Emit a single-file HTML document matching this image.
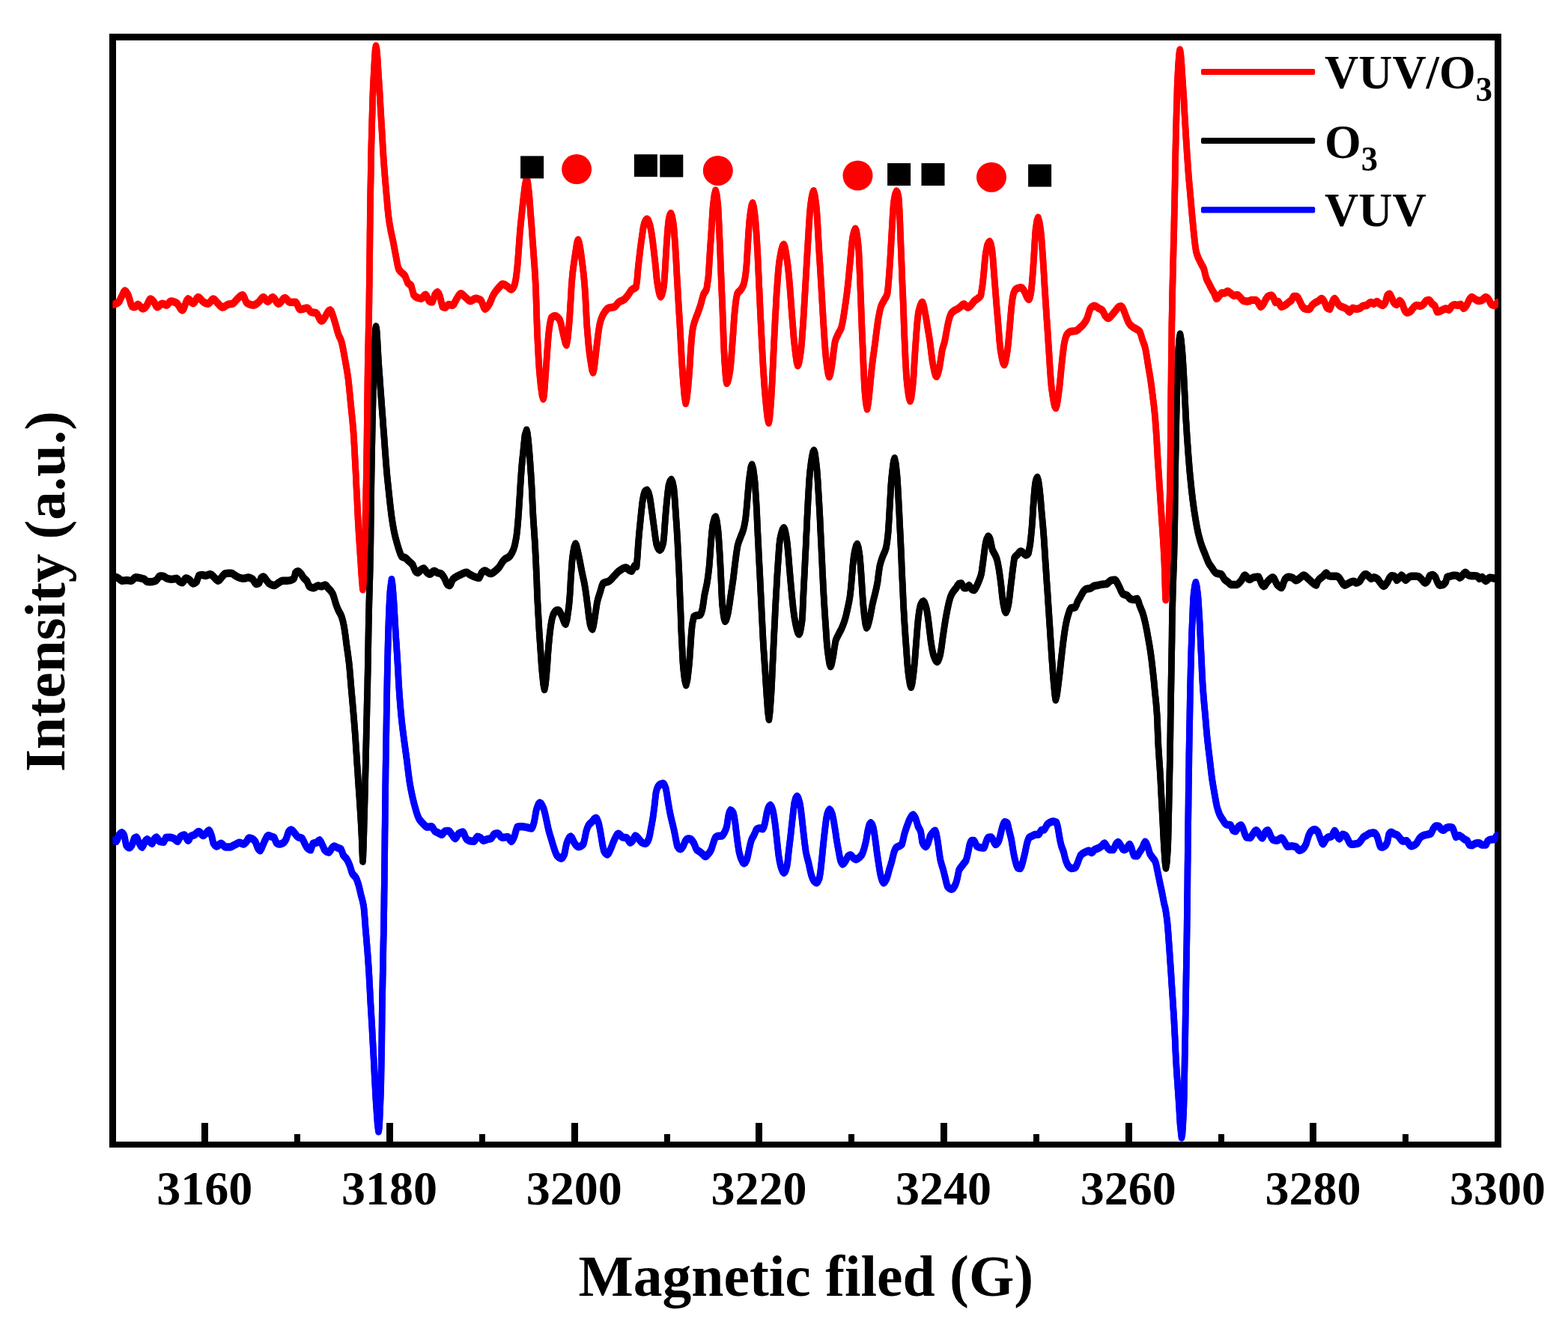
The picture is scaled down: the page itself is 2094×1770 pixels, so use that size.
<!DOCTYPE html>
<html><head><meta charset="utf-8"><title>EPR spectra</title>
<style>
html,body{margin:0;padding:0;background:#fff;}
body{width:2094px;height:1770px;overflow:hidden;}
svg{display:block;}
text{font-family:"Liberation Serif","Times New Roman",serif;font-weight:bold;fill:#000;}
.tk{font-size:64px;}
.ax{font-size:77.6px;}
.lg{font-size:64px;}
.sub{font-size:45.5px;}
</style></head><body>
<svg width="2094" height="1770" viewBox="0 0 2094 1770">
<rect x="0" y="0" width="2094" height="1770" fill="#ffffff"/>
<defs><clipPath id="plot"><rect x="150.5" y="49.5" width="1850.3" height="1479.5"/></clipPath></defs>
<g id="ticks" shape-rendering="crispEdges">
<rect x="269" y="1500" width="9" height="29" fill="#000"/>
<rect x="393" y="1515" width="8" height="14" fill="#000"/>
<rect x="516" y="1500" width="9" height="29" fill="#000"/>
<rect x="640" y="1515" width="8" height="14" fill="#000"/>
<rect x="763" y="1500" width="9" height="29" fill="#000"/>
<rect x="887" y="1515" width="8" height="14" fill="#000"/>
<rect x="1009" y="1500" width="9" height="29" fill="#000"/>
<rect x="1133" y="1515" width="8" height="14" fill="#000"/>
<rect x="1256" y="1500" width="9" height="29" fill="#000"/>
<rect x="1380" y="1515" width="8" height="14" fill="#000"/>
<rect x="1503" y="1500" width="9" height="29" fill="#000"/>
<rect x="1627" y="1515" width="8" height="14" fill="#000"/>
<rect x="1749" y="1500" width="9" height="29" fill="#000"/>
<rect x="1873" y="1515" width="8" height="14" fill="#000"/>
</g>
<g id="frame" fill="#000" shape-rendering="crispEdges">
<rect x="146" y="45" width="9" height="1488"/>
<rect x="1996" y="45" width="9" height="1488"/>
<rect x="146" y="45" width="1859" height="9"/>
<rect x="146" y="1525" width="1859" height="8"/>
</g>
<g id="curves" clip-path="url(#plot)">
<g fill="none" stroke="#0000ff" stroke-width="8.6" stroke-linejoin="round" stroke-linecap="butt">
<path transform="translate(0,-0.9)" d="M147.0,1121.9 L148.8,1121.9 L150.5,1121.9 L152.1,1122.4 L153.7,1123.3 L155.3,1123.8 L156.6,1121.9 L157.9,1118.1 L159.2,1115.2 L160.9,1113.2 L162.6,1112.3 L164.2,1113.4 L165.9,1116.1 L167.2,1122.4 L168.4,1128.6 L169.8,1130.6 L171.2,1131.9 L172.6,1132.4 L173.9,1131.8 L175.1,1130.4 L176.4,1128.6 L177.9,1124.0 L179.3,1120.0 L180.8,1119.0 L182.2,1118.6 L183.5,1120.3 L184.7,1123.7 L186.0,1126.7 L187.3,1128.8 L188.5,1130.7 L189.8,1131.5 L191.6,1128.7 L193.3,1124.7 L194.9,1122.5 L196.5,1121.3 L197.8,1122.0 L199.1,1123.4 L200.4,1124.7 L201.8,1126.0 L203.2,1126.7 L204.6,1124.2 L206.1,1120.9 L207.6,1119.3 L209.0,1118.6 L210.3,1119.9 L211.5,1122.3 L212.8,1123.8 L214.2,1124.2 L215.7,1124.5 L217.2,1124.6 L218.6,1124.7 L220.1,1121.9 L221.5,1119.0 L223.1,1118.8 L224.6,1118.6 L226.2,1118.6 L227.6,1118.7 L229.1,1119.0 L230.6,1119.5 L232.0,1120.0 L233.3,1120.9 L234.7,1122.1 L236.1,1123.3 L237.4,1123.8 L239.0,1121.2 L240.6,1118.0 L242.1,1117.0 L243.5,1116.2 L244.9,1115.7 L246.4,1115.5 L248.0,1117.4 L249.6,1120.9 L251.2,1122.8 L252.5,1121.5 L253.7,1118.9 L255.0,1117.1 L256.6,1116.3 L258.2,1115.8 L259.8,1115.2 L261.2,1114.1 L262.6,1112.7 L264.1,1111.4 L265.5,1110.9 L266.9,1111.7 L268.4,1113.5 L269.9,1115.3 L271.3,1116.1 L272.6,1115.6 L273.8,1114.4 L275.1,1113.2 L276.4,1111.7 L277.7,1110.1 L279.0,1109.4 L280.3,1110.6 L281.5,1113.5 L282.8,1117.1 L284.7,1125.7 L286.3,1128.2 L287.9,1129.9 L289.5,1130.5 L290.9,1129.9 L292.4,1128.6 L293.8,1127.3 L295.2,1126.7 L296.6,1127.4 L298.1,1129.1 L299.6,1130.8 L301.0,1131.5 L302.4,1131.5 L303.9,1131.5 L305.3,1131.5 L306.7,1131.5 L308.1,1131.3 L309.4,1130.8 L310.8,1130.0 L312.1,1129.3 L313.5,1128.6 L315.2,1127.7 L316.9,1126.8 L318.5,1126.0 L320.2,1125.7 L321.8,1126.2 L323.4,1127.1 L325.0,1127.6 L326.3,1127.1 L327.5,1126.0 L328.8,1124.7 L330.1,1122.8 L331.3,1120.5 L332.6,1119.4 L334.2,1119.6 L335.8,1120.2 L337.4,1120.9 L338.7,1121.7 L339.9,1123.0 L341.2,1124.7 L342.6,1128.5 L344.1,1132.4 L345.8,1135.0 L347.4,1136.2 L349.1,1133.7 L350.8,1129.5 L352.1,1126.6 L353.4,1123.5 L354.7,1120.9 L356.4,1117.8 L358.1,1116.1 L359.5,1116.4 L360.9,1116.9 L362.3,1117.5 L363.6,1117.9 L364.9,1118.3 L366.2,1119.0 L367.6,1122.3 L369.0,1125.7 L370.3,1126.7 L371.6,1127.4 L372.9,1127.6 L374.3,1127.5 L375.8,1127.1 L377.2,1126.4 L378.6,1125.7 L379.9,1124.5 L381.2,1122.5 L382.5,1120.0 L383.9,1115.4 L385.3,1111.3 L387.1,1109.3 L388.8,1108.5 L390.2,1109.2 L391.6,1110.7 L393.0,1112.3 L394.6,1114.3 L396.2,1116.5 L397.8,1118.0 L399.2,1118.6 L400.6,1118.9 L402.1,1119.3 L403.5,1120.0 L405.1,1122.9 L406.8,1126.7 L408.5,1129.9 L410.2,1132.4 L411.8,1133.8 L413.4,1134.9 L415.0,1135.3 L416.4,1131.2 L417.9,1126.7 L419.5,1126.3 L421.1,1126.0 L422.7,1125.7 L424.1,1124.6 L425.5,1123.2 L426.9,1122.4 L428.6,1124.7 L430.4,1128.6 L431.7,1131.4 L432.9,1134.3 L434.2,1136.2 L435.9,1137.4 L437.7,1138.2 L439.4,1138.5 L441.1,1136.4 L442.8,1133.4 L444.5,1131.5 L446.1,1130.5 L447.6,1130.9 L449.0,1131.6 L450.5,1132.4 L452.1,1132.9 L453.7,1133.4 L455.3,1134.3 L456.8,1137.8 L458.2,1142.0 L459.8,1144.1 L461.4,1145.7 L463.0,1147.7 L464.3,1149.9 L465.5,1152.5 L466.8,1155.4 L468.1,1159.3 L469.3,1163.6 L470.6,1166.9 L472.2,1169.0 L473.8,1170.6 L475.4,1172.7 L477.1,1176.7 L478.9,1182.2 L480.5,1188.6 L482.1,1195.7 L483.9,1202.2 L485.7,1210.6 L486.5,1218.7 L487.4,1230.0 L488.2,1241.2 L489.1,1251.2 L489.9,1261.1 L490.8,1271.8 L491.5,1281.2 L492.2,1291.3 L492.9,1302.4 L493.4,1312.2 L494.0,1322.8 L494.5,1333.1 L495.1,1343.5 L495.7,1353.5 L496.3,1363.7 L496.9,1373.7 L497.4,1383.9 L498.0,1394.3 L498.5,1404.4 L499.1,1414.6 L499.6,1424.9 L500.1,1435.3 L500.7,1445.7 L501.2,1455.5 L501.8,1466.6 L502.5,1477.0 L503.1,1486.1 L504.3,1502.6 L505.5,1511.4 L506.2,1507.5 L506.9,1497.2 L507.5,1482.6 L508.2,1465.7 L508.5,1457.3 L508.8,1446.7 L509.0,1434.1 L509.3,1419.9 L509.6,1404.5 L509.8,1393.9 L509.9,1381.2 L510.1,1367.6 L510.2,1354.6 L510.4,1343.3 L510.6,1329.4 L510.9,1317.1 L511.1,1305.6 L511.4,1294.2 L511.6,1282.0 L511.8,1270.4 L512.0,1258.8 L512.3,1246.9 L512.5,1234.3 L512.7,1220.8 L512.9,1209.8 L513.0,1198.1 L513.2,1185.8 L513.4,1172.9 L513.5,1159.5 L513.7,1145.5 L513.8,1134.9 L513.9,1123.3 L514.0,1111.2 L514.2,1099.3 L514.3,1087.8 L514.4,1077.5 L514.6,1064.4 L514.7,1052.1 L514.9,1040.3 L515.0,1028.9 L515.2,1018.0 L515.4,1007.4 L515.5,997.0 L515.7,986.8 L515.9,974.3 L516.1,961.9 L516.3,949.8 L516.5,938.0 L516.7,926.6 L516.9,915.8 L517.1,905.6 L517.3,896.1 L517.6,882.6 L517.9,869.7 L518.2,857.6 L518.5,846.5 L518.8,836.5 L519.1,828.0 L519.8,811.0 L520.5,797.0 L521.2,787.2 L523.0,774.1 L524.1,780.9 L525.2,794.0 L525.9,803.5 L526.6,815.1 L527.3,827.5 L528.0,839.4 L528.7,850.8 L529.5,861.9 L530.2,873.2 L530.9,884.7 L531.6,896.2 L532.2,908.3 L532.9,919.9 L533.6,930.1 L534.6,942.9 L535.6,954.1 L536.6,964.1 L538.3,978.5 L540.0,991.3 L541.7,1003.8 L543.4,1016.2 L545.1,1030.3 L546.8,1043.4 L548.5,1053.3 L550.2,1061.6 L551.7,1068.2 L553.2,1074.3 L554.7,1079.7 L556.2,1085.0 L557.8,1089.7 L559.3,1093.3 L560.7,1095.5 L562.1,1097.2 L563.5,1098.7 L564.9,1100.1 L566.3,1101.6 L567.8,1103.1 L569.2,1104.2 L570.6,1104.7 L572.0,1104.6 L573.5,1104.5 L574.9,1104.3 L576.3,1104.2 L577.8,1105.5 L579.3,1108.2 L580.8,1110.3 L582.3,1111.2 L583.8,1111.9 L585.3,1112.6 L586.8,1113.5 L588.4,1114.5 L589.9,1114.9 L591.4,1113.8 L592.9,1111.6 L594.4,1110.3 L595.9,1110.1 L597.4,1109.9 L598.9,1109.9 L600.4,1110.8 L602.0,1112.8 L603.5,1114.9 L605.0,1117.0 L606.5,1119.1 L608.0,1120.1 L609.5,1118.6 L611.0,1115.8 L612.5,1113.7 L613.9,1112.9 L615.4,1112.2 L616.8,1111.7 L618.2,1111.5 L619.7,1113.5 L621.2,1117.5 L622.7,1120.5 L624.2,1121.8 L625.8,1122.8 L627.3,1123.3 L628.7,1123.5 L630.1,1123.7 L631.5,1123.9 L632.9,1123.9 L634.4,1122.3 L636.0,1119.4 L637.5,1117.8 L639.0,1118.0 L640.5,1118.6 L642.0,1119.4 L643.7,1121.3 L645.4,1122.8 L646.8,1122.6 L648.2,1122.1 L649.7,1121.5 L651.1,1121.0 L652.6,1120.7 L654.1,1120.5 L655.6,1120.1 L657.1,1118.5 L658.7,1115.8 L660.2,1114.2 L661.7,1113.7 L663.2,1113.4 L664.7,1113.3 L666.1,1114.1 L667.5,1116.0 L669.0,1117.9 L670.4,1118.7 L672.0,1118.7 L673.6,1118.6 L675.1,1118.4 L676.7,1118.3 L678.3,1118.3 L679.8,1119.8 L681.3,1122.4 L682.8,1123.9 L684.3,1122.6 L685.9,1119.6 L687.4,1116.0 L689.1,1109.5 L690.8,1104.7 L692.2,1104.5 L693.6,1104.3 L695.0,1104.2 L696.4,1104.2 L697.8,1104.3 L699.1,1104.4 L700.5,1104.6 L701.8,1104.9 L703.2,1105.1 L704.6,1105.4 L705.9,1105.8 L707.3,1106.1 L708.6,1106.4 L710.0,1106.5 L711.7,1103.7 L713.4,1097.9 L714.8,1089.8 L716.2,1082.0 L717.8,1077.4 L719.3,1073.9 L720.9,1072.5 L722.6,1073.6 L724.2,1076.2 L725.9,1079.7 L727.6,1085.6 L729.3,1093.3 L731.0,1101.4 L732.7,1109.2 L734.4,1115.1 L736.1,1120.5 L737.8,1126.4 L739.5,1131.9 L741.0,1136.4 L742.6,1140.6 L744.1,1143.2 L745.5,1144.5 L746.9,1145.6 L748.3,1146.3 L749.7,1146.6 L751.1,1145.8 L752.4,1143.8 L753.8,1141.0 L755.1,1134.3 L756.5,1127.3 L757.9,1123.6 L759.4,1120.5 L760.8,1118.4 L762.2,1117.6 L763.6,1118.8 L765.0,1121.6 L766.5,1124.9 L767.9,1127.3 L769.4,1129.1 L770.9,1130.6 L772.4,1131.2 L773.8,1131.0 L775.1,1130.6 L776.5,1129.8 L777.8,1128.7 L779.2,1127.3 L780.9,1120.4 L782.6,1111.5 L784.3,1106.1 L786.0,1102.4 L787.5,1100.6 L789.0,1099.2 L790.5,1097.9 L791.8,1096.3 L793.1,1094.6 L794.5,1093.3 L795.8,1092.7 L797.1,1093.8 L798.3,1096.6 L799.6,1100.1 L801.3,1108.2 L803.0,1118.3 L804.7,1128.8 L806.4,1136.4 L807.9,1139.0 L809.5,1140.7 L811.0,1141.4 L812.5,1140.2 L814.0,1137.3 L815.5,1134.1 L817.0,1130.5 L818.5,1126.4 L820.0,1122.8 L821.4,1119.8 L822.9,1116.8 L824.3,1114.6 L825.7,1113.7 L827.1,1114.3 L828.5,1115.8 L830.0,1117.3 L831.4,1118.3 L832.8,1118.6 L834.2,1118.8 L835.6,1119.0 L837.0,1119.4 L838.5,1121.2 L840.1,1124.0 L841.6,1125.5 L843.3,1124.6 L845.0,1122.8 L846.7,1119.2 L848.4,1116.5 L849.9,1117.2 L851.4,1118.8 L852.9,1120.5 L854.4,1122.3 L855.9,1124.2 L857.4,1125.5 L858.9,1126.2 L860.5,1126.7 L862.0,1126.9 L863.5,1126.0 L865.0,1123.7 L866.5,1120.5 L867.9,1114.9 L869.2,1107.3 L870.6,1100.1 L872.0,1092.0 L874.0,1076.7 L875.9,1059.4 L877.3,1054.0 L878.7,1050.8 L880.2,1049.0 L881.6,1047.9 L882.9,1047.3 L884.2,1046.8 L885.5,1046.6 L886.8,1047.6 L888.0,1050.2 L889.3,1053.7 L890.5,1060.4 L891.8,1069.0 L893.0,1075.9 L894.1,1082.4 L895.5,1089.4 L897.0,1095.8 L898.4,1101.5 L899.8,1107.3 L901.0,1113.0 L902.1,1118.8 L903.4,1125.5 L904.6,1130.3 L905.9,1132.3 L907.2,1133.7 L908.5,1134.2 L909.8,1133.6 L911.0,1132.1 L912.3,1130.3 L913.8,1126.9 L915.2,1123.6 L916.9,1121.4 L918.6,1120.4 L919.9,1120.5 L921.1,1120.7 L922.4,1121.1 L923.8,1122.2 L925.3,1124.2 L926.7,1126.5 L928.0,1129.4 L929.2,1132.8 L930.5,1135.1 L931.8,1136.1 L933.0,1136.8 L934.3,1137.6 L935.6,1138.6 L936.9,1139.8 L938.2,1140.9 L939.5,1142.2 L940.7,1143.5 L942.0,1144.1 L943.3,1143.6 L944.5,1142.3 L945.8,1140.9 L947.1,1139.4 L948.4,1137.5 L949.7,1135.1 L951.1,1131.1 L952.5,1126.5 L954.0,1121.9 L955.4,1118.8 L956.7,1117.9 L957.9,1117.2 L959.2,1116.9 L960.8,1116.7 L962.4,1116.7 L964.0,1116.5 L965.3,1115.6 L966.6,1113.6 L967.9,1111.2 L969.3,1108.1 L970.7,1103.5 L972.7,1090.1 L974.1,1084.9 L975.5,1082.4 L976.8,1082.9 L978.1,1084.2 L979.4,1086.2 L980.6,1091.4 L981.9,1099.7 L983.0,1109.0 L984.2,1118.8 L985.6,1129.5 L987.0,1138.0 L988.5,1143.7 L989.9,1147.6 L991.2,1150.3 L992.4,1152.4 L993.7,1153.3 L995.0,1152.5 L996.3,1150.4 L997.6,1147.6 L999.0,1141.6 L1000.5,1134.2 L1001.9,1127.9 L1003.3,1122.7 L1004.6,1119.7 L1005.9,1117.4 L1007.2,1115.0 L1008.5,1112.0 L1009.7,1109.0 L1011.0,1107.3 L1012.3,1106.8 L1013.5,1106.5 L1014.8,1106.4 L1016.1,1106.6 L1017.4,1107.1 L1018.7,1107.3 L1020.1,1104.8 L1021.5,1099.7 L1022.8,1093.1 L1024.0,1086.2 L1025.2,1081.7 L1026.3,1078.6 L1027.5,1076.6 L1028.8,1075.7 L1030.4,1077.8 L1032.1,1082.4 L1033.5,1089.6 L1035.0,1099.7 L1036.2,1109.7 L1037.4,1120.7 L1038.6,1131.9 L1039.7,1141.8 L1041.2,1150.9 L1042.6,1157.2 L1044.1,1161.4 L1045.5,1164.5 L1047.0,1165.8 L1048.3,1164.6 L1049.6,1161.6 L1050.9,1157.2 L1052.1,1148.9 L1053.2,1138.0 L1054.6,1126.6 L1056.0,1115.0 L1057.2,1103.5 L1058.5,1092.0 L1059.7,1081.1 L1060.8,1072.8 L1062.5,1066.5 L1064.3,1063.8 L1065.6,1065.1 L1066.8,1068.4 L1068.1,1072.8 L1069.4,1080.9 L1070.8,1092.0 L1072.0,1103.3 L1073.3,1115.0 L1074.8,1127.6 L1076.2,1138.0 L1077.5,1143.8 L1078.7,1148.5 L1080.0,1153.3 L1081.7,1161.5 L1083.4,1168.7 L1085.1,1173.3 L1086.7,1176.3 L1088.0,1177.7 L1089.2,1178.8 L1090.5,1179.2 L1091.8,1178.3 L1093.1,1175.9 L1094.4,1172.5 L1095.7,1164.7 L1096.9,1153.3 L1098.1,1142.0 L1099.2,1130.3 L1100.6,1117.3 L1102.0,1105.4 L1103.2,1095.4 L1104.5,1088.2 L1106.2,1083.5 L1107.8,1081.5 L1109.1,1082.5 L1110.3,1084.9 L1111.6,1088.2 L1113.0,1094.7 L1114.5,1103.5 L1116.0,1113.1 L1117.4,1122.7 L1118.8,1130.6 L1120.2,1138.0 L1121.3,1144.5 L1122.5,1149.5 L1124.0,1152.8 L1125.4,1154.3 L1126.7,1153.5 L1128.1,1151.6 L1129.4,1149.5 L1131.1,1146.3 L1132.7,1143.7 L1134.2,1142.7 L1135.6,1142.2 L1136.9,1142.9 L1138.1,1144.4 L1139.4,1145.7 L1140.7,1146.7 L1141.9,1147.6 L1143.2,1148.0 L1144.5,1147.6 L1145.8,1146.7 L1147.1,1145.7 L1148.4,1144.7 L1149.6,1143.4 L1150.9,1141.8 L1152.3,1138.6 L1153.8,1134.2 L1155.2,1129.0 L1156.7,1122.7 L1157.8,1115.9 L1159.0,1109.2 L1160.9,1101.6 L1162.8,1099.3 L1164.5,1101.1 L1166.2,1105.4 L1167.3,1111.0 L1168.5,1118.8 L1169.8,1128.2 L1171.0,1138.0 L1172.5,1148.1 L1173.9,1157.2 L1175.3,1165.9 L1176.8,1172.5 L1178.4,1177.1 L1180.0,1179.2 L1181.5,1178.2 L1183.0,1175.7 L1184.5,1172.5 L1186.1,1167.3 L1187.7,1161.0 L1189.5,1155.4 L1191.2,1149.5 L1192.6,1143.4 L1194.0,1138.0 L1195.5,1134.4 L1196.9,1132.2 L1198.2,1131.4 L1199.4,1130.9 L1200.7,1130.3 L1202.0,1129.6 L1203.3,1128.8 L1204.6,1127.5 L1206.0,1122.1 L1207.5,1115.0 L1208.8,1110.8 L1210.0,1107.0 L1211.3,1103.5 L1212.6,1099.9 L1213.8,1096.6 L1215.1,1093.9 L1216.6,1091.4 L1218.0,1089.4 L1219.5,1088.5 L1221.2,1090.3 L1223.0,1093.9 L1224.5,1098.6 L1225.9,1103.5 L1227.2,1106.0 L1228.4,1108.0 L1229.7,1111.2 L1231.6,1124.6 L1233.2,1128.0 L1234.8,1130.1 L1236.4,1130.9 L1237.8,1129.5 L1239.3,1126.5 L1240.8,1121.6 L1242.2,1116.9 L1243.6,1114.7 L1245.0,1113.1 L1246.3,1111.6 L1247.6,1110.2 L1248.9,1109.6 L1250.2,1112.7 L1251.4,1118.8 L1252.6,1126.0 L1253.7,1134.2 L1254.8,1142.5 L1256.0,1149.5 L1257.7,1155.6 L1259.4,1161.0 L1260.8,1166.6 L1262.3,1172.5 L1263.8,1179.2 L1265.2,1184.0 L1266.6,1185.6 L1268.1,1186.8 L1269.5,1187.5 L1270.9,1187.8 L1272.5,1187.0 L1274.1,1184.9 L1275.7,1182.1 L1277.2,1178.1 L1278.6,1172.5 L1280.5,1162.9 L1281.8,1160.4 L1283.0,1158.8 L1284.3,1157.2 L1285.8,1155.2 L1287.2,1153.3 L1288.7,1151.6 L1290.1,1149.5 L1291.5,1144.7 L1293.0,1138.0 L1294.9,1128.4 L1296.3,1124.7 L1297.7,1123.0 L1299.2,1123.0 L1300.6,1123.0 L1301.9,1124.7 L1303.2,1128.0 L1304.5,1130.3 L1306.1,1131.2 L1307.6,1131.8 L1309.2,1132.2 L1310.8,1132.4 L1312.4,1132.5 L1314.0,1132.6 L1315.5,1129.4 L1316.9,1124.6 L1318.3,1120.9 L1319.8,1118.8 L1321.1,1118.6 L1322.3,1118.4 L1323.6,1118.4 L1325.0,1120.0 L1326.5,1122.7 L1328.0,1125.9 L1329.4,1128.0 L1330.7,1127.5 L1331.9,1126.3 L1333.2,1124.6 L1334.7,1120.6 L1336.1,1115.0 L1337.5,1108.9 L1339.0,1103.5 L1340.4,1099.9 L1341.8,1098.1 L1343.5,1098.5 L1345.3,1099.7 L1346.4,1103.5 L1347.6,1109.2 L1349.0,1114.7 L1350.5,1120.7 L1351.9,1129.2 L1353.3,1138.0 L1354.8,1145.4 L1356.2,1151.4 L1357.7,1156.3 L1359.1,1159.1 L1360.8,1159.8 L1362.5,1160.0 L1364.2,1157.0 L1365.8,1151.4 L1367.2,1146.1 L1368.7,1139.9 L1370.1,1132.9 L1371.5,1126.5 L1373.0,1121.7 L1374.4,1118.8 L1375.7,1118.0 L1376.9,1117.4 L1378.2,1116.9 L1379.5,1116.2 L1380.8,1115.4 L1382.1,1115.0 L1383.7,1114.9 L1385.3,1114.8 L1386.9,1114.6 L1388.2,1113.2 L1389.4,1110.8 L1390.7,1109.2 L1392.0,1108.9 L1393.2,1108.7 L1394.5,1108.3 L1395.8,1106.6 L1397.1,1103.8 L1398.4,1101.6 L1399.7,1100.4 L1400.9,1099.4 L1402.2,1098.7 L1403.5,1098.1 L1404.7,1097.6 L1406.0,1097.4 L1407.6,1097.5 L1409.2,1098.0 L1410.8,1098.7 L1411.9,1101.8 L1413.1,1107.3 L1415.0,1118.8 L1416.2,1125.1 L1417.5,1130.3 L1419.0,1134.2 L1420.4,1138.0 L1421.8,1143.9 L1423.3,1149.5 L1424.6,1152.7 L1425.8,1155.4 L1427.1,1157.2 L1428.4,1158.5 L1429.7,1159.6 L1431.0,1160.0 L1432.6,1159.9 L1434.1,1159.6 L1435.7,1159.1 L1437.0,1157.5 L1438.3,1154.6 L1439.6,1151.4 L1441.3,1146.7 L1443.0,1142.8 L1444.7,1141.1 L1446.3,1139.9 L1447.6,1139.2 L1448.8,1138.6 L1450.1,1138.0 L1451.4,1137.4 L1452.7,1136.8 L1454.0,1136.5 L1455.3,1137.1 L1456.5,1138.4 L1457.8,1139.0 L1459.1,1138.2 L1460.3,1136.4 L1461.6,1135.1 L1463.2,1134.4 L1464.8,1133.8 L1466.4,1133.2 L1468.0,1132.4 L1469.6,1131.4 L1471.2,1130.3 L1472.5,1128.9 L1473.7,1127.3 L1475.0,1126.5 L1476.3,1127.7 L1477.6,1130.1 L1478.9,1132.2 L1480.2,1133.5 L1481.4,1134.6 L1482.7,1135.1 L1484.0,1135.1 L1485.2,1135.1 L1486.5,1135.1 L1487.8,1133.5 L1489.1,1130.2 L1490.4,1127.5 L1491.8,1125.8 L1493.2,1125.0 L1494.5,1126.0 L1495.8,1128.2 L1497.1,1130.3 L1498.4,1132.3 L1499.6,1134.2 L1500.9,1135.1 L1502.2,1134.8 L1503.4,1134.1 L1504.7,1133.2 L1506.0,1131.4 L1507.3,1129.1 L1508.6,1128.0 L1510.0,1130.2 L1511.5,1134.2 L1512.9,1139.3 L1514.3,1142.8 L1515.6,1143.1 L1516.9,1143.3 L1518.2,1143.4 L1519.5,1142.4 L1520.7,1140.2 L1522.0,1138.0 L1523.3,1136.2 L1524.5,1134.3 L1525.8,1132.2 L1527.5,1127.6 L1529.3,1124.6 L1530.9,1126.5 L1532.5,1130.3 L1534.0,1135.2 L1535.4,1139.9 L1536.7,1142.2 L1537.9,1144.0 L1539.2,1145.7 L1540.5,1147.4 L1541.8,1149.0 L1543.1,1151.4 L1544.5,1157.2 L1546.0,1164.8 L1547.4,1171.5 L1548.8,1178.2 L1550.2,1184.9 L1551.7,1191.7 L1553.2,1199.6 L1554.6,1207.0 L1556.1,1212.7 L1557.4,1220.4 L1558.8,1231.0 L1559.6,1239.7 L1560.4,1250.4 L1561.2,1261.6 L1561.9,1271.4 L1562.6,1281.7 L1563.3,1292.2 L1564.0,1302.3 L1564.6,1312.6 L1565.3,1322.9 L1566.0,1332.9 L1566.6,1342.9 L1567.3,1353.5 L1567.9,1363.1 L1568.4,1373.3 L1569.0,1384.1 L1569.5,1394.3 L1569.9,1405.0 L1570.4,1414.7 L1571.1,1425.8 L1571.7,1435.6 L1572.4,1445.3 L1573.1,1455.5 L1573.8,1465.5 L1574.5,1475.9 L1575.3,1489.9 L1576.1,1502.4 L1578.0,1519.6 L1578.9,1515.0 L1579.7,1502.9 L1580.6,1486.1 L1580.9,1478.2 L1581.2,1466.9 L1581.4,1453.5 L1581.7,1439.1 L1582.0,1424.9 L1582.2,1413.7 L1582.4,1401.7 L1582.7,1389.3 L1582.9,1376.6 L1583.1,1363.7 L1583.3,1351.8 L1583.5,1339.6 L1583.7,1327.2 L1583.9,1314.7 L1584.1,1302.4 L1584.3,1290.5 L1584.5,1278.9 L1584.7,1267.1 L1584.9,1254.7 L1585.1,1241.2 L1585.2,1231.2 L1585.4,1220.5 L1585.5,1209.0 L1585.6,1197.0 L1585.8,1184.7 L1585.9,1172.1 L1586.0,1159.4 L1586.2,1146.9 L1586.3,1134.5 L1586.4,1122.5 L1586.6,1111.0 L1586.7,1100.1 L1586.9,1086.2 L1587.1,1072.5 L1587.2,1059.1 L1587.4,1046.0 L1587.6,1033.2 L1587.8,1020.9 L1587.9,1009.0 L1588.1,997.6 L1588.3,986.8 L1588.5,973.7 L1588.8,960.9 L1589.0,948.7 L1589.2,936.9 L1589.4,925.7 L1589.6,915.1 L1589.9,905.2 L1590.1,896.1 L1590.5,882.7 L1590.8,870.4 L1591.2,859.2 L1591.5,848.8 L1591.9,839.4 L1592.5,825.5 L1593.0,812.3 L1593.5,801.3 L1594.1,794.0 L1595.5,782.9 L1596.9,778.1 L1598.2,783.2 L1599.6,794.0 L1600.4,802.8 L1601.1,814.8 L1601.9,828.0 L1602.5,838.4 L1603.0,849.9 L1603.5,861.8 L1604.1,873.4 L1604.7,885.4 L1605.2,897.6 L1605.8,909.0 L1606.4,918.7 L1607.4,931.4 L1608.3,942.1 L1609.3,952.7 L1610.3,964.5 L1611.3,976.2 L1612.3,986.8 L1613.9,1000.9 L1615.5,1014.0 L1617.0,1027.0 L1618.4,1038.9 L1620.1,1049.7 L1621.8,1059.3 L1623.5,1069.2 L1625.2,1077.5 L1626.9,1083.3 L1628.6,1087.7 L1630.1,1090.8 L1631.7,1093.3 L1633.2,1095.6 L1634.7,1097.9 L1636.2,1100.1 L1637.7,1101.3 L1639.1,1101.6 L1640.6,1101.8 L1642.0,1102.0 L1643.4,1102.4 L1645.1,1105.7 L1646.8,1109.2 L1648.5,1110.0 L1650.2,1110.3 L1651.9,1107.9 L1653.6,1104.7 L1654.9,1103.6 L1656.3,1102.7 L1657.6,1102.4 L1659.2,1104.9 L1660.8,1109.2 L1662.6,1114.7 L1664.4,1118.3 L1666.1,1118.7 L1667.7,1118.9 L1669.4,1119.0 L1670.8,1118.0 L1672.1,1115.8 L1673.5,1113.7 L1674.8,1111.8 L1676.1,1110.0 L1677.4,1109.2 L1678.9,1110.3 L1680.4,1112.6 L1681.9,1114.9 L1683.2,1116.8 L1684.5,1118.6 L1685.8,1119.4 L1687.1,1117.6 L1688.5,1114.1 L1689.8,1111.5 L1691.5,1109.9 L1693.2,1109.2 L1694.9,1111.8 L1696.6,1116.0 L1698.3,1119.5 L1700.0,1121.7 L1701.3,1122.2 L1702.7,1122.5 L1704.0,1122.7 L1705.3,1122.8 L1706.8,1122.3 L1708.3,1121.1 L1709.9,1119.9 L1711.4,1119.4 L1712.9,1120.4 L1714.4,1122.7 L1715.9,1125.1 L1717.6,1128.5 L1719.3,1130.7 L1720.7,1130.6 L1722.2,1130.5 L1723.6,1130.4 L1725.0,1130.3 L1726.4,1130.4 L1727.8,1130.6 L1729.3,1131.0 L1730.7,1131.4 L1732.2,1132.8 L1733.7,1134.9 L1735.2,1136.0 L1736.7,1135.7 L1738.2,1135.0 L1739.7,1134.1 L1741.2,1132.6 L1742.8,1130.3 L1744.3,1127.3 L1746.0,1121.7 L1747.7,1116.0 L1749.4,1112.5 L1751.1,1110.3 L1752.6,1109.2 L1754.1,1108.4 L1755.6,1108.1 L1757.1,1108.5 L1758.5,1109.6 L1760.0,1111.1 L1761.5,1115.0 L1763.1,1119.8 L1764.4,1123.1 L1765.6,1126.0 L1766.9,1127.3 L1768.8,1124.7 L1770.6,1121.1 L1772.2,1119.6 L1773.7,1118.6 L1775.2,1118.1 L1776.6,1117.8 L1778.1,1117.3 L1779.5,1115.1 L1781.0,1111.7 L1782.4,1109.9 L1783.7,1111.4 L1784.9,1114.5 L1786.2,1117.3 L1787.5,1119.4 L1788.7,1120.5 L1790.1,1119.0 L1791.6,1116.3 L1793.0,1114.8 L1794.3,1115.0 L1795.5,1115.4 L1796.8,1116.1 L1798.3,1118.1 L1799.9,1121.1 L1801.2,1123.9 L1802.4,1126.1 L1804.0,1127.4 L1805.5,1127.9 L1806.9,1127.8 L1808.4,1127.6 L1809.8,1127.3 L1811.1,1127.1 L1812.3,1127.0 L1813.6,1126.7 L1815.0,1125.8 L1816.5,1124.1 L1817.9,1122.3 L1819.5,1120.0 L1821.0,1118.0 L1822.3,1117.2 L1823.5,1116.7 L1824.8,1116.1 L1826.7,1114.7 L1828.5,1113.6 L1830.0,1113.1 L1831.6,1112.8 L1833.2,1112.5 L1834.7,1112.4 L1836.0,1112.9 L1837.2,1114.3 L1838.5,1116.1 L1839.8,1119.4 L1841.0,1123.6 L1842.2,1128.1 L1843.5,1131.0 L1844.8,1131.5 L1846.0,1131.7 L1847.8,1131.1 L1849.7,1129.8 L1851.2,1128.0 L1852.8,1124.8 L1854.7,1114.8 L1856.2,1112.6 L1857.8,1111.7 L1859.3,1112.2 L1860.7,1113.3 L1862.2,1114.2 L1864.1,1114.8 L1865.9,1115.5 L1867.8,1117.4 L1869.6,1119.8 L1870.9,1121.4 L1872.1,1122.9 L1873.4,1123.6 L1875.1,1123.5 L1876.7,1123.4 L1878.4,1123.3 L1880.0,1124.9 L1881.5,1127.3 L1883.0,1129.3 L1884.6,1130.4 L1886.4,1130.0 L1888.3,1129.2 L1889.6,1128.4 L1890.8,1127.4 L1892.1,1126.1 L1893.9,1122.9 L1895.8,1119.8 L1897.5,1118.2 L1899.1,1117.0 L1900.8,1116.1 L1902.5,1115.6 L1904.1,1115.2 L1905.8,1114.8 L1907.4,1114.5 L1909.1,1114.2 L1910.7,1113.6 L1912.3,1110.9 L1913.9,1107.4 L1915.8,1104.8 L1917.6,1103.4 L1919.4,1103.5 L1921.3,1103.6 L1922.8,1105.3 L1924.4,1107.4 L1926.0,1108.4 L1927.6,1108.9 L1929.4,1107.7 L1931.3,1106.1 L1932.8,1105.5 L1934.2,1105.1 L1935.7,1104.9 L1937.6,1105.1 L1939.4,1105.5 L1940.7,1107.6 L1941.9,1111.1 L1943.2,1115.3 L1944.4,1118.0 L1946.2,1117.0 L1948.1,1116.1 L1949.4,1116.4 L1950.6,1117.2 L1951.9,1118.0 L1953.8,1119.6 L1955.6,1121.1 L1957.4,1121.9 L1959.3,1122.9 L1960.8,1125.9 L1962.4,1128.6 L1964.0,1129.0 L1965.6,1129.2 L1967.2,1128.6 L1968.9,1127.5 L1970.5,1126.7 L1972.0,1126.4 L1973.4,1126.2 L1974.9,1126.1 L1976.4,1126.7 L1977.8,1128.0 L1979.3,1128.6 L1980.9,1128.6 L1982.6,1128.6 L1984.2,1128.6 L1985.5,1126.4 L1986.7,1123.6 L1988.0,1122.7 L1989.2,1122.1 L1990.5,1121.7 L1992.2,1121.5 L1993.8,1121.4 L1995.5,1121.1 L1997.3,1118.5 L1999.2,1116.1 L2000.8,1116.1 L2002.4,1116.1 L2004.0,1116.1"/>
<path transform="translate(0,0.9)" d="M147.0,1121.9 L148.8,1121.9 L150.5,1121.9 L152.1,1122.4 L153.7,1123.3 L155.3,1123.8 L156.6,1121.9 L157.9,1118.1 L159.2,1115.2 L160.9,1113.2 L162.6,1112.3 L164.2,1113.4 L165.9,1116.1 L167.2,1122.4 L168.4,1128.6 L169.8,1130.6 L171.2,1131.9 L172.6,1132.4 L173.9,1131.8 L175.1,1130.4 L176.4,1128.6 L177.9,1124.0 L179.3,1120.0 L180.8,1119.0 L182.2,1118.6 L183.5,1120.3 L184.7,1123.7 L186.0,1126.7 L187.3,1128.8 L188.5,1130.7 L189.8,1131.5 L191.6,1128.7 L193.3,1124.7 L194.9,1122.5 L196.5,1121.3 L197.8,1122.0 L199.1,1123.4 L200.4,1124.7 L201.8,1126.0 L203.2,1126.7 L204.6,1124.2 L206.1,1120.9 L207.6,1119.3 L209.0,1118.6 L210.3,1119.9 L211.5,1122.3 L212.8,1123.8 L214.2,1124.2 L215.7,1124.5 L217.2,1124.6 L218.6,1124.7 L220.1,1121.9 L221.5,1119.0 L223.1,1118.8 L224.6,1118.6 L226.2,1118.6 L227.6,1118.7 L229.1,1119.0 L230.6,1119.5 L232.0,1120.0 L233.3,1120.9 L234.7,1122.1 L236.1,1123.3 L237.4,1123.8 L239.0,1121.2 L240.6,1118.0 L242.1,1117.0 L243.5,1116.2 L244.9,1115.7 L246.4,1115.5 L248.0,1117.4 L249.6,1120.9 L251.2,1122.8 L252.5,1121.5 L253.7,1118.9 L255.0,1117.1 L256.6,1116.3 L258.2,1115.8 L259.8,1115.2 L261.2,1114.1 L262.6,1112.7 L264.1,1111.4 L265.5,1110.9 L266.9,1111.7 L268.4,1113.5 L269.9,1115.3 L271.3,1116.1 L272.6,1115.6 L273.8,1114.4 L275.1,1113.2 L276.4,1111.7 L277.7,1110.1 L279.0,1109.4 L280.3,1110.6 L281.5,1113.5 L282.8,1117.1 L284.7,1125.7 L286.3,1128.2 L287.9,1129.9 L289.5,1130.5 L290.9,1129.9 L292.4,1128.6 L293.8,1127.3 L295.2,1126.7 L296.6,1127.4 L298.1,1129.1 L299.6,1130.8 L301.0,1131.5 L302.4,1131.5 L303.9,1131.5 L305.3,1131.5 L306.7,1131.5 L308.1,1131.3 L309.4,1130.8 L310.8,1130.0 L312.1,1129.3 L313.5,1128.6 L315.2,1127.7 L316.9,1126.8 L318.5,1126.0 L320.2,1125.7 L321.8,1126.2 L323.4,1127.1 L325.0,1127.6 L326.3,1127.1 L327.5,1126.0 L328.8,1124.7 L330.1,1122.8 L331.3,1120.5 L332.6,1119.4 L334.2,1119.6 L335.8,1120.2 L337.4,1120.9 L338.7,1121.7 L339.9,1123.0 L341.2,1124.7 L342.6,1128.5 L344.1,1132.4 L345.8,1135.0 L347.4,1136.2 L349.1,1133.7 L350.8,1129.5 L352.1,1126.6 L353.4,1123.5 L354.7,1120.9 L356.4,1117.8 L358.1,1116.1 L359.5,1116.4 L360.9,1116.9 L362.3,1117.5 L363.6,1117.9 L364.9,1118.3 L366.2,1119.0 L367.6,1122.3 L369.0,1125.7 L370.3,1126.7 L371.6,1127.4 L372.9,1127.6 L374.3,1127.5 L375.8,1127.1 L377.2,1126.4 L378.6,1125.7 L379.9,1124.5 L381.2,1122.5 L382.5,1120.0 L383.9,1115.4 L385.3,1111.3 L387.1,1109.3 L388.8,1108.5 L390.2,1109.2 L391.6,1110.7 L393.0,1112.3 L394.6,1114.3 L396.2,1116.5 L397.8,1118.0 L399.2,1118.6 L400.6,1118.9 L402.1,1119.3 L403.5,1120.0 L405.1,1122.9 L406.8,1126.7 L408.5,1129.9 L410.2,1132.4 L411.8,1133.8 L413.4,1134.9 L415.0,1135.3 L416.4,1131.2 L417.9,1126.7 L419.5,1126.3 L421.1,1126.0 L422.7,1125.7 L424.1,1124.6 L425.5,1123.2 L426.9,1122.4 L428.6,1124.7 L430.4,1128.6 L431.7,1131.4 L432.9,1134.3 L434.2,1136.2 L435.9,1137.4 L437.7,1138.2 L439.4,1138.5 L441.1,1136.4 L442.8,1133.4 L444.5,1131.5 L446.1,1130.5 L447.6,1130.9 L449.0,1131.6 L450.5,1132.4 L452.1,1132.9 L453.7,1133.4 L455.3,1134.3 L456.8,1137.8 L458.2,1142.0 L459.8,1144.1 L461.4,1145.7 L463.0,1147.7 L464.3,1149.9 L465.5,1152.5 L466.8,1155.4 L468.1,1159.3 L469.3,1163.6 L470.6,1166.9 L472.2,1169.0 L473.8,1170.6 L475.4,1172.7 L477.1,1176.7 L478.9,1182.2 L480.5,1188.6 L482.1,1195.7 L483.9,1202.2 L485.7,1210.6 L486.5,1218.7 L487.4,1230.0 L488.2,1241.2 L489.1,1251.2 L489.9,1261.1 L490.8,1271.8 L491.5,1281.2 L492.2,1291.3 L492.9,1302.4 L493.4,1312.2 L494.0,1322.8 L494.5,1333.1 L495.1,1343.5 L495.7,1353.5 L496.3,1363.7 L496.9,1373.7 L497.4,1383.9 L498.0,1394.3 L498.5,1404.4 L499.1,1414.6 L499.6,1424.9 L500.1,1435.3 L500.7,1445.7 L501.2,1455.5 L501.8,1466.6 L502.5,1477.0 L503.1,1486.1 L504.3,1502.6 L505.5,1511.4 L506.2,1507.5 L506.9,1497.2 L507.5,1482.6 L508.2,1465.7 L508.5,1457.3 L508.8,1446.7 L509.0,1434.1 L509.3,1419.9 L509.6,1404.5 L509.8,1393.9 L509.9,1381.2 L510.1,1367.6 L510.2,1354.6 L510.4,1343.3 L510.6,1329.4 L510.9,1317.1 L511.1,1305.6 L511.4,1294.2 L511.6,1282.0 L511.8,1270.4 L512.0,1258.8 L512.3,1246.9 L512.5,1234.3 L512.7,1220.8 L512.9,1209.8 L513.0,1198.1 L513.2,1185.8 L513.4,1172.9 L513.5,1159.5 L513.7,1145.5 L513.8,1134.9 L513.9,1123.3 L514.0,1111.2 L514.2,1099.3 L514.3,1087.8 L514.4,1077.5 L514.6,1064.4 L514.7,1052.1 L514.9,1040.3 L515.0,1028.9 L515.2,1018.0 L515.4,1007.4 L515.5,997.0 L515.7,986.8 L515.9,974.3 L516.1,961.9 L516.3,949.8 L516.5,938.0 L516.7,926.6 L516.9,915.8 L517.1,905.6 L517.3,896.1 L517.6,882.6 L517.9,869.7 L518.2,857.6 L518.5,846.5 L518.8,836.5 L519.1,828.0 L519.8,811.0 L520.5,797.0 L521.2,787.2 L523.0,774.1 L524.1,780.9 L525.2,794.0 L525.9,803.5 L526.6,815.1 L527.3,827.5 L528.0,839.4 L528.7,850.8 L529.5,861.9 L530.2,873.2 L530.9,884.7 L531.6,896.2 L532.2,908.3 L532.9,919.9 L533.6,930.1 L534.6,942.9 L535.6,954.1 L536.6,964.1 L538.3,978.5 L540.0,991.3 L541.7,1003.8 L543.4,1016.2 L545.1,1030.3 L546.8,1043.4 L548.5,1053.3 L550.2,1061.6 L551.7,1068.2 L553.2,1074.3 L554.7,1079.7 L556.2,1085.0 L557.8,1089.7 L559.3,1093.3 L560.7,1095.5 L562.1,1097.2 L563.5,1098.7 L564.9,1100.1 L566.3,1101.6 L567.8,1103.1 L569.2,1104.2 L570.6,1104.7 L572.0,1104.6 L573.5,1104.5 L574.9,1104.3 L576.3,1104.2 L577.8,1105.5 L579.3,1108.2 L580.8,1110.3 L582.3,1111.2 L583.8,1111.9 L585.3,1112.6 L586.8,1113.5 L588.4,1114.5 L589.9,1114.9 L591.4,1113.8 L592.9,1111.6 L594.4,1110.3 L595.9,1110.1 L597.4,1109.9 L598.9,1109.9 L600.4,1110.8 L602.0,1112.8 L603.5,1114.9 L605.0,1117.0 L606.5,1119.1 L608.0,1120.1 L609.5,1118.6 L611.0,1115.8 L612.5,1113.7 L613.9,1112.9 L615.4,1112.2 L616.8,1111.7 L618.2,1111.5 L619.7,1113.5 L621.2,1117.5 L622.7,1120.5 L624.2,1121.8 L625.8,1122.8 L627.3,1123.3 L628.7,1123.5 L630.1,1123.7 L631.5,1123.9 L632.9,1123.9 L634.4,1122.3 L636.0,1119.4 L637.5,1117.8 L639.0,1118.0 L640.5,1118.6 L642.0,1119.4 L643.7,1121.3 L645.4,1122.8 L646.8,1122.6 L648.2,1122.1 L649.7,1121.5 L651.1,1121.0 L652.6,1120.7 L654.1,1120.5 L655.6,1120.1 L657.1,1118.5 L658.7,1115.8 L660.2,1114.2 L661.7,1113.7 L663.2,1113.4 L664.7,1113.3 L666.1,1114.1 L667.5,1116.0 L669.0,1117.9 L670.4,1118.7 L672.0,1118.7 L673.6,1118.6 L675.1,1118.4 L676.7,1118.3 L678.3,1118.3 L679.8,1119.8 L681.3,1122.4 L682.8,1123.9 L684.3,1122.6 L685.9,1119.6 L687.4,1116.0 L689.1,1109.5 L690.8,1104.7 L692.2,1104.5 L693.6,1104.3 L695.0,1104.2 L696.4,1104.2 L697.8,1104.3 L699.1,1104.4 L700.5,1104.6 L701.8,1104.9 L703.2,1105.1 L704.6,1105.4 L705.9,1105.8 L707.3,1106.1 L708.6,1106.4 L710.0,1106.5 L711.7,1103.7 L713.4,1097.9 L714.8,1089.8 L716.2,1082.0 L717.8,1077.4 L719.3,1073.9 L720.9,1072.5 L722.6,1073.6 L724.2,1076.2 L725.9,1079.7 L727.6,1085.6 L729.3,1093.3 L731.0,1101.4 L732.7,1109.2 L734.4,1115.1 L736.1,1120.5 L737.8,1126.4 L739.5,1131.9 L741.0,1136.4 L742.6,1140.6 L744.1,1143.2 L745.5,1144.5 L746.9,1145.6 L748.3,1146.3 L749.7,1146.6 L751.1,1145.8 L752.4,1143.8 L753.8,1141.0 L755.1,1134.3 L756.5,1127.3 L757.9,1123.6 L759.4,1120.5 L760.8,1118.4 L762.2,1117.6 L763.6,1118.8 L765.0,1121.6 L766.5,1124.9 L767.9,1127.3 L769.4,1129.1 L770.9,1130.6 L772.4,1131.2 L773.8,1131.0 L775.1,1130.6 L776.5,1129.8 L777.8,1128.7 L779.2,1127.3 L780.9,1120.4 L782.6,1111.5 L784.3,1106.1 L786.0,1102.4 L787.5,1100.6 L789.0,1099.2 L790.5,1097.9 L791.8,1096.3 L793.1,1094.6 L794.5,1093.3 L795.8,1092.7 L797.1,1093.8 L798.3,1096.6 L799.6,1100.1 L801.3,1108.2 L803.0,1118.3 L804.7,1128.8 L806.4,1136.4 L807.9,1139.0 L809.5,1140.7 L811.0,1141.4 L812.5,1140.2 L814.0,1137.3 L815.5,1134.1 L817.0,1130.5 L818.5,1126.4 L820.0,1122.8 L821.4,1119.8 L822.9,1116.8 L824.3,1114.6 L825.7,1113.7 L827.1,1114.3 L828.5,1115.8 L830.0,1117.3 L831.4,1118.3 L832.8,1118.6 L834.2,1118.8 L835.6,1119.0 L837.0,1119.4 L838.5,1121.2 L840.1,1124.0 L841.6,1125.5 L843.3,1124.6 L845.0,1122.8 L846.7,1119.2 L848.4,1116.5 L849.9,1117.2 L851.4,1118.8 L852.9,1120.5 L854.4,1122.3 L855.9,1124.2 L857.4,1125.5 L858.9,1126.2 L860.5,1126.7 L862.0,1126.9 L863.5,1126.0 L865.0,1123.7 L866.5,1120.5 L867.9,1114.9 L869.2,1107.3 L870.6,1100.1 L872.0,1092.0 L874.0,1076.7 L875.9,1059.4 L877.3,1054.0 L878.7,1050.8 L880.2,1049.0 L881.6,1047.9 L882.9,1047.3 L884.2,1046.8 L885.5,1046.6 L886.8,1047.6 L888.0,1050.2 L889.3,1053.7 L890.5,1060.4 L891.8,1069.0 L893.0,1075.9 L894.1,1082.4 L895.5,1089.4 L897.0,1095.8 L898.4,1101.5 L899.8,1107.3 L901.0,1113.0 L902.1,1118.8 L903.4,1125.5 L904.6,1130.3 L905.9,1132.3 L907.2,1133.7 L908.5,1134.2 L909.8,1133.6 L911.0,1132.1 L912.3,1130.3 L913.8,1126.9 L915.2,1123.6 L916.9,1121.4 L918.6,1120.4 L919.9,1120.5 L921.1,1120.7 L922.4,1121.1 L923.8,1122.2 L925.3,1124.2 L926.7,1126.5 L928.0,1129.4 L929.2,1132.8 L930.5,1135.1 L931.8,1136.1 L933.0,1136.8 L934.3,1137.6 L935.6,1138.6 L936.9,1139.8 L938.2,1140.9 L939.5,1142.2 L940.7,1143.5 L942.0,1144.1 L943.3,1143.6 L944.5,1142.3 L945.8,1140.9 L947.1,1139.4 L948.4,1137.5 L949.7,1135.1 L951.1,1131.1 L952.5,1126.5 L954.0,1121.9 L955.4,1118.8 L956.7,1117.9 L957.9,1117.2 L959.2,1116.9 L960.8,1116.7 L962.4,1116.7 L964.0,1116.5 L965.3,1115.6 L966.6,1113.6 L967.9,1111.2 L969.3,1108.1 L970.7,1103.5 L972.7,1090.1 L974.1,1084.9 L975.5,1082.4 L976.8,1082.9 L978.1,1084.2 L979.4,1086.2 L980.6,1091.4 L981.9,1099.7 L983.0,1109.0 L984.2,1118.8 L985.6,1129.5 L987.0,1138.0 L988.5,1143.7 L989.9,1147.6 L991.2,1150.3 L992.4,1152.4 L993.7,1153.3 L995.0,1152.5 L996.3,1150.4 L997.6,1147.6 L999.0,1141.6 L1000.5,1134.2 L1001.9,1127.9 L1003.3,1122.7 L1004.6,1119.7 L1005.9,1117.4 L1007.2,1115.0 L1008.5,1112.0 L1009.7,1109.0 L1011.0,1107.3 L1012.3,1106.8 L1013.5,1106.5 L1014.8,1106.4 L1016.1,1106.6 L1017.4,1107.1 L1018.7,1107.3 L1020.1,1104.8 L1021.5,1099.7 L1022.8,1093.1 L1024.0,1086.2 L1025.2,1081.7 L1026.3,1078.6 L1027.5,1076.6 L1028.8,1075.7 L1030.4,1077.8 L1032.1,1082.4 L1033.5,1089.6 L1035.0,1099.7 L1036.2,1109.7 L1037.4,1120.7 L1038.6,1131.9 L1039.7,1141.8 L1041.2,1150.9 L1042.6,1157.2 L1044.1,1161.4 L1045.5,1164.5 L1047.0,1165.8 L1048.3,1164.6 L1049.6,1161.6 L1050.9,1157.2 L1052.1,1148.9 L1053.2,1138.0 L1054.6,1126.6 L1056.0,1115.0 L1057.2,1103.5 L1058.5,1092.0 L1059.7,1081.1 L1060.8,1072.8 L1062.5,1066.5 L1064.3,1063.8 L1065.6,1065.1 L1066.8,1068.4 L1068.1,1072.8 L1069.4,1080.9 L1070.8,1092.0 L1072.0,1103.3 L1073.3,1115.0 L1074.8,1127.6 L1076.2,1138.0 L1077.5,1143.8 L1078.7,1148.5 L1080.0,1153.3 L1081.7,1161.5 L1083.4,1168.7 L1085.1,1173.3 L1086.7,1176.3 L1088.0,1177.7 L1089.2,1178.8 L1090.5,1179.2 L1091.8,1178.3 L1093.1,1175.9 L1094.4,1172.5 L1095.7,1164.7 L1096.9,1153.3 L1098.1,1142.0 L1099.2,1130.3 L1100.6,1117.3 L1102.0,1105.4 L1103.2,1095.4 L1104.5,1088.2 L1106.2,1083.5 L1107.8,1081.5 L1109.1,1082.5 L1110.3,1084.9 L1111.6,1088.2 L1113.0,1094.7 L1114.5,1103.5 L1116.0,1113.1 L1117.4,1122.7 L1118.8,1130.6 L1120.2,1138.0 L1121.3,1144.5 L1122.5,1149.5 L1124.0,1152.8 L1125.4,1154.3 L1126.7,1153.5 L1128.1,1151.6 L1129.4,1149.5 L1131.1,1146.3 L1132.7,1143.7 L1134.2,1142.7 L1135.6,1142.2 L1136.9,1142.9 L1138.1,1144.4 L1139.4,1145.7 L1140.7,1146.7 L1141.9,1147.6 L1143.2,1148.0 L1144.5,1147.6 L1145.8,1146.7 L1147.1,1145.7 L1148.4,1144.7 L1149.6,1143.4 L1150.9,1141.8 L1152.3,1138.6 L1153.8,1134.2 L1155.2,1129.0 L1156.7,1122.7 L1157.8,1115.9 L1159.0,1109.2 L1160.9,1101.6 L1162.8,1099.3 L1164.5,1101.1 L1166.2,1105.4 L1167.3,1111.0 L1168.5,1118.8 L1169.8,1128.2 L1171.0,1138.0 L1172.5,1148.1 L1173.9,1157.2 L1175.3,1165.9 L1176.8,1172.5 L1178.4,1177.1 L1180.0,1179.2 L1181.5,1178.2 L1183.0,1175.7 L1184.5,1172.5 L1186.1,1167.3 L1187.7,1161.0 L1189.5,1155.4 L1191.2,1149.5 L1192.6,1143.4 L1194.0,1138.0 L1195.5,1134.4 L1196.9,1132.2 L1198.2,1131.4 L1199.4,1130.9 L1200.7,1130.3 L1202.0,1129.6 L1203.3,1128.8 L1204.6,1127.5 L1206.0,1122.1 L1207.5,1115.0 L1208.8,1110.8 L1210.0,1107.0 L1211.3,1103.5 L1212.6,1099.9 L1213.8,1096.6 L1215.1,1093.9 L1216.6,1091.4 L1218.0,1089.4 L1219.5,1088.5 L1221.2,1090.3 L1223.0,1093.9 L1224.5,1098.6 L1225.9,1103.5 L1227.2,1106.0 L1228.4,1108.0 L1229.7,1111.2 L1231.6,1124.6 L1233.2,1128.0 L1234.8,1130.1 L1236.4,1130.9 L1237.8,1129.5 L1239.3,1126.5 L1240.8,1121.6 L1242.2,1116.9 L1243.6,1114.7 L1245.0,1113.1 L1246.3,1111.6 L1247.6,1110.2 L1248.9,1109.6 L1250.2,1112.7 L1251.4,1118.8 L1252.6,1126.0 L1253.7,1134.2 L1254.8,1142.5 L1256.0,1149.5 L1257.7,1155.6 L1259.4,1161.0 L1260.8,1166.6 L1262.3,1172.5 L1263.8,1179.2 L1265.2,1184.0 L1266.6,1185.6 L1268.1,1186.8 L1269.5,1187.5 L1270.9,1187.8 L1272.5,1187.0 L1274.1,1184.9 L1275.7,1182.1 L1277.2,1178.1 L1278.6,1172.5 L1280.5,1162.9 L1281.8,1160.4 L1283.0,1158.8 L1284.3,1157.2 L1285.8,1155.2 L1287.2,1153.3 L1288.7,1151.6 L1290.1,1149.5 L1291.5,1144.7 L1293.0,1138.0 L1294.9,1128.4 L1296.3,1124.7 L1297.7,1123.0 L1299.2,1123.0 L1300.6,1123.0 L1301.9,1124.7 L1303.2,1128.0 L1304.5,1130.3 L1306.1,1131.2 L1307.6,1131.8 L1309.2,1132.2 L1310.8,1132.4 L1312.4,1132.5 L1314.0,1132.6 L1315.5,1129.4 L1316.9,1124.6 L1318.3,1120.9 L1319.8,1118.8 L1321.1,1118.6 L1322.3,1118.4 L1323.6,1118.4 L1325.0,1120.0 L1326.5,1122.7 L1328.0,1125.9 L1329.4,1128.0 L1330.7,1127.5 L1331.9,1126.3 L1333.2,1124.6 L1334.7,1120.6 L1336.1,1115.0 L1337.5,1108.9 L1339.0,1103.5 L1340.4,1099.9 L1341.8,1098.1 L1343.5,1098.5 L1345.3,1099.7 L1346.4,1103.5 L1347.6,1109.2 L1349.0,1114.7 L1350.5,1120.7 L1351.9,1129.2 L1353.3,1138.0 L1354.8,1145.4 L1356.2,1151.4 L1357.7,1156.3 L1359.1,1159.1 L1360.8,1159.8 L1362.5,1160.0 L1364.2,1157.0 L1365.8,1151.4 L1367.2,1146.1 L1368.7,1139.9 L1370.1,1132.9 L1371.5,1126.5 L1373.0,1121.7 L1374.4,1118.8 L1375.7,1118.0 L1376.9,1117.4 L1378.2,1116.9 L1379.5,1116.2 L1380.8,1115.4 L1382.1,1115.0 L1383.7,1114.9 L1385.3,1114.8 L1386.9,1114.6 L1388.2,1113.2 L1389.4,1110.8 L1390.7,1109.2 L1392.0,1108.9 L1393.2,1108.7 L1394.5,1108.3 L1395.8,1106.6 L1397.1,1103.8 L1398.4,1101.6 L1399.7,1100.4 L1400.9,1099.4 L1402.2,1098.7 L1403.5,1098.1 L1404.7,1097.6 L1406.0,1097.4 L1407.6,1097.5 L1409.2,1098.0 L1410.8,1098.7 L1411.9,1101.8 L1413.1,1107.3 L1415.0,1118.8 L1416.2,1125.1 L1417.5,1130.3 L1419.0,1134.2 L1420.4,1138.0 L1421.8,1143.9 L1423.3,1149.5 L1424.6,1152.7 L1425.8,1155.4 L1427.1,1157.2 L1428.4,1158.5 L1429.7,1159.6 L1431.0,1160.0 L1432.6,1159.9 L1434.1,1159.6 L1435.7,1159.1 L1437.0,1157.5 L1438.3,1154.6 L1439.6,1151.4 L1441.3,1146.7 L1443.0,1142.8 L1444.7,1141.1 L1446.3,1139.9 L1447.6,1139.2 L1448.8,1138.6 L1450.1,1138.0 L1451.4,1137.4 L1452.7,1136.8 L1454.0,1136.5 L1455.3,1137.1 L1456.5,1138.4 L1457.8,1139.0 L1459.1,1138.2 L1460.3,1136.4 L1461.6,1135.1 L1463.2,1134.4 L1464.8,1133.8 L1466.4,1133.2 L1468.0,1132.4 L1469.6,1131.4 L1471.2,1130.3 L1472.5,1128.9 L1473.7,1127.3 L1475.0,1126.5 L1476.3,1127.7 L1477.6,1130.1 L1478.9,1132.2 L1480.2,1133.5 L1481.4,1134.6 L1482.7,1135.1 L1484.0,1135.1 L1485.2,1135.1 L1486.5,1135.1 L1487.8,1133.5 L1489.1,1130.2 L1490.4,1127.5 L1491.8,1125.8 L1493.2,1125.0 L1494.5,1126.0 L1495.8,1128.2 L1497.1,1130.3 L1498.4,1132.3 L1499.6,1134.2 L1500.9,1135.1 L1502.2,1134.8 L1503.4,1134.1 L1504.7,1133.2 L1506.0,1131.4 L1507.3,1129.1 L1508.6,1128.0 L1510.0,1130.2 L1511.5,1134.2 L1512.9,1139.3 L1514.3,1142.8 L1515.6,1143.1 L1516.9,1143.3 L1518.2,1143.4 L1519.5,1142.4 L1520.7,1140.2 L1522.0,1138.0 L1523.3,1136.2 L1524.5,1134.3 L1525.8,1132.2 L1527.5,1127.6 L1529.3,1124.6 L1530.9,1126.5 L1532.5,1130.3 L1534.0,1135.2 L1535.4,1139.9 L1536.7,1142.2 L1537.9,1144.0 L1539.2,1145.7 L1540.5,1147.4 L1541.8,1149.0 L1543.1,1151.4 L1544.5,1157.2 L1546.0,1164.8 L1547.4,1171.5 L1548.8,1178.2 L1550.2,1184.9 L1551.7,1191.7 L1553.2,1199.6 L1554.6,1207.0 L1556.1,1212.7 L1557.4,1220.4 L1558.8,1231.0 L1559.6,1239.7 L1560.4,1250.4 L1561.2,1261.6 L1561.9,1271.4 L1562.6,1281.7 L1563.3,1292.2 L1564.0,1302.3 L1564.6,1312.6 L1565.3,1322.9 L1566.0,1332.9 L1566.6,1342.9 L1567.3,1353.5 L1567.9,1363.1 L1568.4,1373.3 L1569.0,1384.1 L1569.5,1394.3 L1569.9,1405.0 L1570.4,1414.7 L1571.1,1425.8 L1571.7,1435.6 L1572.4,1445.3 L1573.1,1455.5 L1573.8,1465.5 L1574.5,1475.9 L1575.3,1489.9 L1576.1,1502.4 L1578.0,1519.6 L1578.9,1515.0 L1579.7,1502.9 L1580.6,1486.1 L1580.9,1478.2 L1581.2,1466.9 L1581.4,1453.5 L1581.7,1439.1 L1582.0,1424.9 L1582.2,1413.7 L1582.4,1401.7 L1582.7,1389.3 L1582.9,1376.6 L1583.1,1363.7 L1583.3,1351.8 L1583.5,1339.6 L1583.7,1327.2 L1583.9,1314.7 L1584.1,1302.4 L1584.3,1290.5 L1584.5,1278.9 L1584.7,1267.1 L1584.9,1254.7 L1585.1,1241.2 L1585.2,1231.2 L1585.4,1220.5 L1585.5,1209.0 L1585.6,1197.0 L1585.8,1184.7 L1585.9,1172.1 L1586.0,1159.4 L1586.2,1146.9 L1586.3,1134.5 L1586.4,1122.5 L1586.6,1111.0 L1586.7,1100.1 L1586.9,1086.2 L1587.1,1072.5 L1587.2,1059.1 L1587.4,1046.0 L1587.6,1033.2 L1587.8,1020.9 L1587.9,1009.0 L1588.1,997.6 L1588.3,986.8 L1588.5,973.7 L1588.8,960.9 L1589.0,948.7 L1589.2,936.9 L1589.4,925.7 L1589.6,915.1 L1589.9,905.2 L1590.1,896.1 L1590.5,882.7 L1590.8,870.4 L1591.2,859.2 L1591.5,848.8 L1591.9,839.4 L1592.5,825.5 L1593.0,812.3 L1593.5,801.3 L1594.1,794.0 L1595.5,782.9 L1596.9,778.1 L1598.2,783.2 L1599.6,794.0 L1600.4,802.8 L1601.1,814.8 L1601.9,828.0 L1602.5,838.4 L1603.0,849.9 L1603.5,861.8 L1604.1,873.4 L1604.7,885.4 L1605.2,897.6 L1605.8,909.0 L1606.4,918.7 L1607.4,931.4 L1608.3,942.1 L1609.3,952.7 L1610.3,964.5 L1611.3,976.2 L1612.3,986.8 L1613.9,1000.9 L1615.5,1014.0 L1617.0,1027.0 L1618.4,1038.9 L1620.1,1049.7 L1621.8,1059.3 L1623.5,1069.2 L1625.2,1077.5 L1626.9,1083.3 L1628.6,1087.7 L1630.1,1090.8 L1631.7,1093.3 L1633.2,1095.6 L1634.7,1097.9 L1636.2,1100.1 L1637.7,1101.3 L1639.1,1101.6 L1640.6,1101.8 L1642.0,1102.0 L1643.4,1102.4 L1645.1,1105.7 L1646.8,1109.2 L1648.5,1110.0 L1650.2,1110.3 L1651.9,1107.9 L1653.6,1104.7 L1654.9,1103.6 L1656.3,1102.7 L1657.6,1102.4 L1659.2,1104.9 L1660.8,1109.2 L1662.6,1114.7 L1664.4,1118.3 L1666.1,1118.7 L1667.7,1118.9 L1669.4,1119.0 L1670.8,1118.0 L1672.1,1115.8 L1673.5,1113.7 L1674.8,1111.8 L1676.1,1110.0 L1677.4,1109.2 L1678.9,1110.3 L1680.4,1112.6 L1681.9,1114.9 L1683.2,1116.8 L1684.5,1118.6 L1685.8,1119.4 L1687.1,1117.6 L1688.5,1114.1 L1689.8,1111.5 L1691.5,1109.9 L1693.2,1109.2 L1694.9,1111.8 L1696.6,1116.0 L1698.3,1119.5 L1700.0,1121.7 L1701.3,1122.2 L1702.7,1122.5 L1704.0,1122.7 L1705.3,1122.8 L1706.8,1122.3 L1708.3,1121.1 L1709.9,1119.9 L1711.4,1119.4 L1712.9,1120.4 L1714.4,1122.7 L1715.9,1125.1 L1717.6,1128.5 L1719.3,1130.7 L1720.7,1130.6 L1722.2,1130.5 L1723.6,1130.4 L1725.0,1130.3 L1726.4,1130.4 L1727.8,1130.6 L1729.3,1131.0 L1730.7,1131.4 L1732.2,1132.8 L1733.7,1134.9 L1735.2,1136.0 L1736.7,1135.7 L1738.2,1135.0 L1739.7,1134.1 L1741.2,1132.6 L1742.8,1130.3 L1744.3,1127.3 L1746.0,1121.7 L1747.7,1116.0 L1749.4,1112.5 L1751.1,1110.3 L1752.6,1109.2 L1754.1,1108.4 L1755.6,1108.1 L1757.1,1108.5 L1758.5,1109.6 L1760.0,1111.1 L1761.5,1115.0 L1763.1,1119.8 L1764.4,1123.1 L1765.6,1126.0 L1766.9,1127.3 L1768.8,1124.7 L1770.6,1121.1 L1772.2,1119.6 L1773.7,1118.6 L1775.2,1118.1 L1776.6,1117.8 L1778.1,1117.3 L1779.5,1115.1 L1781.0,1111.7 L1782.4,1109.9 L1783.7,1111.4 L1784.9,1114.5 L1786.2,1117.3 L1787.5,1119.4 L1788.7,1120.5 L1790.1,1119.0 L1791.6,1116.3 L1793.0,1114.8 L1794.3,1115.0 L1795.5,1115.4 L1796.8,1116.1 L1798.3,1118.1 L1799.9,1121.1 L1801.2,1123.9 L1802.4,1126.1 L1804.0,1127.4 L1805.5,1127.9 L1806.9,1127.8 L1808.4,1127.6 L1809.8,1127.3 L1811.1,1127.1 L1812.3,1127.0 L1813.6,1126.7 L1815.0,1125.8 L1816.5,1124.1 L1817.9,1122.3 L1819.5,1120.0 L1821.0,1118.0 L1822.3,1117.2 L1823.5,1116.7 L1824.8,1116.1 L1826.7,1114.7 L1828.5,1113.6 L1830.0,1113.1 L1831.6,1112.8 L1833.2,1112.5 L1834.7,1112.4 L1836.0,1112.9 L1837.2,1114.3 L1838.5,1116.1 L1839.8,1119.4 L1841.0,1123.6 L1842.2,1128.1 L1843.5,1131.0 L1844.8,1131.5 L1846.0,1131.7 L1847.8,1131.1 L1849.7,1129.8 L1851.2,1128.0 L1852.8,1124.8 L1854.7,1114.8 L1856.2,1112.6 L1857.8,1111.7 L1859.3,1112.2 L1860.7,1113.3 L1862.2,1114.2 L1864.1,1114.8 L1865.9,1115.5 L1867.8,1117.4 L1869.6,1119.8 L1870.9,1121.4 L1872.1,1122.9 L1873.4,1123.6 L1875.1,1123.5 L1876.7,1123.4 L1878.4,1123.3 L1880.0,1124.9 L1881.5,1127.3 L1883.0,1129.3 L1884.6,1130.4 L1886.4,1130.0 L1888.3,1129.2 L1889.6,1128.4 L1890.8,1127.4 L1892.1,1126.1 L1893.9,1122.9 L1895.8,1119.8 L1897.5,1118.2 L1899.1,1117.0 L1900.8,1116.1 L1902.5,1115.6 L1904.1,1115.2 L1905.8,1114.8 L1907.4,1114.5 L1909.1,1114.2 L1910.7,1113.6 L1912.3,1110.9 L1913.9,1107.4 L1915.8,1104.8 L1917.6,1103.4 L1919.4,1103.5 L1921.3,1103.6 L1922.8,1105.3 L1924.4,1107.4 L1926.0,1108.4 L1927.6,1108.9 L1929.4,1107.7 L1931.3,1106.1 L1932.8,1105.5 L1934.2,1105.1 L1935.7,1104.9 L1937.6,1105.1 L1939.4,1105.5 L1940.7,1107.6 L1941.9,1111.1 L1943.2,1115.3 L1944.4,1118.0 L1946.2,1117.0 L1948.1,1116.1 L1949.4,1116.4 L1950.6,1117.2 L1951.9,1118.0 L1953.8,1119.6 L1955.6,1121.1 L1957.4,1121.9 L1959.3,1122.9 L1960.8,1125.9 L1962.4,1128.6 L1964.0,1129.0 L1965.6,1129.2 L1967.2,1128.6 L1968.9,1127.5 L1970.5,1126.7 L1972.0,1126.4 L1973.4,1126.2 L1974.9,1126.1 L1976.4,1126.7 L1977.8,1128.0 L1979.3,1128.6 L1980.9,1128.6 L1982.6,1128.6 L1984.2,1128.6 L1985.5,1126.4 L1986.7,1123.6 L1988.0,1122.7 L1989.2,1122.1 L1990.5,1121.7 L1992.2,1121.5 L1993.8,1121.4 L1995.5,1121.1 L1997.3,1118.5 L1999.2,1116.1 L2000.8,1116.1 L2002.4,1116.1 L2004.0,1116.1"/>
</g>
<g fill="none" stroke="#000000" stroke-width="8.6" stroke-linejoin="round" stroke-linecap="butt">
<path transform="translate(0,-0.9)" d="M147.0,770.0 L148.8,770.0 L150.5,770.0 L152.2,770.2 L153.8,770.6 L155.5,771.2 L157.2,771.9 L158.6,772.8 L160.1,774.1 L161.6,775.2 L163.0,775.7 L164.4,775.6 L165.8,775.5 L167.3,775.4 L168.7,775.3 L170.1,775.3 L171.4,775.4 L172.8,775.6 L174.1,775.7 L175.5,775.7 L176.9,775.0 L178.3,773.5 L179.8,772.0 L181.2,771.3 L182.9,771.4 L184.6,771.7 L186.2,772.0 L187.9,772.4 L189.5,772.8 L191.1,773.2 L192.7,773.8 L194.0,774.9 L195.2,776.2 L196.5,777.0 L198.1,777.1 L199.7,777.2 L201.3,777.2 L203.0,777.1 L204.7,776.8 L206.3,776.3 L208.0,775.7 L209.4,774.4 L210.9,772.3 L212.4,770.3 L213.8,769.4 L215.4,769.5 L217.0,769.7 L218.6,770.0 L220.2,770.8 L221.8,772.0 L223.4,772.8 L224.8,773.2 L226.2,773.5 L227.7,773.7 L229.1,773.8 L230.8,773.6 L232.4,773.3 L234.1,773.0 L235.8,772.8 L237.1,773.6 L238.4,775.4 L239.7,776.7 L241.0,777.4 L242.2,778.0 L243.5,778.2 L245.1,776.7 L246.7,773.9 L248.3,772.4 L249.9,772.8 L251.5,773.6 L253.1,774.7 L254.7,776.4 L256.3,778.5 L257.9,779.5 L259.5,779.1 L261.1,778.2 L262.7,776.7 L264.1,772.6 L265.5,769.0 L267.1,768.4 L268.7,768.1 L270.3,768.0 L271.6,768.3 L272.9,768.7 L274.2,769.0 L275.9,768.7 L277.5,768.1 L279.2,767.4 L280.9,767.1 L282.5,767.8 L284.1,769.3 L285.7,770.9 L287.1,772.3 L288.5,773.9 L290.0,775.2 L291.4,775.7 L293.0,774.8 L294.6,772.9 L296.2,770.9 L297.8,769.0 L299.4,767.1 L301.0,766.1 L302.5,766.0 L304.1,765.8 L305.6,765.8 L307.2,765.7 L308.7,765.7 L310.1,766.1 L311.5,767.0 L313.0,768.1 L314.4,769.0 L315.8,769.8 L317.3,770.6 L318.8,771.4 L320.2,771.9 L321.8,772.3 L323.4,772.7 L325.0,772.8 L326.7,772.6 L328.4,772.1 L330.0,771.7 L331.7,771.5 L333.1,771.7 L334.5,772.2 L336.0,772.9 L337.4,773.8 L339.0,775.9 L340.6,778.7 L342.2,780.1 L343.5,779.9 L344.7,779.4 L346.0,778.6 L347.4,775.3 L348.9,771.9 L350.4,770.9 L351.8,770.5 L353.1,771.3 L354.3,773.0 L355.6,774.7 L356.9,776.4 L358.2,778.2 L359.5,779.5 L361.2,780.5 L362.9,781.3 L364.5,781.8 L366.2,782.0 L367.6,781.6 L369.0,780.7 L370.5,779.6 L371.9,778.6 L373.3,777.7 L374.8,776.8 L376.2,776.0 L377.7,775.7 L379.1,775.7 L380.5,775.7 L382.0,775.7 L383.4,775.7 L384.8,775.6 L386.3,775.4 L387.8,775.1 L389.2,774.7 L390.5,774.2 L391.7,773.3 L393.0,771.9 L394.5,765.2 L396.1,763.7 L397.8,763.2 L399.1,763.7 L400.3,764.8 L401.6,766.1 L402.9,767.8 L404.2,770.0 L405.5,771.9 L407.1,773.5 L408.6,774.9 L410.2,776.7 L411.6,780.4 L413.1,783.4 L414.6,784.2 L416.0,784.8 L417.4,785.2 L418.9,785.3 L420.3,784.8 L421.8,783.9 L423.2,782.9 L424.6,782.4 L426.2,782.7 L427.8,783.1 L429.4,783.4 L431.0,782.9 L432.6,782.0 L434.2,781.5 L435.5,782.2 L436.7,783.7 L438.0,785.3 L439.7,787.1 L441.4,788.9 L443.0,791.1 L444.7,794.0 L446.4,799.3 L448.1,805.4 L449.8,810.2 L451.5,814.4 L453.0,817.4 L454.6,820.1 L456.1,823.5 L457.8,829.2 L459.5,837.1 L461.2,848.6 L462.9,862.0 L464.6,873.7 L466.3,887.0 L467.2,896.6 L468.1,907.7 L469.0,918.7 L470.0,930.0 L471.0,941.1 L472.0,952.7 L472.9,963.5 L473.8,974.8 L474.7,986.8 L475.4,997.7 L476.2,1009.3 L476.9,1020.8 L477.7,1032.2 L478.4,1043.5 L479.2,1054.8 L480.0,1065.8 L480.7,1076.8 L481.5,1088.8 L482.1,1099.1 L482.7,1110.4 L483.3,1122.8 L483.9,1139.7 L484.4,1150.5 L484.8,1145.3 L485.3,1132.5 L485.8,1116.1 L486.2,1100.1 L486.5,1090.0 L486.8,1079.2 L487.1,1067.9 L487.4,1056.1 L487.7,1044.1 L488.0,1032.1 L488.3,1021.2 L488.5,1010.0 L488.8,998.6 L489.1,987.1 L489.3,975.5 L489.6,964.1 L489.9,953.0 L490.1,942.2 L490.4,931.4 L490.7,920.3 L490.9,908.6 L491.2,896.1 L491.4,885.5 L491.6,873.8 L491.8,861.6 L492.0,849.5 L492.2,838.1 L492.4,828.0 L492.7,816.3 L492.9,805.9 L493.2,796.0 L493.5,785.5 L493.8,774.9 L494.1,764.4 L494.3,753.1 L494.6,740.1 L494.8,730.0 L495.0,718.4 L495.1,705.6 L495.3,692.0 L495.5,678.0 L495.7,664.1 L495.8,650.7 L496.0,638.1 L496.2,626.8 L496.4,613.8 L496.6,601.3 L496.9,589.4 L497.1,577.9 L497.3,566.8 L497.6,556.2 L497.8,546.0 L498.0,536.1 L498.3,522.9 L498.6,509.7 L498.9,497.0 L499.2,485.4 L499.5,475.5 L499.8,468.0 L500.6,452.8 L501.3,441.0 L502.1,436.3 L502.9,440.3 L503.7,450.3 L504.4,463.9 L505.2,478.2 L506.0,490.7 L506.9,502.2 L507.7,513.5 L508.5,524.8 L509.4,536.1 L510.2,547.4 L511.1,558.8 L511.9,570.1 L512.8,581.4 L513.6,593.0 L514.5,604.9 L515.4,616.4 L516.2,626.8 L517.3,639.0 L518.5,650.2 L519.6,660.8 L521.3,676.4 L523.0,690.2 L524.7,701.4 L526.4,710.7 L528.1,718.0 L529.8,724.3 L531.5,730.3 L533.2,735.6 L534.9,740.4 L536.6,743.5 L538.1,744.2 L539.6,744.6 L541.1,745.1 L542.6,746.2 L544.1,747.7 L545.6,749.2 L547.0,750.5 L548.5,751.7 L549.9,753.1 L551.3,754.9 L553.0,759.0 L554.7,762.8 L556.4,764.4 L558.1,765.1 L559.8,763.7 L561.5,761.7 L563.0,760.6 L564.6,759.8 L566.1,759.4 L567.8,761.3 L569.5,763.9 L571.0,765.3 L572.5,766.4 L574.0,766.9 L575.4,766.3 L576.9,764.8 L578.3,763.4 L579.7,762.8 L581.2,763.3 L582.7,764.3 L584.2,765.1 L585.7,765.5 L587.2,765.8 L588.7,766.2 L590.2,767.4 L591.8,769.5 L593.3,771.9 L594.8,775.1 L596.3,778.7 L597.8,781.0 L599.1,781.8 L600.5,782.1 L601.9,780.4 L603.2,776.8 L604.6,774.1 L606.1,772.7 L607.6,771.6 L609.1,770.7 L610.5,769.9 L611.8,769.2 L613.2,768.5 L614.5,767.9 L615.9,767.3 L617.3,766.6 L618.6,765.9 L620.0,765.3 L621.3,764.8 L622.7,764.6 L624.2,765.1 L625.8,766.2 L627.3,767.3 L628.7,768.1 L630.1,768.8 L631.5,769.5 L632.9,770.1 L634.3,770.6 L635.7,771.1 L637.0,771.5 L638.4,771.8 L639.8,771.9 L641.5,768.9 L643.2,765.1 L644.7,763.8 L646.2,762.8 L647.7,762.4 L649.2,763.0 L650.7,764.1 L652.2,765.1 L653.9,765.8 L655.6,766.2 L657.0,765.9 L658.5,765.0 L659.9,763.9 L661.3,762.8 L662.7,761.6 L664.1,760.3 L665.6,758.8 L667.0,757.1 L668.7,754.3 L670.4,751.5 L671.9,749.5 L673.4,747.8 L674.9,746.5 L676.4,745.7 L677.9,745.1 L679.4,744.2 L680.9,742.7 L682.5,740.5 L684.0,737.9 L685.7,734.1 L687.4,728.8 L689.6,717.5 L690.8,707.6 L691.9,694.8 L692.7,684.5 L693.4,672.7 L694.2,660.8 L694.9,649.0 L695.7,637.1 L696.4,626.8 L697.5,614.8 L698.7,604.1 L699.9,591.3 L701.0,581.4 L703.2,574.6 L704.4,579.1 L705.5,588.2 L706.6,600.2 L707.8,615.4 L708.5,625.8 L709.3,637.1 L710.0,649.4 L710.6,660.3 L711.1,672.2 L711.7,684.1 L712.3,694.8 L713.1,706.4 L713.8,716.9 L714.6,728.8 L715.1,739.1 L715.7,750.8 L716.2,762.8 L716.7,773.4 L717.1,784.7 L717.5,795.6 L718.0,805.4 L718.7,818.3 L719.4,830.3 L720.0,841.4 L720.7,851.9 L721.4,862.0 L722.4,876.3 L723.3,889.7 L724.3,900.6 L725.7,914.1 L727.1,921.0 L728.5,914.0 L729.8,900.6 L730.8,888.8 L731.7,874.6 L732.7,862.0 L734.2,846.6 L735.7,834.8 L737.2,826.5 L738.8,821.2 L740.2,818.5 L741.5,816.6 L742.9,815.6 L744.2,815.2 L745.6,815.1 L747.0,816.1 L748.3,818.6 L749.7,821.2 L751.1,824.6 L752.5,828.7 L754.0,832.2 L755.4,833.7 L757.1,828.1 L758.8,816.7 L760.0,807.2 L761.1,794.0 L761.7,784.3 L762.2,774.1 L763.2,760.3 L764.1,748.4 L765.1,740.1 L766.8,730.7 L768.5,726.5 L769.8,728.8 L771.1,734.2 L772.4,740.1 L773.9,747.1 L775.4,755.0 L776.9,762.8 L778.4,770.0 L780.0,777.2 L781.5,785.5 L783.3,798.2 L785.1,812.2 L786.5,824.4 L788.0,833.7 L789.6,838.4 L791.2,840.5 L792.5,836.1 L793.9,828.0 L795.6,816.4 L797.3,805.4 L798.8,799.2 L800.4,794.2 L801.9,789.5 L803.6,783.3 L805.3,779.3 L806.9,778.4 L808.5,777.9 L810.0,777.5 L811.6,777.1 L813.2,776.4 L814.6,775.4 L815.9,774.1 L817.3,772.6 L818.6,771.1 L820.0,769.6 L821.4,768.2 L822.7,766.7 L824.1,765.2 L825.4,763.9 L826.8,762.8 L828.3,761.8 L829.8,760.7 L831.3,759.8 L832.9,759.0 L834.4,758.5 L835.9,758.3 L837.4,759.0 L838.9,760.5 L840.4,761.7 L842.1,762.4 L843.8,762.8 L845.5,759.4 L847.2,756.0 L848.6,756.4 L850.0,756.9 L851.1,745.5 L852.3,727.4 L853.6,712.1 L855.0,697.9 L856.5,682.9 L857.9,670.7 L859.4,662.1 L860.9,657.1 L862.5,655.4 L864.1,654.8 L865.9,657.7 L867.7,663.9 L869.0,671.9 L870.4,682.0 L872.1,694.5 L873.8,707.0 L875.3,718.8 L876.8,727.4 L878.2,731.0 L879.7,733.6 L881.1,734.6 L882.7,733.4 L884.2,730.2 L885.8,725.1 L887.0,713.8 L888.1,697.9 L889.2,683.7 L890.4,670.7 L891.8,657.2 L893.1,648.0 L894.8,642.9 L896.5,640.8 L898.2,644.3 L899.9,652.6 L901.0,664.9 L902.2,682.0 L902.9,692.6 L903.7,703.9 L904.4,716.1 L905.0,726.4 L905.5,737.3 L906.1,749.0 L906.7,761.4 L907.2,772.0 L907.6,783.4 L908.0,795.2 L908.5,806.8 L909.0,818.5 L909.4,830.4 L909.8,841.8 L910.3,852.1 L911.1,868.2 L911.8,882.7 L912.6,892.9 L914.4,908.3 L916.2,915.1 L918.0,907.8 L919.8,892.9 L921.0,879.4 L922.1,863.4 L923.2,847.0 L924.4,834.0 L926.6,823.8 L927.9,823.0 L929.2,822.5 L930.5,822.2 L932.0,822.0 L933.5,821.8 L935.0,821.5 L936.5,818.9 L938.0,813.6 L939.4,805.1 L940.7,795.4 L942.4,787.6 L944.1,779.5 L945.6,769.7 L947.1,756.9 L948.2,742.8 L949.3,727.4 L950.5,712.8 L951.6,702.4 L953.0,696.3 L954.3,692.0 L955.7,690.4 L957.2,695.6 L958.8,707.0 L959.6,715.2 L960.3,726.4 L961.1,738.7 L961.7,749.1 L962.3,760.7 L962.9,772.7 L963.4,785.1 L964.0,798.0 L964.5,806.8 L965.8,818.6 L967.1,826.8 L968.4,829.9 L969.7,828.1 L971.1,823.6 L972.4,818.1 L974.1,807.8 L975.9,795.4 L977.6,784.4 L979.3,772.7 L980.6,761.5 L982.0,750.1 L983.5,738.7 L984.9,729.7 L986.4,724.2 L988.0,720.1 L989.5,716.1 L991.2,711.9 L992.9,707.0 L994.2,701.3 L995.6,693.4 L996.7,683.2 L997.8,670.7 L999.0,656.2 L1000.1,643.5 L1001.5,632.9 L1002.8,624.3 L1004.2,620.8 L1005.9,626.5 L1007.6,639.0 L1008.4,647.1 L1009.1,658.2 L1009.9,670.7 L1010.5,680.8 L1011.0,692.4 L1011.5,704.5 L1012.1,716.1 L1012.7,727.6 L1013.2,738.9 L1013.8,750.1 L1014.4,761.4 L1015.0,772.7 L1015.5,784.0 L1016.1,795.3 L1016.7,806.8 L1017.2,818.3 L1017.8,830.2 L1018.4,841.7 L1018.9,852.1 L1019.6,864.5 L1020.4,875.7 L1021.1,886.4 L1021.9,897.5 L1022.6,909.2 L1023.4,921.1 L1024.1,931.5 L1025.5,950.7 L1026.9,961.0 L1028.2,951.0 L1029.6,931.5 L1030.2,922.0 L1030.8,910.5 L1031.3,898.2 L1031.9,886.1 L1032.5,874.9 L1033.0,863.4 L1033.5,852.0 L1034.1,840.8 L1034.7,829.1 L1035.2,817.5 L1035.8,806.2 L1036.4,795.4 L1037.2,781.7 L1037.9,768.7 L1038.7,756.9 L1039.7,742.4 L1040.6,729.1 L1041.6,720.6 L1043.3,712.7 L1045.1,707.2 L1046.8,705.2 L1048.1,707.5 L1049.4,713.2 L1050.7,720.6 L1051.8,730.2 L1053.0,743.4 L1054.1,756.9 L1055.2,769.9 L1056.4,783.2 L1057.5,795.4 L1059.2,812.1 L1060.9,824.9 L1062.4,832.9 L1064.0,840.1 L1065.5,845.2 L1067.0,847.1 L1068.4,844.8 L1069.7,838.6 L1071.1,829.4 L1071.7,822.0 L1072.2,810.2 L1072.8,796.7 L1073.4,784.1 L1074.0,772.8 L1074.6,761.6 L1075.1,750.4 L1075.7,739.0 L1076.3,727.4 L1076.8,716.0 L1077.4,704.1 L1077.9,692.2 L1078.5,680.9 L1079.0,670.7 L1079.9,654.7 L1080.8,640.3 L1081.7,629.9 L1083.0,619.3 L1084.3,610.4 L1085.7,604.1 L1087.0,601.8 L1088.3,605.4 L1089.5,614.2 L1090.8,625.4 L1091.5,633.9 L1092.3,645.0 L1093.0,657.7 L1093.8,670.7 L1094.4,681.0 L1095.0,692.1 L1095.5,703.7 L1096.1,715.6 L1096.7,727.4 L1097.2,738.7 L1097.8,750.5 L1098.3,762.3 L1098.9,773.6 L1099.4,784.1 L1100.1,796.5 L1100.8,808.0 L1101.5,819.0 L1102.2,829.4 L1103.2,844.0 L1104.1,857.7 L1105.1,868.0 L1106.5,878.5 L1107.8,886.8 L1109.2,890.2 L1110.5,887.6 L1111.7,881.6 L1113.0,874.8 L1114.4,865.1 L1115.8,856.6 L1117.1,852.9 L1118.5,850.2 L1119.8,847.6 L1121.3,844.6 L1122.9,841.7 L1124.4,838.5 L1125.8,835.2 L1127.1,831.5 L1128.5,827.2 L1129.8,822.5 L1131.0,817.1 L1132.3,811.3 L1133.8,804.3 L1135.3,795.4 L1136.4,785.0 L1137.5,772.7 L1138.8,756.3 L1140.2,743.3 L1141.7,735.2 L1143.3,729.2 L1144.8,726.9 L1146.5,732.0 L1148.2,743.3 L1149.3,756.0 L1150.5,772.7 L1151.2,784.5 L1152.0,797.0 L1152.7,806.8 L1154.2,821.8 L1155.8,833.7 L1157.3,838.5 L1158.8,836.3 L1160.3,831.0 L1161.8,824.9 L1163.5,816.1 L1165.2,806.8 L1166.9,799.9 L1168.6,793.2 L1170.3,785.9 L1172.0,777.3 L1173.3,766.7 L1174.7,756.9 L1176.1,751.4 L1177.4,747.1 L1178.8,743.3 L1180.3,739.7 L1181.8,736.5 L1183.3,731.9 L1184.7,723.9 L1186.1,711.5 L1186.8,701.4 L1187.6,688.2 L1188.3,675.2 L1189.1,662.0 L1189.8,648.9 L1190.6,639.0 L1192.0,626.2 L1193.3,616.2 L1194.7,612.2 L1196.4,620.0 L1198.1,636.7 L1198.8,647.1 L1199.6,660.9 L1200.3,675.2 L1200.9,686.0 L1201.4,697.2 L1202.0,708.7 L1202.6,720.6 L1203.2,733.2 L1203.8,746.5 L1204.3,759.9 L1204.9,772.7 L1205.5,784.7 L1206.0,796.5 L1206.5,807.8 L1207.1,818.1 L1207.8,830.7 L1208.6,842.2 L1209.3,853.0 L1210.1,863.4 L1211.0,876.2 L1211.9,888.4 L1212.8,897.5 L1214.1,907.2 L1215.4,914.8 L1216.7,917.9 L1218.0,913.9 L1219.4,904.3 L1220.7,892.9 L1221.7,882.4 L1222.7,869.4 L1223.7,856.6 L1224.6,845.2 L1225.5,833.9 L1226.4,824.9 L1227.8,815.1 L1229.1,809.0 L1230.5,806.1 L1231.8,804.1 L1233.2,803.4 L1234.6,804.9 L1236.0,808.7 L1237.4,813.6 L1238.9,822.4 L1240.4,834.0 L1241.8,845.6 L1243.1,856.6 L1244.8,867.3 L1246.5,874.8 L1248.2,879.2 L1249.8,882.6 L1251.5,883.9 L1252.9,882.6 L1254.2,879.2 L1255.6,874.8 L1257.3,864.8 L1259.0,852.1 L1260.7,840.4 L1262.4,829.4 L1264.1,819.8 L1265.8,811.3 L1267.5,803.7 L1269.2,797.7 L1270.9,793.8 L1272.6,790.9 L1274.1,788.8 L1275.6,787.1 L1277.1,785.2 L1278.8,782.1 L1280.5,780.0 L1282.2,779.6 L1283.9,779.5 L1285.6,782.3 L1287.3,785.2 L1289.0,785.2 L1290.7,785.2 L1292.4,783.7 L1294.1,782.3 L1295.8,784.3 L1297.5,786.8 L1299.2,787.8 L1300.9,788.2 L1302.6,786.3 L1304.3,782.9 L1306.0,779.3 L1307.7,775.0 L1309.2,771.1 L1310.7,765.9 L1312.9,750.1 L1314.1,740.6 L1315.2,731.9 L1316.3,725.3 L1317.5,720.6 L1319.7,716.5 L1321.1,717.8 L1322.4,720.6 L1323.8,727.2 L1325.2,734.2 L1327.0,737.9 L1328.8,741.0 L1330.2,744.0 L1331.5,747.8 L1332.8,753.7 L1334.2,761.4 L1335.7,771.9 L1337.2,784.1 L1338.3,795.1 L1339.5,804.5 L1340.8,811.0 L1342.0,816.1 L1343.3,818.1 L1345.1,814.5 L1346.9,806.8 L1348.3,796.7 L1349.7,784.1 L1351.1,772.6 L1352.4,761.4 L1354.6,745.5 L1356.0,743.4 L1357.3,742.2 L1358.7,741.0 L1360.2,739.1 L1361.8,737.3 L1363.3,736.5 L1365.0,737.3 L1366.7,738.7 L1368.4,740.4 L1370.1,741.5 L1371.8,740.7 L1373.5,738.7 L1375.7,727.4 L1376.8,717.5 L1378.0,704.7 L1378.8,694.0 L1379.5,681.9 L1380.3,670.7 L1381.4,656.0 L1382.5,645.8 L1383.9,640.2 L1385.3,637.8 L1386.8,642.7 L1388.2,652.6 L1389.6,665.9 L1390.9,682.0 L1391.9,692.8 L1392.9,703.9 L1393.9,716.1 L1394.6,726.8 L1395.4,738.5 L1396.1,750.1 L1396.9,761.5 L1397.6,772.8 L1398.4,784.1 L1399.2,795.4 L1399.9,806.7 L1400.7,818.1 L1401.4,829.4 L1402.2,840.8 L1402.9,852.1 L1403.7,863.7 L1404.4,875.2 L1405.2,886.1 L1406.3,901.9 L1407.5,915.6 L1408.7,928.2 L1409.8,934.9 L1411.5,928.2 L1413.2,915.6 L1414.9,901.6 L1416.6,886.1 L1418.3,870.9 L1420.0,856.6 L1421.7,844.2 L1423.4,834.0 L1425.1,826.3 L1426.8,820.4 L1428.5,815.3 L1430.2,812.4 L1431.6,812.0 L1433.0,811.8 L1434.4,811.7 L1435.8,811.3 L1437.5,808.0 L1439.2,803.4 L1440.9,800.4 L1442.6,797.7 L1444.1,794.9 L1445.7,792.1 L1447.2,789.8 L1448.9,787.9 L1450.6,786.8 L1452.0,786.5 L1453.4,786.3 L1454.8,786.2 L1456.2,785.9 L1457.7,785.0 L1459.3,783.8 L1460.8,782.9 L1462.2,782.5 L1463.6,782.3 L1465.0,782.0 L1466.4,781.8 L1467.8,781.5 L1469.2,781.2 L1470.7,780.9 L1472.1,780.7 L1473.5,780.5 L1474.9,780.4 L1476.4,780.2 L1477.8,780.0 L1479.2,779.2 L1480.6,777.8 L1482.0,776.4 L1483.4,775.5 L1484.8,775.1 L1486.2,774.9 L1487.7,774.7 L1489.1,774.6 L1490.8,776.3 L1492.5,779.5 L1494.2,782.8 L1495.9,786.3 L1497.6,790.3 L1499.3,793.2 L1500.7,793.9 L1502.2,794.4 L1503.6,794.8 L1505.0,795.4 L1506.5,796.8 L1508.0,798.7 L1509.5,800.0 L1511.0,800.5 L1512.6,800.9 L1514.1,801.1 L1515.6,800.8 L1517.1,800.3 L1518.6,800.0 L1520.3,803.4 L1522.0,809.0 L1523.5,812.6 L1525.0,816.2 L1526.5,820.4 L1528.2,826.6 L1529.9,834.0 L1531.6,842.6 L1533.3,852.1 L1535.0,861.7 L1536.7,872.5 L1538.2,884.2 L1539.7,897.5 L1541.1,910.7 L1542.4,924.7 L1543.8,937.8 L1545.1,954.1 L1545.6,963.4 L1546.0,975.4 L1546.5,987.7 L1547.0,998.1 L1547.8,1010.3 L1548.5,1020.7 L1549.3,1032.1 L1549.9,1042.8 L1550.5,1054.5 L1551.1,1066.1 L1551.7,1077.4 L1552.3,1088.8 L1552.9,1100.1 L1553.5,1112.1 L1554.1,1124.0 L1554.7,1134.1 L1555.8,1150.9 L1557.0,1159.5 L1558.2,1152.1 L1559.5,1134.1 L1559.8,1127.0 L1560.1,1116.7 L1560.4,1104.2 L1560.7,1090.8 L1561.0,1077.5 L1561.2,1067.3 L1561.5,1056.7 L1561.7,1045.6 L1561.9,1034.0 L1562.2,1021.9 L1562.4,1009.4 L1562.6,998.9 L1562.8,987.7 L1563.0,976.0 L1563.1,964.2 L1563.3,952.6 L1563.5,941.4 L1563.7,929.8 L1563.9,918.6 L1564.1,907.5 L1564.3,896.4 L1564.5,885.1 L1564.7,873.4 L1564.9,862.0 L1565.1,849.7 L1565.2,837.6 L1565.4,826.3 L1565.6,816.7 L1566.0,801.4 L1566.3,788.9 L1566.7,778.1 L1567.0,768.2 L1567.4,758.1 L1567.8,746.9 L1568.1,733.7 L1568.5,717.5 L1568.7,708.9 L1568.8,698.4 L1569.0,686.5 L1569.1,673.9 L1569.2,661.0 L1569.4,648.5 L1569.5,636.9 L1569.7,626.8 L1569.9,613.3 L1570.2,600.4 L1570.4,588.1 L1570.6,576.4 L1570.8,565.3 L1571.0,554.9 L1571.3,545.1 L1571.5,536.1 L1571.9,521.9 L1572.2,508.2 L1572.6,495.4 L1573.0,484.1 L1573.3,474.7 L1573.7,468.0 L1574.8,453.1 L1576.0,446.5 L1577.3,453.7 L1578.7,468.0 L1579.4,476.9 L1580.1,488.1 L1580.8,500.5 L1581.5,513.4 L1582.0,524.3 L1582.6,536.2 L1583.2,548.1 L1583.7,558.7 L1584.5,571.4 L1585.2,583.0 L1586.0,593.9 L1586.7,604.1 L1587.7,616.4 L1588.6,627.7 L1589.6,638.1 L1591.2,653.8 L1592.8,667.6 L1594.6,680.9 L1596.4,692.5 L1597.7,700.0 L1599.0,706.9 L1600.3,712.9 L1601.8,718.9 L1603.3,724.1 L1604.8,728.8 L1606.3,732.9 L1607.8,736.5 L1609.3,740.1 L1610.8,744.1 L1612.4,748.1 L1613.9,751.5 L1615.4,754.1 L1616.9,756.2 L1618.4,758.3 L1619.8,760.4 L1621.2,762.6 L1622.7,764.4 L1624.1,765.5 L1625.5,766.0 L1626.8,766.3 L1628.2,766.5 L1629.5,766.8 L1630.9,767.3 L1632.4,769.0 L1633.9,771.8 L1635.4,774.1 L1636.9,775.4 L1638.5,776.5 L1640.0,777.6 L1641.5,779.0 L1643.0,780.4 L1644.5,781.0 L1645.9,781.0 L1647.2,781.0 L1648.6,781.0 L1649.9,781.0 L1651.3,781.0 L1652.7,780.6 L1654.2,779.4 L1655.6,777.9 L1657.0,776.4 L1658.4,774.4 L1659.8,771.7 L1661.2,769.5 L1662.6,768.5 L1664.0,769.4 L1665.4,771.3 L1666.9,773.2 L1668.3,774.1 L1669.7,773.7 L1671.2,772.9 L1672.6,772.0 L1674.0,771.4 L1675.4,771.2 L1676.7,771.0 L1678.1,770.8 L1679.4,770.7 L1680.8,770.7 L1682.5,774.0 L1684.2,778.7 L1685.9,781.7 L1687.6,783.2 L1689.0,782.4 L1690.4,780.4 L1691.8,778.2 L1693.2,776.4 L1694.6,775.1 L1695.9,773.7 L1697.3,772.6 L1698.6,771.7 L1700.0,771.4 L1701.4,772.6 L1702.8,775.5 L1704.3,778.7 L1705.7,781.0 L1707.1,782.4 L1708.6,783.7 L1710.0,784.6 L1711.4,785.0 L1712.9,782.6 L1714.4,777.7 L1715.9,774.1 L1717.4,772.4 L1719.0,771.2 L1720.5,770.7 L1721.9,770.8 L1723.3,771.1 L1724.7,771.4 L1726.1,771.9 L1727.6,773.0 L1729.2,774.5 L1730.7,775.3 L1732.1,774.9 L1733.5,774.1 L1734.9,773.0 L1736.3,771.9 L1737.8,770.6 L1739.4,769.2 L1740.9,768.5 L1742.3,768.9 L1743.6,769.8 L1745.0,771.1 L1746.3,772.4 L1747.7,773.7 L1749.1,774.9 L1750.5,776.3 L1751.9,777.6 L1753.3,778.7 L1754.8,779.9 L1756.4,780.9 L1757.9,781.4 L1760.0,776.1 L1761.8,773.9 L1763.7,772.3 L1765.3,771.0 L1766.9,769.8 L1768.3,768.1 L1769.8,766.3 L1771.2,765.5 L1772.8,767.3 L1774.3,769.2 L1775.8,769.5 L1777.2,769.7 L1778.7,769.8 L1780.2,769.8 L1781.8,769.8 L1783.4,769.8 L1784.9,769.8 L1786.2,770.2 L1787.4,771.1 L1788.7,772.3 L1790.2,774.6 L1791.8,777.3 L1793.7,780.1 L1795.5,781.7 L1797.0,781.4 L1798.4,780.6 L1799.9,779.8 L1801.5,778.9 L1803.2,778.0 L1804.8,777.3 L1806.4,776.9 L1808.0,776.7 L1809.5,777.6 L1811.1,778.6 L1812.5,778.3 L1814.0,777.6 L1815.4,776.7 L1816.7,775.2 L1817.9,773.0 L1819.2,771.1 L1820.6,769.3 L1822.1,767.8 L1823.5,767.1 L1824.8,767.4 L1826.0,768.3 L1827.3,769.2 L1829.2,771.4 L1831.0,772.9 L1832.8,772.1 L1834.7,771.3 L1836.4,771.6 L1838.0,772.5 L1839.7,773.6 L1841.0,775.0 L1842.2,776.9 L1843.5,778.6 L1844.9,780.4 L1846.4,782.1 L1847.8,782.9 L1849.3,782.2 L1850.7,780.6 L1852.2,778.6 L1853.5,776.2 L1854.7,773.6 L1856.6,770.7 L1858.4,769.2 L1859.7,769.3 L1860.9,769.5 L1862.2,769.8 L1863.8,772.4 L1865.3,774.8 L1866.8,773.9 L1868.4,772.3 L1870.0,770.1 L1871.5,768.6 L1873.0,769.7 L1874.6,771.7 L1875.8,773.6 L1877.1,774.8 L1878.9,773.5 L1880.8,771.7 L1882.1,770.9 L1883.3,770.1 L1884.6,769.8 L1886.3,769.8 L1887.9,769.8 L1889.6,769.8 L1891.0,769.8 L1892.5,769.9 L1893.9,770.1 L1895.4,770.8 L1896.8,772.2 L1898.3,773.6 L1900.0,775.6 L1901.6,777.6 L1903.3,778.6 L1905.2,777.4 L1907.0,774.8 L1908.2,771.7 L1909.5,769.2 L1911.3,768.3 L1913.2,768.0 L1914.5,768.4 L1915.7,769.6 L1917.0,771.1 L1918.2,774.0 L1919.5,777.3 L1921.0,780.2 L1922.6,781.7 L1924.0,781.6 L1925.5,781.4 L1926.9,781.0 L1928.2,780.3 L1929.4,779.1 L1930.7,777.3 L1932.5,771.1 L1934.0,770.4 L1935.4,770.1 L1936.9,769.8 L1938.6,769.3 L1940.2,768.8 L1941.9,768.6 L1943.3,768.7 L1944.8,768.9 L1946.2,769.2 L1947.8,770.5 L1949.4,771.7 L1951.0,770.8 L1952.5,769.2 L1953.9,767.5 L1955.4,765.7 L1956.8,764.8 L1958.1,765.5 L1959.3,766.9 L1960.6,768.0 L1962.4,768.8 L1964.3,769.2 L1966.0,769.2 L1967.6,769.2 L1969.3,769.2 L1971.2,769.4 L1973.0,769.8 L1974.2,771.4 L1975.5,772.9 L1976.8,772.4 L1978.0,771.6 L1979.3,771.1 L1980.9,772.4 L1982.6,774.8 L1984.2,776.1 L1985.9,775.0 L1987.5,772.8 L1989.2,771.7 L1990.9,771.8 L1992.5,772.0 L1994.2,772.3 L1996.1,772.9 L1997.7,772.9 L1999.3,772.9 L2000.8,772.9 L2002.4,772.9 L2004.0,772.9"/>
<path transform="translate(0,0.9)" d="M147.0,770.0 L148.8,770.0 L150.5,770.0 L152.2,770.2 L153.8,770.6 L155.5,771.2 L157.2,771.9 L158.6,772.8 L160.1,774.1 L161.6,775.2 L163.0,775.7 L164.4,775.6 L165.8,775.5 L167.3,775.4 L168.7,775.3 L170.1,775.3 L171.4,775.4 L172.8,775.6 L174.1,775.7 L175.5,775.7 L176.9,775.0 L178.3,773.5 L179.8,772.0 L181.2,771.3 L182.9,771.4 L184.6,771.7 L186.2,772.0 L187.9,772.4 L189.5,772.8 L191.1,773.2 L192.7,773.8 L194.0,774.9 L195.2,776.2 L196.5,777.0 L198.1,777.1 L199.7,777.2 L201.3,777.2 L203.0,777.1 L204.7,776.8 L206.3,776.3 L208.0,775.7 L209.4,774.4 L210.9,772.3 L212.4,770.3 L213.8,769.4 L215.4,769.5 L217.0,769.7 L218.6,770.0 L220.2,770.8 L221.8,772.0 L223.4,772.8 L224.8,773.2 L226.2,773.5 L227.7,773.7 L229.1,773.8 L230.8,773.6 L232.4,773.3 L234.1,773.0 L235.8,772.8 L237.1,773.6 L238.4,775.4 L239.7,776.7 L241.0,777.4 L242.2,778.0 L243.5,778.2 L245.1,776.7 L246.7,773.9 L248.3,772.4 L249.9,772.8 L251.5,773.6 L253.1,774.7 L254.7,776.4 L256.3,778.5 L257.9,779.5 L259.5,779.1 L261.1,778.2 L262.7,776.7 L264.1,772.6 L265.5,769.0 L267.1,768.4 L268.7,768.1 L270.3,768.0 L271.6,768.3 L272.9,768.7 L274.2,769.0 L275.9,768.7 L277.5,768.1 L279.2,767.4 L280.9,767.1 L282.5,767.8 L284.1,769.3 L285.7,770.9 L287.1,772.3 L288.5,773.9 L290.0,775.2 L291.4,775.7 L293.0,774.8 L294.6,772.9 L296.2,770.9 L297.8,769.0 L299.4,767.1 L301.0,766.1 L302.5,766.0 L304.1,765.8 L305.6,765.8 L307.2,765.7 L308.7,765.7 L310.1,766.1 L311.5,767.0 L313.0,768.1 L314.4,769.0 L315.8,769.8 L317.3,770.6 L318.8,771.4 L320.2,771.9 L321.8,772.3 L323.4,772.7 L325.0,772.8 L326.7,772.6 L328.4,772.1 L330.0,771.7 L331.7,771.5 L333.1,771.7 L334.5,772.2 L336.0,772.9 L337.4,773.8 L339.0,775.9 L340.6,778.7 L342.2,780.1 L343.5,779.9 L344.7,779.4 L346.0,778.6 L347.4,775.3 L348.9,771.9 L350.4,770.9 L351.8,770.5 L353.1,771.3 L354.3,773.0 L355.6,774.7 L356.9,776.4 L358.2,778.2 L359.5,779.5 L361.2,780.5 L362.9,781.3 L364.5,781.8 L366.2,782.0 L367.6,781.6 L369.0,780.7 L370.5,779.6 L371.9,778.6 L373.3,777.7 L374.8,776.8 L376.2,776.0 L377.7,775.7 L379.1,775.7 L380.5,775.7 L382.0,775.7 L383.4,775.7 L384.8,775.6 L386.3,775.4 L387.8,775.1 L389.2,774.7 L390.5,774.2 L391.7,773.3 L393.0,771.9 L394.5,765.2 L396.1,763.7 L397.8,763.2 L399.1,763.7 L400.3,764.8 L401.6,766.1 L402.9,767.8 L404.2,770.0 L405.5,771.9 L407.1,773.5 L408.6,774.9 L410.2,776.7 L411.6,780.4 L413.1,783.4 L414.6,784.2 L416.0,784.8 L417.4,785.2 L418.9,785.3 L420.3,784.8 L421.8,783.9 L423.2,782.9 L424.6,782.4 L426.2,782.7 L427.8,783.1 L429.4,783.4 L431.0,782.9 L432.6,782.0 L434.2,781.5 L435.5,782.2 L436.7,783.7 L438.0,785.3 L439.7,787.1 L441.4,788.9 L443.0,791.1 L444.7,794.0 L446.4,799.3 L448.1,805.4 L449.8,810.2 L451.5,814.4 L453.0,817.4 L454.6,820.1 L456.1,823.5 L457.8,829.2 L459.5,837.1 L461.2,848.6 L462.9,862.0 L464.6,873.7 L466.3,887.0 L467.2,896.6 L468.1,907.7 L469.0,918.7 L470.0,930.0 L471.0,941.1 L472.0,952.7 L472.9,963.5 L473.8,974.8 L474.7,986.8 L475.4,997.7 L476.2,1009.3 L476.9,1020.8 L477.7,1032.2 L478.4,1043.5 L479.2,1054.8 L480.0,1065.8 L480.7,1076.8 L481.5,1088.8 L482.1,1099.1 L482.7,1110.4 L483.3,1122.8 L483.9,1139.7 L484.4,1150.5 L484.8,1145.3 L485.3,1132.5 L485.8,1116.1 L486.2,1100.1 L486.5,1090.0 L486.8,1079.2 L487.1,1067.9 L487.4,1056.1 L487.7,1044.1 L488.0,1032.1 L488.3,1021.2 L488.5,1010.0 L488.8,998.6 L489.1,987.1 L489.3,975.5 L489.6,964.1 L489.9,953.0 L490.1,942.2 L490.4,931.4 L490.7,920.3 L490.9,908.6 L491.2,896.1 L491.4,885.5 L491.6,873.8 L491.8,861.6 L492.0,849.5 L492.2,838.1 L492.4,828.0 L492.7,816.3 L492.9,805.9 L493.2,796.0 L493.5,785.5 L493.8,774.9 L494.1,764.4 L494.3,753.1 L494.6,740.1 L494.8,730.0 L495.0,718.4 L495.1,705.6 L495.3,692.0 L495.5,678.0 L495.7,664.1 L495.8,650.7 L496.0,638.1 L496.2,626.8 L496.4,613.8 L496.6,601.3 L496.9,589.4 L497.1,577.9 L497.3,566.8 L497.6,556.2 L497.8,546.0 L498.0,536.1 L498.3,522.9 L498.6,509.7 L498.9,497.0 L499.2,485.4 L499.5,475.5 L499.8,468.0 L500.6,452.8 L501.3,441.0 L502.1,436.3 L502.9,440.3 L503.7,450.3 L504.4,463.9 L505.2,478.2 L506.0,490.7 L506.9,502.2 L507.7,513.5 L508.5,524.8 L509.4,536.1 L510.2,547.4 L511.1,558.8 L511.9,570.1 L512.8,581.4 L513.6,593.0 L514.5,604.9 L515.4,616.4 L516.2,626.8 L517.3,639.0 L518.5,650.2 L519.6,660.8 L521.3,676.4 L523.0,690.2 L524.7,701.4 L526.4,710.7 L528.1,718.0 L529.8,724.3 L531.5,730.3 L533.2,735.6 L534.9,740.4 L536.6,743.5 L538.1,744.2 L539.6,744.6 L541.1,745.1 L542.6,746.2 L544.1,747.7 L545.6,749.2 L547.0,750.5 L548.5,751.7 L549.9,753.1 L551.3,754.9 L553.0,759.0 L554.7,762.8 L556.4,764.4 L558.1,765.1 L559.8,763.7 L561.5,761.7 L563.0,760.6 L564.6,759.8 L566.1,759.4 L567.8,761.3 L569.5,763.9 L571.0,765.3 L572.5,766.4 L574.0,766.9 L575.4,766.3 L576.9,764.8 L578.3,763.4 L579.7,762.8 L581.2,763.3 L582.7,764.3 L584.2,765.1 L585.7,765.5 L587.2,765.8 L588.7,766.2 L590.2,767.4 L591.8,769.5 L593.3,771.9 L594.8,775.1 L596.3,778.7 L597.8,781.0 L599.1,781.8 L600.5,782.1 L601.9,780.4 L603.2,776.8 L604.6,774.1 L606.1,772.7 L607.6,771.6 L609.1,770.7 L610.5,769.9 L611.8,769.2 L613.2,768.5 L614.5,767.9 L615.9,767.3 L617.3,766.6 L618.6,765.9 L620.0,765.3 L621.3,764.8 L622.7,764.6 L624.2,765.1 L625.8,766.2 L627.3,767.3 L628.7,768.1 L630.1,768.8 L631.5,769.5 L632.9,770.1 L634.3,770.6 L635.7,771.1 L637.0,771.5 L638.4,771.8 L639.8,771.9 L641.5,768.9 L643.2,765.1 L644.7,763.8 L646.2,762.8 L647.7,762.4 L649.2,763.0 L650.7,764.1 L652.2,765.1 L653.9,765.8 L655.6,766.2 L657.0,765.9 L658.5,765.0 L659.9,763.9 L661.3,762.8 L662.7,761.6 L664.1,760.3 L665.6,758.8 L667.0,757.1 L668.7,754.3 L670.4,751.5 L671.9,749.5 L673.4,747.8 L674.9,746.5 L676.4,745.7 L677.9,745.1 L679.4,744.2 L680.9,742.7 L682.5,740.5 L684.0,737.9 L685.7,734.1 L687.4,728.8 L689.6,717.5 L690.8,707.6 L691.9,694.8 L692.7,684.5 L693.4,672.7 L694.2,660.8 L694.9,649.0 L695.7,637.1 L696.4,626.8 L697.5,614.8 L698.7,604.1 L699.9,591.3 L701.0,581.4 L703.2,574.6 L704.4,579.1 L705.5,588.2 L706.6,600.2 L707.8,615.4 L708.5,625.8 L709.3,637.1 L710.0,649.4 L710.6,660.3 L711.1,672.2 L711.7,684.1 L712.3,694.8 L713.1,706.4 L713.8,716.9 L714.6,728.8 L715.1,739.1 L715.7,750.8 L716.2,762.8 L716.7,773.4 L717.1,784.7 L717.5,795.6 L718.0,805.4 L718.7,818.3 L719.4,830.3 L720.0,841.4 L720.7,851.9 L721.4,862.0 L722.4,876.3 L723.3,889.7 L724.3,900.6 L725.7,914.1 L727.1,921.0 L728.5,914.0 L729.8,900.6 L730.8,888.8 L731.7,874.6 L732.7,862.0 L734.2,846.6 L735.7,834.8 L737.2,826.5 L738.8,821.2 L740.2,818.5 L741.5,816.6 L742.9,815.6 L744.2,815.2 L745.6,815.1 L747.0,816.1 L748.3,818.6 L749.7,821.2 L751.1,824.6 L752.5,828.7 L754.0,832.2 L755.4,833.7 L757.1,828.1 L758.8,816.7 L760.0,807.2 L761.1,794.0 L761.7,784.3 L762.2,774.1 L763.2,760.3 L764.1,748.4 L765.1,740.1 L766.8,730.7 L768.5,726.5 L769.8,728.8 L771.1,734.2 L772.4,740.1 L773.9,747.1 L775.4,755.0 L776.9,762.8 L778.4,770.0 L780.0,777.2 L781.5,785.5 L783.3,798.2 L785.1,812.2 L786.5,824.4 L788.0,833.7 L789.6,838.4 L791.2,840.5 L792.5,836.1 L793.9,828.0 L795.6,816.4 L797.3,805.4 L798.8,799.2 L800.4,794.2 L801.9,789.5 L803.6,783.3 L805.3,779.3 L806.9,778.4 L808.5,777.9 L810.0,777.5 L811.6,777.1 L813.2,776.4 L814.6,775.4 L815.9,774.1 L817.3,772.6 L818.6,771.1 L820.0,769.6 L821.4,768.2 L822.7,766.7 L824.1,765.2 L825.4,763.9 L826.8,762.8 L828.3,761.8 L829.8,760.7 L831.3,759.8 L832.9,759.0 L834.4,758.5 L835.9,758.3 L837.4,759.0 L838.9,760.5 L840.4,761.7 L842.1,762.4 L843.8,762.8 L845.5,759.4 L847.2,756.0 L848.6,756.4 L850.0,756.9 L851.1,745.5 L852.3,727.4 L853.6,712.1 L855.0,697.9 L856.5,682.9 L857.9,670.7 L859.4,662.1 L860.9,657.1 L862.5,655.4 L864.1,654.8 L865.9,657.7 L867.7,663.9 L869.0,671.9 L870.4,682.0 L872.1,694.5 L873.8,707.0 L875.3,718.8 L876.8,727.4 L878.2,731.0 L879.7,733.6 L881.1,734.6 L882.7,733.4 L884.2,730.2 L885.8,725.1 L887.0,713.8 L888.1,697.9 L889.2,683.7 L890.4,670.7 L891.8,657.2 L893.1,648.0 L894.8,642.9 L896.5,640.8 L898.2,644.3 L899.9,652.6 L901.0,664.9 L902.2,682.0 L902.9,692.6 L903.7,703.9 L904.4,716.1 L905.0,726.4 L905.5,737.3 L906.1,749.0 L906.7,761.4 L907.2,772.0 L907.6,783.4 L908.0,795.2 L908.5,806.8 L909.0,818.5 L909.4,830.4 L909.8,841.8 L910.3,852.1 L911.1,868.2 L911.8,882.7 L912.6,892.9 L914.4,908.3 L916.2,915.1 L918.0,907.8 L919.8,892.9 L921.0,879.4 L922.1,863.4 L923.2,847.0 L924.4,834.0 L926.6,823.8 L927.9,823.0 L929.2,822.5 L930.5,822.2 L932.0,822.0 L933.5,821.8 L935.0,821.5 L936.5,818.9 L938.0,813.6 L939.4,805.1 L940.7,795.4 L942.4,787.6 L944.1,779.5 L945.6,769.7 L947.1,756.9 L948.2,742.8 L949.3,727.4 L950.5,712.8 L951.6,702.4 L953.0,696.3 L954.3,692.0 L955.7,690.4 L957.2,695.6 L958.8,707.0 L959.6,715.2 L960.3,726.4 L961.1,738.7 L961.7,749.1 L962.3,760.7 L962.9,772.7 L963.4,785.1 L964.0,798.0 L964.5,806.8 L965.8,818.6 L967.1,826.8 L968.4,829.9 L969.7,828.1 L971.1,823.6 L972.4,818.1 L974.1,807.8 L975.9,795.4 L977.6,784.4 L979.3,772.7 L980.6,761.5 L982.0,750.1 L983.5,738.7 L984.9,729.7 L986.4,724.2 L988.0,720.1 L989.5,716.1 L991.2,711.9 L992.9,707.0 L994.2,701.3 L995.6,693.4 L996.7,683.2 L997.8,670.7 L999.0,656.2 L1000.1,643.5 L1001.5,632.9 L1002.8,624.3 L1004.2,620.8 L1005.9,626.5 L1007.6,639.0 L1008.4,647.1 L1009.1,658.2 L1009.9,670.7 L1010.5,680.8 L1011.0,692.4 L1011.5,704.5 L1012.1,716.1 L1012.7,727.6 L1013.2,738.9 L1013.8,750.1 L1014.4,761.4 L1015.0,772.7 L1015.5,784.0 L1016.1,795.3 L1016.7,806.8 L1017.2,818.3 L1017.8,830.2 L1018.4,841.7 L1018.9,852.1 L1019.6,864.5 L1020.4,875.7 L1021.1,886.4 L1021.9,897.5 L1022.6,909.2 L1023.4,921.1 L1024.1,931.5 L1025.5,950.7 L1026.9,961.0 L1028.2,951.0 L1029.6,931.5 L1030.2,922.0 L1030.8,910.5 L1031.3,898.2 L1031.9,886.1 L1032.5,874.9 L1033.0,863.4 L1033.5,852.0 L1034.1,840.8 L1034.7,829.1 L1035.2,817.5 L1035.8,806.2 L1036.4,795.4 L1037.2,781.7 L1037.9,768.7 L1038.7,756.9 L1039.7,742.4 L1040.6,729.1 L1041.6,720.6 L1043.3,712.7 L1045.1,707.2 L1046.8,705.2 L1048.1,707.5 L1049.4,713.2 L1050.7,720.6 L1051.8,730.2 L1053.0,743.4 L1054.1,756.9 L1055.2,769.9 L1056.4,783.2 L1057.5,795.4 L1059.2,812.1 L1060.9,824.9 L1062.4,832.9 L1064.0,840.1 L1065.5,845.2 L1067.0,847.1 L1068.4,844.8 L1069.7,838.6 L1071.1,829.4 L1071.7,822.0 L1072.2,810.2 L1072.8,796.7 L1073.4,784.1 L1074.0,772.8 L1074.6,761.6 L1075.1,750.4 L1075.7,739.0 L1076.3,727.4 L1076.8,716.0 L1077.4,704.1 L1077.9,692.2 L1078.5,680.9 L1079.0,670.7 L1079.9,654.7 L1080.8,640.3 L1081.7,629.9 L1083.0,619.3 L1084.3,610.4 L1085.7,604.1 L1087.0,601.8 L1088.3,605.4 L1089.5,614.2 L1090.8,625.4 L1091.5,633.9 L1092.3,645.0 L1093.0,657.7 L1093.8,670.7 L1094.4,681.0 L1095.0,692.1 L1095.5,703.7 L1096.1,715.6 L1096.7,727.4 L1097.2,738.7 L1097.8,750.5 L1098.3,762.3 L1098.9,773.6 L1099.4,784.1 L1100.1,796.5 L1100.8,808.0 L1101.5,819.0 L1102.2,829.4 L1103.2,844.0 L1104.1,857.7 L1105.1,868.0 L1106.5,878.5 L1107.8,886.8 L1109.2,890.2 L1110.5,887.6 L1111.7,881.6 L1113.0,874.8 L1114.4,865.1 L1115.8,856.6 L1117.1,852.9 L1118.5,850.2 L1119.8,847.6 L1121.3,844.6 L1122.9,841.7 L1124.4,838.5 L1125.8,835.2 L1127.1,831.5 L1128.5,827.2 L1129.8,822.5 L1131.0,817.1 L1132.3,811.3 L1133.8,804.3 L1135.3,795.4 L1136.4,785.0 L1137.5,772.7 L1138.8,756.3 L1140.2,743.3 L1141.7,735.2 L1143.3,729.2 L1144.8,726.9 L1146.5,732.0 L1148.2,743.3 L1149.3,756.0 L1150.5,772.7 L1151.2,784.5 L1152.0,797.0 L1152.7,806.8 L1154.2,821.8 L1155.8,833.7 L1157.3,838.5 L1158.8,836.3 L1160.3,831.0 L1161.8,824.9 L1163.5,816.1 L1165.2,806.8 L1166.9,799.9 L1168.6,793.2 L1170.3,785.9 L1172.0,777.3 L1173.3,766.7 L1174.7,756.9 L1176.1,751.4 L1177.4,747.1 L1178.8,743.3 L1180.3,739.7 L1181.8,736.5 L1183.3,731.9 L1184.7,723.9 L1186.1,711.5 L1186.8,701.4 L1187.6,688.2 L1188.3,675.2 L1189.1,662.0 L1189.8,648.9 L1190.6,639.0 L1192.0,626.2 L1193.3,616.2 L1194.7,612.2 L1196.4,620.0 L1198.1,636.7 L1198.8,647.1 L1199.6,660.9 L1200.3,675.2 L1200.9,686.0 L1201.4,697.2 L1202.0,708.7 L1202.6,720.6 L1203.2,733.2 L1203.8,746.5 L1204.3,759.9 L1204.9,772.7 L1205.5,784.7 L1206.0,796.5 L1206.5,807.8 L1207.1,818.1 L1207.8,830.7 L1208.6,842.2 L1209.3,853.0 L1210.1,863.4 L1211.0,876.2 L1211.9,888.4 L1212.8,897.5 L1214.1,907.2 L1215.4,914.8 L1216.7,917.9 L1218.0,913.9 L1219.4,904.3 L1220.7,892.9 L1221.7,882.4 L1222.7,869.4 L1223.7,856.6 L1224.6,845.2 L1225.5,833.9 L1226.4,824.9 L1227.8,815.1 L1229.1,809.0 L1230.5,806.1 L1231.8,804.1 L1233.2,803.4 L1234.6,804.9 L1236.0,808.7 L1237.4,813.6 L1238.9,822.4 L1240.4,834.0 L1241.8,845.6 L1243.1,856.6 L1244.8,867.3 L1246.5,874.8 L1248.2,879.2 L1249.8,882.6 L1251.5,883.9 L1252.9,882.6 L1254.2,879.2 L1255.6,874.8 L1257.3,864.8 L1259.0,852.1 L1260.7,840.4 L1262.4,829.4 L1264.1,819.8 L1265.8,811.3 L1267.5,803.7 L1269.2,797.7 L1270.9,793.8 L1272.6,790.9 L1274.1,788.8 L1275.6,787.1 L1277.1,785.2 L1278.8,782.1 L1280.5,780.0 L1282.2,779.6 L1283.9,779.5 L1285.6,782.3 L1287.3,785.2 L1289.0,785.2 L1290.7,785.2 L1292.4,783.7 L1294.1,782.3 L1295.8,784.3 L1297.5,786.8 L1299.2,787.8 L1300.9,788.2 L1302.6,786.3 L1304.3,782.9 L1306.0,779.3 L1307.7,775.0 L1309.2,771.1 L1310.7,765.9 L1312.9,750.1 L1314.1,740.6 L1315.2,731.9 L1316.3,725.3 L1317.5,720.6 L1319.7,716.5 L1321.1,717.8 L1322.4,720.6 L1323.8,727.2 L1325.2,734.2 L1327.0,737.9 L1328.8,741.0 L1330.2,744.0 L1331.5,747.8 L1332.8,753.7 L1334.2,761.4 L1335.7,771.9 L1337.2,784.1 L1338.3,795.1 L1339.5,804.5 L1340.8,811.0 L1342.0,816.1 L1343.3,818.1 L1345.1,814.5 L1346.9,806.8 L1348.3,796.7 L1349.7,784.1 L1351.1,772.6 L1352.4,761.4 L1354.6,745.5 L1356.0,743.4 L1357.3,742.2 L1358.7,741.0 L1360.2,739.1 L1361.8,737.3 L1363.3,736.5 L1365.0,737.3 L1366.7,738.7 L1368.4,740.4 L1370.1,741.5 L1371.8,740.7 L1373.5,738.7 L1375.7,727.4 L1376.8,717.5 L1378.0,704.7 L1378.8,694.0 L1379.5,681.9 L1380.3,670.7 L1381.4,656.0 L1382.5,645.8 L1383.9,640.2 L1385.3,637.8 L1386.8,642.7 L1388.2,652.6 L1389.6,665.9 L1390.9,682.0 L1391.9,692.8 L1392.9,703.9 L1393.9,716.1 L1394.6,726.8 L1395.4,738.5 L1396.1,750.1 L1396.9,761.5 L1397.6,772.8 L1398.4,784.1 L1399.2,795.4 L1399.9,806.7 L1400.7,818.1 L1401.4,829.4 L1402.2,840.8 L1402.9,852.1 L1403.7,863.7 L1404.4,875.2 L1405.2,886.1 L1406.3,901.9 L1407.5,915.6 L1408.7,928.2 L1409.8,934.9 L1411.5,928.2 L1413.2,915.6 L1414.9,901.6 L1416.6,886.1 L1418.3,870.9 L1420.0,856.6 L1421.7,844.2 L1423.4,834.0 L1425.1,826.3 L1426.8,820.4 L1428.5,815.3 L1430.2,812.4 L1431.6,812.0 L1433.0,811.8 L1434.4,811.7 L1435.8,811.3 L1437.5,808.0 L1439.2,803.4 L1440.9,800.4 L1442.6,797.7 L1444.1,794.9 L1445.7,792.1 L1447.2,789.8 L1448.9,787.9 L1450.6,786.8 L1452.0,786.5 L1453.4,786.3 L1454.8,786.2 L1456.2,785.9 L1457.7,785.0 L1459.3,783.8 L1460.8,782.9 L1462.2,782.5 L1463.6,782.3 L1465.0,782.0 L1466.4,781.8 L1467.8,781.5 L1469.2,781.2 L1470.7,780.9 L1472.1,780.7 L1473.5,780.5 L1474.9,780.4 L1476.4,780.2 L1477.8,780.0 L1479.2,779.2 L1480.6,777.8 L1482.0,776.4 L1483.4,775.5 L1484.8,775.1 L1486.2,774.9 L1487.7,774.7 L1489.1,774.6 L1490.8,776.3 L1492.5,779.5 L1494.2,782.8 L1495.9,786.3 L1497.6,790.3 L1499.3,793.2 L1500.7,793.9 L1502.2,794.4 L1503.6,794.8 L1505.0,795.4 L1506.5,796.8 L1508.0,798.7 L1509.5,800.0 L1511.0,800.5 L1512.6,800.9 L1514.1,801.1 L1515.6,800.8 L1517.1,800.3 L1518.6,800.0 L1520.3,803.4 L1522.0,809.0 L1523.5,812.6 L1525.0,816.2 L1526.5,820.4 L1528.2,826.6 L1529.9,834.0 L1531.6,842.6 L1533.3,852.1 L1535.0,861.7 L1536.7,872.5 L1538.2,884.2 L1539.7,897.5 L1541.1,910.7 L1542.4,924.7 L1543.8,937.8 L1545.1,954.1 L1545.6,963.4 L1546.0,975.4 L1546.5,987.7 L1547.0,998.1 L1547.8,1010.3 L1548.5,1020.7 L1549.3,1032.1 L1549.9,1042.8 L1550.5,1054.5 L1551.1,1066.1 L1551.7,1077.4 L1552.3,1088.8 L1552.9,1100.1 L1553.5,1112.1 L1554.1,1124.0 L1554.7,1134.1 L1555.8,1150.9 L1557.0,1159.5 L1558.2,1152.1 L1559.5,1134.1 L1559.8,1127.0 L1560.1,1116.7 L1560.4,1104.2 L1560.7,1090.8 L1561.0,1077.5 L1561.2,1067.3 L1561.5,1056.7 L1561.7,1045.6 L1561.9,1034.0 L1562.2,1021.9 L1562.4,1009.4 L1562.6,998.9 L1562.8,987.7 L1563.0,976.0 L1563.1,964.2 L1563.3,952.6 L1563.5,941.4 L1563.7,929.8 L1563.9,918.6 L1564.1,907.5 L1564.3,896.4 L1564.5,885.1 L1564.7,873.4 L1564.9,862.0 L1565.1,849.7 L1565.2,837.6 L1565.4,826.3 L1565.6,816.7 L1566.0,801.4 L1566.3,788.9 L1566.7,778.1 L1567.0,768.2 L1567.4,758.1 L1567.8,746.9 L1568.1,733.7 L1568.5,717.5 L1568.7,708.9 L1568.8,698.4 L1569.0,686.5 L1569.1,673.9 L1569.2,661.0 L1569.4,648.5 L1569.5,636.9 L1569.7,626.8 L1569.9,613.3 L1570.2,600.4 L1570.4,588.1 L1570.6,576.4 L1570.8,565.3 L1571.0,554.9 L1571.3,545.1 L1571.5,536.1 L1571.9,521.9 L1572.2,508.2 L1572.6,495.4 L1573.0,484.1 L1573.3,474.7 L1573.7,468.0 L1574.8,453.1 L1576.0,446.5 L1577.3,453.7 L1578.7,468.0 L1579.4,476.9 L1580.1,488.1 L1580.8,500.5 L1581.5,513.4 L1582.0,524.3 L1582.6,536.2 L1583.2,548.1 L1583.7,558.7 L1584.5,571.4 L1585.2,583.0 L1586.0,593.9 L1586.7,604.1 L1587.7,616.4 L1588.6,627.7 L1589.6,638.1 L1591.2,653.8 L1592.8,667.6 L1594.6,680.9 L1596.4,692.5 L1597.7,700.0 L1599.0,706.9 L1600.3,712.9 L1601.8,718.9 L1603.3,724.1 L1604.8,728.8 L1606.3,732.9 L1607.8,736.5 L1609.3,740.1 L1610.8,744.1 L1612.4,748.1 L1613.9,751.5 L1615.4,754.1 L1616.9,756.2 L1618.4,758.3 L1619.8,760.4 L1621.2,762.6 L1622.7,764.4 L1624.1,765.5 L1625.5,766.0 L1626.8,766.3 L1628.2,766.5 L1629.5,766.8 L1630.9,767.3 L1632.4,769.0 L1633.9,771.8 L1635.4,774.1 L1636.9,775.4 L1638.5,776.5 L1640.0,777.6 L1641.5,779.0 L1643.0,780.4 L1644.5,781.0 L1645.9,781.0 L1647.2,781.0 L1648.6,781.0 L1649.9,781.0 L1651.3,781.0 L1652.7,780.6 L1654.2,779.4 L1655.6,777.9 L1657.0,776.4 L1658.4,774.4 L1659.8,771.7 L1661.2,769.5 L1662.6,768.5 L1664.0,769.4 L1665.4,771.3 L1666.9,773.2 L1668.3,774.1 L1669.7,773.7 L1671.2,772.9 L1672.6,772.0 L1674.0,771.4 L1675.4,771.2 L1676.7,771.0 L1678.1,770.8 L1679.4,770.7 L1680.8,770.7 L1682.5,774.0 L1684.2,778.7 L1685.9,781.7 L1687.6,783.2 L1689.0,782.4 L1690.4,780.4 L1691.8,778.2 L1693.2,776.4 L1694.6,775.1 L1695.9,773.7 L1697.3,772.6 L1698.6,771.7 L1700.0,771.4 L1701.4,772.6 L1702.8,775.5 L1704.3,778.7 L1705.7,781.0 L1707.1,782.4 L1708.6,783.7 L1710.0,784.6 L1711.4,785.0 L1712.9,782.6 L1714.4,777.7 L1715.9,774.1 L1717.4,772.4 L1719.0,771.2 L1720.5,770.7 L1721.9,770.8 L1723.3,771.1 L1724.7,771.4 L1726.1,771.9 L1727.6,773.0 L1729.2,774.5 L1730.7,775.3 L1732.1,774.9 L1733.5,774.1 L1734.9,773.0 L1736.3,771.9 L1737.8,770.6 L1739.4,769.2 L1740.9,768.5 L1742.3,768.9 L1743.6,769.8 L1745.0,771.1 L1746.3,772.4 L1747.7,773.7 L1749.1,774.9 L1750.5,776.3 L1751.9,777.6 L1753.3,778.7 L1754.8,779.9 L1756.4,780.9 L1757.9,781.4 L1760.0,776.1 L1761.8,773.9 L1763.7,772.3 L1765.3,771.0 L1766.9,769.8 L1768.3,768.1 L1769.8,766.3 L1771.2,765.5 L1772.8,767.3 L1774.3,769.2 L1775.8,769.5 L1777.2,769.7 L1778.7,769.8 L1780.2,769.8 L1781.8,769.8 L1783.4,769.8 L1784.9,769.8 L1786.2,770.2 L1787.4,771.1 L1788.7,772.3 L1790.2,774.6 L1791.8,777.3 L1793.7,780.1 L1795.5,781.7 L1797.0,781.4 L1798.4,780.6 L1799.9,779.8 L1801.5,778.9 L1803.2,778.0 L1804.8,777.3 L1806.4,776.9 L1808.0,776.7 L1809.5,777.6 L1811.1,778.6 L1812.5,778.3 L1814.0,777.6 L1815.4,776.7 L1816.7,775.2 L1817.9,773.0 L1819.2,771.1 L1820.6,769.3 L1822.1,767.8 L1823.5,767.1 L1824.8,767.4 L1826.0,768.3 L1827.3,769.2 L1829.2,771.4 L1831.0,772.9 L1832.8,772.1 L1834.7,771.3 L1836.4,771.6 L1838.0,772.5 L1839.7,773.6 L1841.0,775.0 L1842.2,776.9 L1843.5,778.6 L1844.9,780.4 L1846.4,782.1 L1847.8,782.9 L1849.3,782.2 L1850.7,780.6 L1852.2,778.6 L1853.5,776.2 L1854.7,773.6 L1856.6,770.7 L1858.4,769.2 L1859.7,769.3 L1860.9,769.5 L1862.2,769.8 L1863.8,772.4 L1865.3,774.8 L1866.8,773.9 L1868.4,772.3 L1870.0,770.1 L1871.5,768.6 L1873.0,769.7 L1874.6,771.7 L1875.8,773.6 L1877.1,774.8 L1878.9,773.5 L1880.8,771.7 L1882.1,770.9 L1883.3,770.1 L1884.6,769.8 L1886.3,769.8 L1887.9,769.8 L1889.6,769.8 L1891.0,769.8 L1892.5,769.9 L1893.9,770.1 L1895.4,770.8 L1896.8,772.2 L1898.3,773.6 L1900.0,775.6 L1901.6,777.6 L1903.3,778.6 L1905.2,777.4 L1907.0,774.8 L1908.2,771.7 L1909.5,769.2 L1911.3,768.3 L1913.2,768.0 L1914.5,768.4 L1915.7,769.6 L1917.0,771.1 L1918.2,774.0 L1919.5,777.3 L1921.0,780.2 L1922.6,781.7 L1924.0,781.6 L1925.5,781.4 L1926.9,781.0 L1928.2,780.3 L1929.4,779.1 L1930.7,777.3 L1932.5,771.1 L1934.0,770.4 L1935.4,770.1 L1936.9,769.8 L1938.6,769.3 L1940.2,768.8 L1941.9,768.6 L1943.3,768.7 L1944.8,768.9 L1946.2,769.2 L1947.8,770.5 L1949.4,771.7 L1951.0,770.8 L1952.5,769.2 L1953.9,767.5 L1955.4,765.7 L1956.8,764.8 L1958.1,765.5 L1959.3,766.9 L1960.6,768.0 L1962.4,768.8 L1964.3,769.2 L1966.0,769.2 L1967.6,769.2 L1969.3,769.2 L1971.2,769.4 L1973.0,769.8 L1974.2,771.4 L1975.5,772.9 L1976.8,772.4 L1978.0,771.6 L1979.3,771.1 L1980.9,772.4 L1982.6,774.8 L1984.2,776.1 L1985.9,775.0 L1987.5,772.8 L1989.2,771.7 L1990.9,771.8 L1992.5,772.0 L1994.2,772.3 L1996.1,772.9 L1997.7,772.9 L1999.3,772.9 L2000.8,772.9 L2002.4,772.9 L2004.0,772.9"/>
</g>
<g fill="none" stroke="#ff0000" stroke-width="8.6" stroke-linejoin="round" stroke-linecap="butt">
<path transform="translate(0,-0.9)" d="M147.0,406.7 L148.8,406.7 L150.5,406.7 L152.0,406.6 L153.6,406.2 L155.1,405.6 L156.7,404.8 L158.2,403.8 L159.5,402.2 L160.7,399.6 L162.0,397.1 L163.6,393.6 L165.2,390.1 L166.8,388.5 L168.4,389.6 L170.0,392.1 L171.6,395.2 L173.2,400.2 L174.8,406.3 L176.4,409.5 L177.7,409.8 L178.9,410.0 L180.2,410.1 L181.5,409.2 L182.8,407.6 L184.1,406.7 L185.8,407.6 L187.4,409.6 L189.1,411.5 L190.8,412.4 L192.4,411.8 L194.0,410.4 L195.6,408.6 L196.9,406.4 L198.2,403.3 L199.6,400.6 L200.9,399.4 L202.3,400.0 L203.8,401.3 L205.2,402.8 L206.8,405.4 L208.4,408.6 L210.0,410.1 L211.7,409.4 L213.3,407.9 L215.0,406.4 L216.7,405.7 L218.1,406.0 L219.6,406.6 L221.0,407.3 L222.4,407.6 L223.8,406.8 L225.3,405.0 L226.8,403.2 L228.2,402.4 L229.7,402.5 L231.2,402.9 L232.8,403.4 L234.3,404.0 L235.8,404.7 L237.3,406.2 L238.9,408.6 L240.4,411.3 L242.0,413.4 L243.5,414.3 L245.0,412.8 L246.6,409.1 L248.1,404.6 L249.7,400.9 L251.2,399.4 L252.9,400.3 L254.5,402.2 L256.2,404.2 L257.9,405.1 L259.6,403.9 L261.2,401.1 L262.9,398.4 L264.6,397.1 L266.1,397.7 L267.6,399.1 L269.2,400.9 L270.7,402.6 L272.2,403.8 L273.6,404.5 L275.1,405.1 L276.6,405.5 L278.0,405.7 L279.7,404.7 L281.4,402.5 L283.0,400.4 L284.7,399.4 L286.4,400.1 L288.0,401.8 L289.7,403.9 L291.4,405.7 L292.8,407.2 L294.3,408.7 L295.8,410.0 L297.2,410.5 L298.7,410.2 L300.2,409.3 L301.8,408.3 L303.3,407.3 L304.8,406.7 L306.2,406.4 L307.7,406.2 L309.2,406.0 L310.6,405.7 L312.0,404.8 L313.5,403.3 L314.9,401.5 L316.3,400.0 L317.8,398.5 L319.4,397.0 L320.9,395.6 L322.5,394.6 L324.0,394.2 L325.4,395.7 L326.9,399.0 L328.3,402.6 L329.7,404.7 L331.1,405.5 L332.6,406.2 L334.0,406.8 L335.5,407.2 L336.9,407.5 L338.4,407.6 L340.1,407.2 L341.8,406.3 L343.4,405.1 L345.1,403.8 L346.8,402.1 L348.5,399.8 L350.1,397.9 L351.8,397.1 L353.2,398.0 L354.6,399.9 L356.1,401.9 L357.5,402.8 L359.2,401.9 L360.9,399.9 L362.5,398.0 L364.2,397.1 L365.7,398.0 L367.3,400.1 L368.8,402.7 L370.4,404.8 L371.9,405.7 L373.3,405.1 L374.8,403.7 L376.2,401.9 L377.6,400.0 L379.1,398.6 L380.5,398.0 L382.2,398.9 L383.9,400.9 L385.5,402.9 L387.2,403.8 L388.7,403.8 L390.3,403.8 L391.8,403.8 L393.4,403.8 L394.9,403.8 L396.3,405.3 L397.8,408.6 L399.2,411.9 L400.7,413.4 L402.3,413.3 L403.9,412.9 L405.4,412.4 L407.0,412.0 L408.6,411.6 L410.2,411.5 L411.6,412.3 L413.1,414.2 L414.6,416.2 L416.0,417.2 L417.4,417.4 L418.9,417.5 L420.3,417.6 L421.7,417.8 L423.2,419.1 L424.8,421.8 L426.3,425.0 L427.9,427.6 L429.4,428.7 L430.8,428.1 L432.3,426.4 L433.7,424.1 L435.1,421.5 L436.6,418.9 L438.0,416.6 L439.5,414.9 L440.9,414.3 L442.4,415.8 L443.9,419.7 L445.5,424.6 L447.0,429.5 L448.5,434.6 L450.0,440.3 L451.5,445.4 L453.0,449.2 L454.6,452.5 L456.1,456.7 L457.6,463.0 L459.1,471.0 L460.6,479.4 L462.1,487.6 L463.6,496.3 L465.1,506.6 L466.2,516.7 L467.4,528.6 L468.5,540.6 L469.7,551.8 L470.8,563.2 L472.0,576.9 L472.7,588.2 L473.5,601.5 L474.2,615.4 L474.8,626.4 L475.4,637.8 L475.9,649.3 L476.5,660.8 L477.1,672.4 L477.6,684.1 L478.2,695.6 L478.8,706.1 L479.5,718.1 L480.3,729.2 L481.0,740.1 L481.8,751.8 L482.5,763.4 L483.3,774.1 L484.4,787.3 L485.0,782.8 L485.5,771.5 L486.1,756.2 L486.7,740.1 L487.0,731.8 L487.3,722.5 L487.6,712.3 L487.9,701.2 L488.1,689.3 L488.4,676.7 L488.7,663.3 L489.0,649.4 L489.2,639.9 L489.4,629.5 L489.6,618.3 L489.7,606.5 L489.9,594.2 L490.1,581.4 L490.2,571.0 L490.4,559.6 L490.5,547.5 L490.6,535.1 L490.8,522.8 L490.9,511.1 L491.1,500.3 L491.2,490.7 L491.4,477.4 L491.6,465.7 L491.9,455.2 L492.1,445.2 L492.3,435.2 L492.6,424.8 L492.8,413.2 L493.0,400.0 L493.1,390.1 L493.3,378.8 L493.4,366.6 L493.6,353.6 L493.7,340.2 L493.9,326.6 L494.0,313.2 L494.2,300.2 L494.3,288.0 L494.5,276.7 L494.6,266.8 L494.8,253.0 L495.1,239.8 L495.3,227.4 L495.5,215.7 L495.7,204.8 L495.9,194.5 L496.2,184.9 L496.4,176.1 L496.8,162.0 L497.2,148.9 L497.5,136.7 L497.9,125.8 L498.3,116.1 L498.7,108.0 L499.6,91.6 L500.4,76.6 L501.2,65.7 L502.1,61.5 L503.1,66.2 L504.1,77.9 L505.0,93.1 L506.0,108.0 L506.7,118.1 L507.4,129.3 L508.0,141.1 L508.7,153.0 L509.4,164.7 L510.1,176.3 L510.8,188.2 L511.4,199.6 L512.1,210.1 L513.0,222.6 L513.9,234.1 L514.8,244.9 L515.7,255.4 L516.8,267.8 L517.8,279.6 L518.9,289.4 L520.3,299.4 L521.8,307.6 L523.5,315.7 L525.2,323.4 L526.9,332.5 L528.6,341.6 L529.9,348.6 L531.2,355.4 L532.5,359.7 L533.9,361.7 L535.2,363.0 L536.6,364.3 L538.1,365.7 L539.6,367.0 L541.1,368.8 L542.8,373.5 L544.5,377.9 L546.0,379.2 L547.5,380.0 L549.0,381.3 L550.7,387.5 L552.4,393.7 L553.8,395.3 L555.2,396.4 L556.7,397.3 L558.1,397.8 L559.6,398.2 L561.2,398.6 L562.7,398.7 L564.1,397.9 L565.5,396.2 L566.9,394.5 L568.3,393.7 L569.7,395.1 L571.1,398.1 L572.6,401.2 L574.0,402.8 L575.7,403.2 L577.4,403.3 L579.1,399.1 L580.8,393.7 L582.5,391.4 L584.2,390.3 L585.9,392.1 L587.6,396.0 L589.3,403.5 L591.0,409.6 L592.7,410.4 L594.4,410.7 L595.9,409.7 L597.4,407.9 L598.9,406.9 L600.3,407.0 L601.8,407.3 L603.2,407.7 L604.6,407.8 L606.1,406.4 L607.6,403.4 L609.1,400.5 L610.7,397.9 L612.3,395.2 L613.9,393.1 L615.5,392.2 L617.0,392.7 L618.5,394.1 L620.1,395.7 L621.6,397.1 L623.0,398.3 L624.3,399.6 L625.7,400.8 L627.0,401.7 L628.4,402.1 L629.8,401.7 L631.1,400.9 L632.5,399.9 L633.8,399.1 L635.2,398.7 L636.6,398.8 L637.9,399.1 L639.3,399.6 L640.6,400.2 L642.0,401.0 L643.4,403.3 L644.9,407.2 L646.3,410.9 L647.7,412.6 L649.1,412.0 L650.5,410.5 L652.0,408.4 L653.4,406.2 L654.8,403.5 L656.2,400.1 L657.6,396.6 L659.0,393.7 L660.4,391.5 L661.7,389.6 L663.1,387.8 L664.4,386.2 L665.8,384.7 L667.2,383.0 L668.6,381.3 L670.1,380.0 L671.5,379.5 L672.9,379.8 L674.4,380.5 L675.8,381.5 L677.2,382.4 L678.6,383.5 L680.0,384.9 L681.4,386.0 L682.8,386.5 L684.3,385.7 L685.9,383.4 L687.4,380.1 L689.1,371.6 L690.8,357.5 L691.6,348.0 L692.5,335.9 L693.4,323.2 L694.2,312.1 L695.3,299.9 L696.5,288.7 L697.6,278.1 L699.3,262.2 L701.0,248.6 L703.2,236.8 L704.7,243.0 L706.2,255.4 L707.1,265.0 L708.0,277.1 L708.9,289.4 L709.8,300.4 L710.6,311.6 L711.4,323.0 L712.3,334.8 L713.0,345.0 L713.8,355.1 L714.5,366.4 L715.3,380.1 L715.7,391.1 L716.2,404.9 L716.6,419.8 L717.1,433.9 L717.5,445.4 L718.2,459.7 L718.9,472.8 L719.5,484.4 L720.2,494.2 L720.9,502.0 L722.4,516.6 L724.0,528.1 L725.5,532.7 L726.5,528.3 L727.4,517.4 L728.3,503.7 L729.3,490.7 L730.1,479.2 L731.0,466.4 L731.9,454.5 L732.7,445.4 L734.4,432.1 L736.1,424.9 L737.8,423.3 L739.4,422.3 L741.1,422.0 L742.7,422.4 L744.3,423.5 L745.9,425.1 L747.5,427.2 L749.0,431.6 L750.5,438.7 L752.0,445.4 L753.5,451.9 L755.0,458.0 L756.5,460.8 L758.2,451.9 L759.9,434.0 L760.7,424.4 L761.4,412.6 L762.2,400.0 L762.8,389.5 L763.3,380.1 L764.8,363.8 L766.4,351.7 L767.9,341.6 L769.3,332.3 L770.6,324.0 L772.0,320.5 L773.6,324.6 L775.3,334.5 L776.9,346.1 L778.0,354.7 L779.2,364.9 L780.4,377.1 L781.5,391.5 L782.0,400.9 L782.6,412.7 L783.2,424.6 L783.7,434.0 L784.9,448.5 L786.0,460.9 L787.1,471.1 L788.3,479.4 L789.6,487.7 L790.8,494.6 L792.1,497.5 L793.5,492.1 L794.8,480.1 L796.2,468.0 L797.7,455.7 L799.2,443.2 L800.7,434.0 L802.2,428.2 L803.8,423.7 L805.3,420.4 L806.9,417.8 L808.5,415.4 L810.0,413.5 L811.6,412.1 L813.2,411.3 L814.6,411.0 L815.9,410.8 L817.3,410.7 L818.6,410.5 L820.0,410.2 L821.4,409.4 L822.7,408.0 L824.1,406.3 L825.4,404.6 L826.8,403.4 L828.2,402.6 L829.5,402.0 L830.9,401.5 L832.2,400.8 L833.6,400.0 L835.1,398.6 L836.7,396.8 L838.2,394.9 L839.6,392.9 L841.0,390.6 L842.4,388.5 L843.8,386.9 L845.2,386.0 L846.6,385.5 L848.1,384.8 L849.5,383.5 L850.9,373.1 L852.2,357.5 L853.6,345.3 L854.9,333.8 L856.3,323.4 L857.7,313.5 L859.0,304.4 L860.4,298.5 L862.2,294.4 L864.0,292.6 L865.4,294.0 L866.9,297.4 L868.3,301.9 L869.9,310.0 L871.5,321.2 L873.1,334.5 L874.8,349.3 L875.9,360.0 L876.9,371.0 L878.0,379.4 L879.4,387.3 L880.9,393.6 L882.3,396.2 L883.7,394.3 L885.2,389.2 L886.6,381.6 L887.3,373.8 L888.1,361.6 L888.8,349.3 L889.5,338.2 L890.2,326.9 L890.9,316.9 L892.0,302.8 L893.1,293.2 L894.5,287.5 L895.9,285.1 L897.5,289.0 L899.1,297.6 L900.0,305.0 L900.8,315.6 L901.7,327.7 L902.4,339.5 L903.2,353.0 L903.9,366.5 L904.6,378.8 L905.3,391.0 L906.0,403.1 L906.7,415.3 L907.5,427.3 L908.2,439.7 L908.9,452.7 L909.6,466.1 L910.3,478.5 L911.0,490.4 L911.8,501.5 L912.5,510.8 L914.1,529.3 L915.7,538.8 L917.3,531.6 L918.9,517.3 L920.0,504.7 L921.1,489.3 L921.8,478.3 L922.5,466.7 L923.2,457.0 L924.3,445.6 L925.4,437.6 L927.0,431.4 L928.6,426.8 L930.2,422.4 L931.9,418.2 L933.3,414.1 L934.8,409.9 L936.2,405.3 L937.8,399.0 L939.4,393.4 L940.8,390.9 L942.3,389.0 L943.7,385.9 L945.9,370.8 L946.6,361.8 L947.3,350.1 L948.0,338.5 L948.7,327.7 L949.5,317.0 L950.2,306.2 L950.9,294.5 L951.6,282.7 L952.3,273.9 L954.0,260.6 L955.6,254.5 L957.2,260.3 L958.8,273.9 L959.3,281.3 L959.8,292.1 L960.4,304.6 L960.9,316.9 L961.5,329.7 L962.0,343.2 L962.5,357.1 L963.1,370.8 L963.6,384.2 L964.2,397.6 L964.8,411.1 L965.3,424.7 L965.8,439.0 L966.3,454.2 L966.9,468.0 L967.4,478.5 L968.5,494.4 L969.5,506.9 L970.6,511.9 L972.0,509.6 L973.5,503.6 L974.9,495.7 L976.0,485.9 L977.1,471.7 L978.2,457.0 L979.0,446.0 L979.8,434.0 L980.6,422.8 L981.4,413.9 L983.0,400.3 L984.6,392.3 L986.0,390.3 L987.5,389.1 L988.9,387.6 L990.4,385.5 L991.8,383.0 L993.3,379.4 L994.9,372.1 L996.5,360.0 L997.2,351.2 L997.9,339.4 L998.6,327.7 L999.3,315.8 L1000.1,304.1 L1000.8,295.4 L1002.2,283.7 L1003.7,274.8 L1005.1,271.3 L1006.7,276.9 L1008.3,288.9 L1009.2,298.8 L1010.2,312.4 L1011.1,327.7 L1011.8,339.7 L1012.4,353.3 L1013.1,367.6 L1013.7,381.6 L1014.4,395.1 L1015.0,408.7 L1015.6,422.2 L1016.3,435.4 L1017.0,449.6 L1017.7,463.8 L1018.4,477.2 L1019.1,489.3 L1019.9,501.7 L1020.7,513.3 L1021.5,523.7 L1022.3,532.4 L1023.7,547.0 L1025.2,559.4 L1026.6,564.7 L1027.7,559.5 L1028.8,547.2 L1029.9,532.4 L1030.6,521.4 L1031.3,507.9 L1032.0,493.1 L1032.7,478.5 L1033.3,465.0 L1034.0,451.1 L1034.7,437.4 L1035.3,424.7 L1036.0,412.9 L1036.6,401.6 L1037.2,391.1 L1037.9,381.6 L1038.8,368.8 L1039.8,357.4 L1040.7,349.3 L1042.2,340.6 L1043.7,333.4 L1045.2,328.4 L1046.7,326.6 L1048.3,330.2 L1049.8,338.8 L1051.4,349.3 L1052.5,358.1 L1053.6,369.3 L1054.7,381.6 L1055.5,391.6 L1056.3,402.7 L1057.1,414.1 L1057.9,424.7 L1059.0,438.1 L1060.0,450.9 L1061.1,461.3 L1062.5,473.5 L1064.0,483.8 L1065.4,488.2 L1066.8,485.2 L1068.3,477.6 L1069.7,467.7 L1070.5,459.9 L1071.3,449.3 L1072.2,437.1 L1073.0,424.7 L1073.8,412.2 L1074.6,398.6 L1075.4,384.6 L1076.2,370.8 L1077.0,357.1 L1077.8,343.4 L1078.6,329.8 L1079.4,316.9 L1080.3,301.4 L1081.3,286.5 L1082.2,276.0 L1083.6,265.8 L1085.1,258.1 L1086.5,255.1 L1088.3,261.6 L1090.2,276.0 L1091.0,285.5 L1091.8,298.7 L1092.6,313.6 L1093.4,327.7 L1094.2,341.1 L1095.1,354.5 L1095.9,368.0 L1096.7,381.6 L1097.5,395.2 L1098.3,409.1 L1099.1,422.7 L1099.9,435.4 L1100.7,447.6 L1101.5,459.6 L1102.3,470.3 L1103.1,478.5 L1104.5,490.2 L1106.0,499.5 L1107.4,503.3 L1108.8,499.9 L1110.3,491.9 L1111.7,482.8 L1113.3,469.0 L1115.0,457.0 L1116.4,452.4 L1117.9,449.2 L1119.3,446.2 L1120.7,443.5 L1122.2,441.0 L1123.6,437.6 L1125.0,431.6 L1126.5,423.2 L1127.9,413.9 L1129.3,404.2 L1130.8,393.5 L1132.2,381.6 L1133.3,371.5 L1134.3,360.3 L1135.4,349.3 L1136.5,337.2 L1137.6,325.2 L1138.7,316.9 L1140.5,309.2 L1142.3,305.7 L1143.6,308.7 L1144.9,316.7 L1146.2,327.7 L1146.8,335.0 L1147.3,345.7 L1147.9,358.1 L1148.4,370.8 L1148.9,383.3 L1149.5,397.0 L1150.0,411.1 L1150.5,424.7 L1151.0,438.6 L1151.6,452.4 L1152.2,465.8 L1152.7,478.5 L1153.2,490.7 L1153.8,502.9 L1154.3,513.7 L1154.8,521.6 L1156.4,538.7 L1158.1,546.4 L1159.7,537.5 L1161.3,521.6 L1162.4,511.1 L1163.4,499.7 L1164.5,489.3 L1165.9,477.8 L1167.4,467.4 L1168.8,457.0 L1170.2,445.6 L1171.7,434.3 L1173.1,424.7 L1174.8,416.0 L1176.4,409.6 L1177.8,406.2 L1179.3,403.6 L1180.7,401.0 L1182.1,398.6 L1183.6,396.2 L1185.0,392.3 L1186.0,383.8 L1187.1,370.8 L1187.8,361.1 L1188.6,350.1 L1189.3,338.5 L1190.0,326.5 L1190.7,313.9 L1191.4,301.9 L1192.1,289.3 L1192.9,277.4 L1193.6,269.5 L1195.4,259.6 L1197.3,255.5 L1198.7,257.6 L1200.0,263.1 L1200.5,269.1 L1201.1,279.9 L1201.7,293.1 L1202.2,306.2 L1202.7,318.7 L1203.2,332.4 L1203.8,346.4 L1204.3,360.0 L1204.8,373.6 L1205.4,387.0 L1206.0,400.3 L1206.5,413.9 L1207.0,427.7 L1207.5,442.1 L1208.1,455.8 L1208.6,467.7 L1209.2,480.8 L1209.9,492.9 L1210.5,503.3 L1211.2,510.8 L1212.6,522.9 L1214.1,532.0 L1215.5,535.6 L1216.8,531.9 L1218.1,522.7 L1219.4,510.8 L1220.1,501.8 L1220.8,490.1 L1221.5,478.5 L1222.2,467.3 L1223.0,456.2 L1223.7,446.2 L1225.0,429.6 L1226.3,418.2 L1227.7,412.4 L1229.1,407.9 L1230.5,404.9 L1231.9,403.8 L1233.7,408.9 L1235.5,418.2 L1237.2,427.4 L1238.8,437.6 L1240.4,446.9 L1242.0,457.0 L1243.6,470.6 L1245.2,482.8 L1246.5,489.9 L1247.9,496.4 L1249.2,501.1 L1250.6,502.9 L1252.0,500.8 L1253.5,495.6 L1254.9,489.3 L1256.6,478.5 L1258.2,467.7 L1259.8,462.2 L1261.4,457.0 L1263.0,448.7 L1264.6,439.7 L1266.2,431.5 L1267.9,424.7 L1270.0,419.3 L1271.4,417.4 L1272.9,416.1 L1274.3,415.0 L1275.7,414.2 L1277.2,413.5 L1278.6,412.8 L1280.0,411.8 L1281.5,410.7 L1282.9,409.6 L1284.3,408.3 L1285.8,406.9 L1287.2,406.3 L1288.5,407.0 L1289.9,408.5 L1291.2,410.0 L1292.6,410.7 L1294.0,410.1 L1295.5,408.9 L1296.9,407.4 L1298.3,405.7 L1299.8,403.7 L1301.2,402.0 L1302.7,400.8 L1304.1,399.9 L1305.6,398.8 L1307.0,397.7 L1308.5,396.5 L1309.9,394.5 L1312.0,381.6 L1313.1,371.5 L1314.2,360.0 L1315.2,348.4 L1316.3,338.5 L1318.5,327.7 L1320.1,324.3 L1321.7,322.8 L1323.3,326.2 L1324.9,334.2 L1326.0,345.3 L1327.1,360.0 L1328.2,373.9 L1329.3,388.0 L1330.3,401.1 L1331.4,413.9 L1332.5,427.0 L1333.6,439.7 L1334.8,455.4 L1336.1,467.7 L1337.8,477.2 L1339.4,484.3 L1341.1,487.1 L1342.5,484.1 L1344.0,476.8 L1345.4,467.7 L1346.5,458.9 L1347.5,447.4 L1348.6,435.4 L1349.7,421.9 L1350.8,409.6 L1352.1,399.1 L1353.4,392.3 L1354.7,389.2 L1356.0,387.0 L1357.3,385.9 L1358.9,385.2 L1360.5,384.7 L1362.1,384.3 L1363.7,384.2 L1365.1,385.0 L1366.6,386.8 L1368.0,389.1 L1369.7,392.9 L1371.3,396.6 L1372.7,398.8 L1374.1,399.9 L1375.3,397.6 L1376.6,392.3 L1377.7,383.5 L1378.8,370.8 L1379.5,361.1 L1380.3,349.9 L1381.0,338.5 L1381.7,326.6 L1382.4,314.6 L1383.1,306.2 L1384.7,295.4 L1386.3,290.7 L1387.9,295.7 L1389.6,306.2 L1390.7,316.1 L1391.7,329.8 L1392.8,344.9 L1393.5,356.4 L1394.3,369.2 L1395.0,381.6 L1395.7,392.6 L1396.4,403.3 L1397.1,413.9 L1397.8,424.7 L1398.6,435.4 L1399.3,446.2 L1400.0,457.0 L1400.7,467.9 L1401.4,478.5 L1402.3,493.1 L1403.3,507.2 L1404.2,517.3 L1405.7,527.7 L1407.1,536.5 L1408.5,542.6 L1410.0,544.9 L1411.4,541.1 L1412.9,532.1 L1414.3,521.6 L1415.4,512.0 L1416.5,500.5 L1417.6,489.3 L1419.2,473.8 L1420.8,461.3 L1422.4,453.2 L1424.0,448.3 L1425.3,446.3 L1426.7,444.7 L1428.1,443.6 L1429.4,443.0 L1430.9,442.7 L1432.4,442.5 L1434.0,442.4 L1435.5,442.2 L1437.0,441.9 L1438.3,441.3 L1439.7,440.2 L1441.1,438.9 L1442.4,437.6 L1443.7,436.4 L1445.1,435.2 L1446.4,433.8 L1447.7,432.2 L1449.1,430.2 L1450.6,427.7 L1452.0,424.7 L1453.7,419.1 L1455.3,413.9 L1456.9,411.2 L1458.5,409.6 L1460.1,409.0 L1461.7,408.7 L1463.0,409.0 L1464.4,409.8 L1465.8,410.8 L1467.1,411.7 L1468.4,412.4 L1469.8,413.1 L1471.2,413.9 L1472.5,415.0 L1474.1,418.1 L1475.7,421.4 L1477.2,423.1 L1478.6,424.5 L1480.1,425.1 L1481.5,424.5 L1483.0,423.0 L1484.4,421.4 L1485.7,419.9 L1487.1,418.3 L1488.4,416.6 L1489.7,415.0 L1491.2,413.1 L1492.6,411.2 L1494.1,410.0 L1495.7,409.4 L1497.3,409.1 L1498.9,410.7 L1500.5,413.9 L1502.1,418.0 L1503.7,422.5 L1505.2,426.2 L1506.6,429.6 L1508.1,432.2 L1509.5,434.0 L1511.0,435.3 L1512.4,436.5 L1513.8,437.4 L1515.1,438.2 L1516.5,438.9 L1517.8,439.7 L1519.2,440.6 L1520.7,441.6 L1522.1,443.0 L1523.7,447.1 L1525.3,452.7 L1526.7,456.7 L1528.2,460.6 L1529.6,465.6 L1531.2,474.5 L1532.8,485.0 L1534.4,494.5 L1536.1,504.4 L1537.7,515.7 L1539.3,528.1 L1540.9,540.9 L1542.5,556.1 L1543.2,565.5 L1544.0,576.7 L1544.8,589.1 L1545.5,602.0 L1546.2,614.8 L1547.0,626.8 L1547.8,638.2 L1548.5,649.4 L1549.3,660.8 L1550.0,672.1 L1550.8,683.5 L1551.5,694.8 L1552.3,705.8 L1553.0,716.6 L1553.8,728.8 L1554.3,738.8 L1554.9,750.2 L1555.4,762.8 L1555.8,777.5 L1556.3,793.6 L1556.7,801.1 L1557.3,794.3 L1557.9,779.1 L1558.5,762.8 L1558.9,752.7 L1559.3,742.1 L1559.8,731.1 L1560.2,719.6 L1560.6,707.5 L1561.0,694.8 L1561.3,685.6 L1561.6,676.8 L1562.0,667.6 L1562.3,656.9 L1562.6,643.6 L1562.9,626.8 L1563.0,619.1 L1563.1,608.5 L1563.2,596.1 L1563.3,583.0 L1563.4,570.2 L1563.5,558.7 L1563.6,546.5 L1563.7,534.6 L1563.8,523.0 L1564.0,511.8 L1564.1,501.0 L1564.2,490.7 L1564.3,478.0 L1564.5,465.5 L1564.7,453.6 L1564.8,442.4 L1564.9,432.0 L1565.1,422.7 L1565.4,408.0 L1565.6,394.5 L1565.9,382.0 L1566.2,370.4 L1566.4,359.5 L1566.7,349.0 L1567.0,338.8 L1567.2,328.6 L1567.5,318.3 L1567.8,307.7 L1568.0,296.5 L1568.3,284.6 L1568.6,272.3 L1568.8,259.3 L1569.1,245.8 L1569.3,232.2 L1569.6,218.6 L1569.8,205.4 L1570.1,192.8 L1570.3,181.2 L1570.6,170.8 L1571.0,156.3 L1571.4,142.3 L1571.8,129.2 L1572.1,117.5 L1572.5,107.5 L1572.9,99.6 L1573.8,83.9 L1574.8,71.6 L1575.7,66.6 L1576.7,71.4 L1577.7,83.2 L1578.7,98.6 L1579.7,113.8 L1580.4,124.0 L1581.1,135.4 L1581.7,147.4 L1582.4,159.4 L1583.1,170.8 L1583.8,182.8 L1584.6,194.7 L1585.3,206.3 L1586.1,217.4 L1586.8,227.7 L1587.7,239.3 L1588.7,250.0 L1589.6,260.2 L1590.5,270.4 L1591.6,283.3 L1592.8,295.9 L1593.9,307.4 L1595.6,323.9 L1597.3,335.8 L1599.0,341.3 L1600.6,345.3 L1602.2,348.5 L1603.9,351.8 L1605.2,354.3 L1606.6,356.6 L1607.9,359.6 L1609.3,365.5 L1610.8,371.4 L1612.1,374.5 L1613.4,376.9 L1614.7,379.3 L1616.0,382.0 L1617.4,384.7 L1618.7,387.2 L1620.2,389.6 L1621.6,392.1 L1623.1,396.2 L1624.6,398.9 L1625.9,398.2 L1627.2,396.6 L1628.5,395.0 L1630.0,392.9 L1631.4,391.5 L1632.7,391.5 L1634.1,391.5 L1635.4,391.5 L1636.7,390.9 L1638.0,389.7 L1639.3,389.1 L1640.6,389.5 L1641.9,390.5 L1643.2,391.5 L1644.8,392.9 L1646.5,394.3 L1648.1,395.0 L1649.4,394.7 L1650.8,394.3 L1652.1,394.0 L1653.4,394.5 L1654.7,395.7 L1656.0,397.0 L1657.6,398.8 L1659.3,400.8 L1660.9,401.9 L1662.4,402.2 L1663.8,402.3 L1665.3,402.5 L1666.8,402.5 L1668.4,402.1 L1670.1,401.3 L1671.7,400.9 L1673.3,400.9 L1675.0,400.9 L1676.6,400.9 L1677.9,401.5 L1679.3,403.0 L1680.6,404.8 L1682.0,407.7 L1683.5,409.7 L1684.8,409.1 L1686.1,407.6 L1687.4,405.8 L1688.9,402.9 L1690.4,399.9 L1691.7,398.0 L1693.0,396.3 L1694.3,395.4 L1695.6,395.0 L1696.9,394.7 L1698.2,394.6 L1699.7,396.0 L1701.2,398.9 L1703.1,403.9 L1704.4,403.6 L1705.8,403.2 L1707.1,402.9 L1708.4,404.7 L1709.7,407.9 L1711.0,409.7 L1712.6,409.4 L1714.3,408.7 L1715.9,407.8 L1717.5,406.7 L1719.2,405.3 L1720.8,403.9 L1722.1,403.0 L1723.5,402.1 L1724.8,400.9 L1726.2,398.1 L1727.7,396.0 L1729.0,396.0 L1730.3,396.0 L1731.6,396.0 L1732.9,397.0 L1734.3,399.4 L1735.6,401.9 L1736.9,404.6 L1738.2,407.5 L1739.5,409.7 L1740.8,411.1 L1742.1,412.2 L1743.4,412.7 L1745.0,412.9 L1746.7,413.1 L1748.3,413.1 L1749.6,412.0 L1751.0,409.8 L1752.3,407.8 L1753.9,406.3 L1755.6,405.0 L1757.2,403.9 L1758.5,403.2 L1759.8,402.6 L1761.1,401.9 L1762.4,400.8 L1763.7,399.5 L1765.0,398.9 L1766.3,399.7 L1767.7,401.6 L1769.0,403.9 L1770.5,407.6 L1771.9,410.7 L1773.2,411.7 L1774.5,412.4 L1775.8,412.7 L1777.3,409.5 L1778.8,404.8 L1780.5,400.9 L1782.3,398.9 L1784.0,400.8 L1785.7,403.9 L1787.0,405.8 L1788.3,407.6 L1789.6,408.8 L1791.2,409.6 L1792.9,410.1 L1794.5,410.7 L1795.8,411.3 L1797.1,411.9 L1798.4,412.7 L1799.7,414.1 L1801.1,415.8 L1802.4,416.6 L1803.7,415.3 L1805.0,413.0 L1806.3,411.7 L1807.9,412.0 L1809.6,412.4 L1811.2,412.7 L1812.8,412.6 L1814.5,412.2 L1816.1,411.7 L1817.4,410.9 L1818.7,409.6 L1820.0,408.8 L1821.7,408.4 L1823.3,408.2 L1825.0,407.8 L1826.5,406.9 L1827.9,405.6 L1829.3,404.4 L1830.8,403.9 L1832.1,404.4 L1833.5,405.3 L1834.8,405.8 L1836.1,405.0 L1837.4,403.7 L1838.7,402.9 L1840.0,403.5 L1841.3,404.7 L1842.6,405.8 L1843.9,406.7 L1845.3,407.5 L1846.6,407.8 L1847.9,407.1 L1849.2,405.3 L1850.5,402.9 L1852.5,395.0 L1854.0,393.4 L1855.4,392.7 L1856.8,394.2 L1858.3,397.0 L1859.8,400.7 L1861.3,403.9 L1862.6,405.3 L1863.9,406.4 L1865.2,406.8 L1866.5,405.5 L1867.9,403.2 L1869.2,401.9 L1870.5,402.7 L1871.8,404.5 L1873.1,406.8 L1874.5,410.9 L1876.0,414.7 L1877.5,416.7 L1879.0,417.6 L1880.6,417.3 L1882.3,416.6 L1883.9,415.6 L1885.2,414.2 L1886.5,412.3 L1887.8,410.7 L1889.1,409.4 L1890.4,408.3 L1891.7,407.8 L1893.4,408.1 L1895.0,408.5 L1896.7,408.8 L1898.3,408.3 L1900.0,407.2 L1901.6,405.8 L1903.0,403.7 L1904.5,401.9 L1905.8,401.4 L1907.1,401.0 L1908.4,400.9 L1909.7,401.9 L1911.1,404.0 L1912.4,405.8 L1913.7,406.8 L1915.0,407.6 L1916.3,408.8 L1917.8,413.2 L1919.3,416.6 L1920.6,416.4 L1921.9,416.1 L1923.2,415.6 L1924.5,415.0 L1925.8,414.3 L1927.1,413.7 L1928.4,413.1 L1929.7,412.5 L1931.0,412.3 L1932.3,412.7 L1933.7,413.3 L1935.0,413.7 L1936.3,412.6 L1937.6,410.4 L1938.9,408.8 L1940.2,408.0 L1941.5,407.4 L1942.8,407.2 L1944.1,407.4 L1945.5,407.6 L1946.8,407.8 L1948.1,407.5 L1949.4,407.1 L1950.7,406.8 L1952.0,408.1 L1953.3,410.4 L1954.6,411.7 L1955.9,411.1 L1957.2,409.6 L1958.5,407.8 L1959.8,405.4 L1961.2,402.3 L1962.5,399.9 L1964.0,398.0 L1965.4,397.0 L1967.0,397.6 L1968.7,398.8 L1970.3,399.9 L1971.6,400.7 L1973.0,401.5 L1974.3,401.9 L1975.9,401.8 L1977.6,401.4 L1979.2,400.9 L1980.8,399.7 L1982.5,397.9 L1984.1,397.0 L1985.4,397.4 L1986.7,398.5 L1988.0,399.9 L1989.3,402.2 L1990.6,405.1 L1991.9,406.8 L1993.2,407.3 L1994.6,407.7 L1995.9,407.8 L1997.5,406.8 L1999.2,404.9 L2000.8,403.9 L2002.4,403.9 L2004.0,403.9"/>
<path transform="translate(0,0.9)" d="M147.0,406.7 L148.8,406.7 L150.5,406.7 L152.0,406.6 L153.6,406.2 L155.1,405.6 L156.7,404.8 L158.2,403.8 L159.5,402.2 L160.7,399.6 L162.0,397.1 L163.6,393.6 L165.2,390.1 L166.8,388.5 L168.4,389.6 L170.0,392.1 L171.6,395.2 L173.2,400.2 L174.8,406.3 L176.4,409.5 L177.7,409.8 L178.9,410.0 L180.2,410.1 L181.5,409.2 L182.8,407.6 L184.1,406.7 L185.8,407.6 L187.4,409.6 L189.1,411.5 L190.8,412.4 L192.4,411.8 L194.0,410.4 L195.6,408.6 L196.9,406.4 L198.2,403.3 L199.6,400.6 L200.9,399.4 L202.3,400.0 L203.8,401.3 L205.2,402.8 L206.8,405.4 L208.4,408.6 L210.0,410.1 L211.7,409.4 L213.3,407.9 L215.0,406.4 L216.7,405.7 L218.1,406.0 L219.6,406.6 L221.0,407.3 L222.4,407.6 L223.8,406.8 L225.3,405.0 L226.8,403.2 L228.2,402.4 L229.7,402.5 L231.2,402.9 L232.8,403.4 L234.3,404.0 L235.8,404.7 L237.3,406.2 L238.9,408.6 L240.4,411.3 L242.0,413.4 L243.5,414.3 L245.0,412.8 L246.6,409.1 L248.1,404.6 L249.7,400.9 L251.2,399.4 L252.9,400.3 L254.5,402.2 L256.2,404.2 L257.9,405.1 L259.6,403.9 L261.2,401.1 L262.9,398.4 L264.6,397.1 L266.1,397.7 L267.6,399.1 L269.2,400.9 L270.7,402.6 L272.2,403.8 L273.6,404.5 L275.1,405.1 L276.6,405.5 L278.0,405.7 L279.7,404.7 L281.4,402.5 L283.0,400.4 L284.7,399.4 L286.4,400.1 L288.0,401.8 L289.7,403.9 L291.4,405.7 L292.8,407.2 L294.3,408.7 L295.8,410.0 L297.2,410.5 L298.7,410.2 L300.2,409.3 L301.8,408.3 L303.3,407.3 L304.8,406.7 L306.2,406.4 L307.7,406.2 L309.2,406.0 L310.6,405.7 L312.0,404.8 L313.5,403.3 L314.9,401.5 L316.3,400.0 L317.8,398.5 L319.4,397.0 L320.9,395.6 L322.5,394.6 L324.0,394.2 L325.4,395.7 L326.9,399.0 L328.3,402.6 L329.7,404.7 L331.1,405.5 L332.6,406.2 L334.0,406.8 L335.5,407.2 L336.9,407.5 L338.4,407.6 L340.1,407.2 L341.8,406.3 L343.4,405.1 L345.1,403.8 L346.8,402.1 L348.5,399.8 L350.1,397.9 L351.8,397.1 L353.2,398.0 L354.6,399.9 L356.1,401.9 L357.5,402.8 L359.2,401.9 L360.9,399.9 L362.5,398.0 L364.2,397.1 L365.7,398.0 L367.3,400.1 L368.8,402.7 L370.4,404.8 L371.9,405.7 L373.3,405.1 L374.8,403.7 L376.2,401.9 L377.6,400.0 L379.1,398.6 L380.5,398.0 L382.2,398.9 L383.9,400.9 L385.5,402.9 L387.2,403.8 L388.7,403.8 L390.3,403.8 L391.8,403.8 L393.4,403.8 L394.9,403.8 L396.3,405.3 L397.8,408.6 L399.2,411.9 L400.7,413.4 L402.3,413.3 L403.9,412.9 L405.4,412.4 L407.0,412.0 L408.6,411.6 L410.2,411.5 L411.6,412.3 L413.1,414.2 L414.6,416.2 L416.0,417.2 L417.4,417.4 L418.9,417.5 L420.3,417.6 L421.7,417.8 L423.2,419.1 L424.8,421.8 L426.3,425.0 L427.9,427.6 L429.4,428.7 L430.8,428.1 L432.3,426.4 L433.7,424.1 L435.1,421.5 L436.6,418.9 L438.0,416.6 L439.5,414.9 L440.9,414.3 L442.4,415.8 L443.9,419.7 L445.5,424.6 L447.0,429.5 L448.5,434.6 L450.0,440.3 L451.5,445.4 L453.0,449.2 L454.6,452.5 L456.1,456.7 L457.6,463.0 L459.1,471.0 L460.6,479.4 L462.1,487.6 L463.6,496.3 L465.1,506.6 L466.2,516.7 L467.4,528.6 L468.5,540.6 L469.7,551.8 L470.8,563.2 L472.0,576.9 L472.7,588.2 L473.5,601.5 L474.2,615.4 L474.8,626.4 L475.4,637.8 L475.9,649.3 L476.5,660.8 L477.1,672.4 L477.6,684.1 L478.2,695.6 L478.8,706.1 L479.5,718.1 L480.3,729.2 L481.0,740.1 L481.8,751.8 L482.5,763.4 L483.3,774.1 L484.4,787.3 L485.0,782.8 L485.5,771.5 L486.1,756.2 L486.7,740.1 L487.0,731.8 L487.3,722.5 L487.6,712.3 L487.9,701.2 L488.1,689.3 L488.4,676.7 L488.7,663.3 L489.0,649.4 L489.2,639.9 L489.4,629.5 L489.6,618.3 L489.7,606.5 L489.9,594.2 L490.1,581.4 L490.2,571.0 L490.4,559.6 L490.5,547.5 L490.6,535.1 L490.8,522.8 L490.9,511.1 L491.1,500.3 L491.2,490.7 L491.4,477.4 L491.6,465.7 L491.9,455.2 L492.1,445.2 L492.3,435.2 L492.6,424.8 L492.8,413.2 L493.0,400.0 L493.1,390.1 L493.3,378.8 L493.4,366.6 L493.6,353.6 L493.7,340.2 L493.9,326.6 L494.0,313.2 L494.2,300.2 L494.3,288.0 L494.5,276.7 L494.6,266.8 L494.8,253.0 L495.1,239.8 L495.3,227.4 L495.5,215.7 L495.7,204.8 L495.9,194.5 L496.2,184.9 L496.4,176.1 L496.8,162.0 L497.2,148.9 L497.5,136.7 L497.9,125.8 L498.3,116.1 L498.7,108.0 L499.6,91.6 L500.4,76.6 L501.2,65.7 L502.1,61.5 L503.1,66.2 L504.1,77.9 L505.0,93.1 L506.0,108.0 L506.7,118.1 L507.4,129.3 L508.0,141.1 L508.7,153.0 L509.4,164.7 L510.1,176.3 L510.8,188.2 L511.4,199.6 L512.1,210.1 L513.0,222.6 L513.9,234.1 L514.8,244.9 L515.7,255.4 L516.8,267.8 L517.8,279.6 L518.9,289.4 L520.3,299.4 L521.8,307.6 L523.5,315.7 L525.2,323.4 L526.9,332.5 L528.6,341.6 L529.9,348.6 L531.2,355.4 L532.5,359.7 L533.9,361.7 L535.2,363.0 L536.6,364.3 L538.1,365.7 L539.6,367.0 L541.1,368.8 L542.8,373.5 L544.5,377.9 L546.0,379.2 L547.5,380.0 L549.0,381.3 L550.7,387.5 L552.4,393.7 L553.8,395.3 L555.2,396.4 L556.7,397.3 L558.1,397.8 L559.6,398.2 L561.2,398.6 L562.7,398.7 L564.1,397.9 L565.5,396.2 L566.9,394.5 L568.3,393.7 L569.7,395.1 L571.1,398.1 L572.6,401.2 L574.0,402.8 L575.7,403.2 L577.4,403.3 L579.1,399.1 L580.8,393.7 L582.5,391.4 L584.2,390.3 L585.9,392.1 L587.6,396.0 L589.3,403.5 L591.0,409.6 L592.7,410.4 L594.4,410.7 L595.9,409.7 L597.4,407.9 L598.9,406.9 L600.3,407.0 L601.8,407.3 L603.2,407.7 L604.6,407.8 L606.1,406.4 L607.6,403.4 L609.1,400.5 L610.7,397.9 L612.3,395.2 L613.9,393.1 L615.5,392.2 L617.0,392.7 L618.5,394.1 L620.1,395.7 L621.6,397.1 L623.0,398.3 L624.3,399.6 L625.7,400.8 L627.0,401.7 L628.4,402.1 L629.8,401.7 L631.1,400.9 L632.5,399.9 L633.8,399.1 L635.2,398.7 L636.6,398.8 L637.9,399.1 L639.3,399.6 L640.6,400.2 L642.0,401.0 L643.4,403.3 L644.9,407.2 L646.3,410.9 L647.7,412.6 L649.1,412.0 L650.5,410.5 L652.0,408.4 L653.4,406.2 L654.8,403.5 L656.2,400.1 L657.6,396.6 L659.0,393.7 L660.4,391.5 L661.7,389.6 L663.1,387.8 L664.4,386.2 L665.8,384.7 L667.2,383.0 L668.6,381.3 L670.1,380.0 L671.5,379.5 L672.9,379.8 L674.4,380.5 L675.8,381.5 L677.2,382.4 L678.6,383.5 L680.0,384.9 L681.4,386.0 L682.8,386.5 L684.3,385.7 L685.9,383.4 L687.4,380.1 L689.1,371.6 L690.8,357.5 L691.6,348.0 L692.5,335.9 L693.4,323.2 L694.2,312.1 L695.3,299.9 L696.5,288.7 L697.6,278.1 L699.3,262.2 L701.0,248.6 L703.2,236.8 L704.7,243.0 L706.2,255.4 L707.1,265.0 L708.0,277.1 L708.9,289.4 L709.8,300.4 L710.6,311.6 L711.4,323.0 L712.3,334.8 L713.0,345.0 L713.8,355.1 L714.5,366.4 L715.3,380.1 L715.7,391.1 L716.2,404.9 L716.6,419.8 L717.1,433.9 L717.5,445.4 L718.2,459.7 L718.9,472.8 L719.5,484.4 L720.2,494.2 L720.9,502.0 L722.4,516.6 L724.0,528.1 L725.5,532.7 L726.5,528.3 L727.4,517.4 L728.3,503.7 L729.3,490.7 L730.1,479.2 L731.0,466.4 L731.9,454.5 L732.7,445.4 L734.4,432.1 L736.1,424.9 L737.8,423.3 L739.4,422.3 L741.1,422.0 L742.7,422.4 L744.3,423.5 L745.9,425.1 L747.5,427.2 L749.0,431.6 L750.5,438.7 L752.0,445.4 L753.5,451.9 L755.0,458.0 L756.5,460.8 L758.2,451.9 L759.9,434.0 L760.7,424.4 L761.4,412.6 L762.2,400.0 L762.8,389.5 L763.3,380.1 L764.8,363.8 L766.4,351.7 L767.9,341.6 L769.3,332.3 L770.6,324.0 L772.0,320.5 L773.6,324.6 L775.3,334.5 L776.9,346.1 L778.0,354.7 L779.2,364.9 L780.4,377.1 L781.5,391.5 L782.0,400.9 L782.6,412.7 L783.2,424.6 L783.7,434.0 L784.9,448.5 L786.0,460.9 L787.1,471.1 L788.3,479.4 L789.6,487.7 L790.8,494.6 L792.1,497.5 L793.5,492.1 L794.8,480.1 L796.2,468.0 L797.7,455.7 L799.2,443.2 L800.7,434.0 L802.2,428.2 L803.8,423.7 L805.3,420.4 L806.9,417.8 L808.5,415.4 L810.0,413.5 L811.6,412.1 L813.2,411.3 L814.6,411.0 L815.9,410.8 L817.3,410.7 L818.6,410.5 L820.0,410.2 L821.4,409.4 L822.7,408.0 L824.1,406.3 L825.4,404.6 L826.8,403.4 L828.2,402.6 L829.5,402.0 L830.9,401.5 L832.2,400.8 L833.6,400.0 L835.1,398.6 L836.7,396.8 L838.2,394.9 L839.6,392.9 L841.0,390.6 L842.4,388.5 L843.8,386.9 L845.2,386.0 L846.6,385.5 L848.1,384.8 L849.5,383.5 L850.9,373.1 L852.2,357.5 L853.6,345.3 L854.9,333.8 L856.3,323.4 L857.7,313.5 L859.0,304.4 L860.4,298.5 L862.2,294.4 L864.0,292.6 L865.4,294.0 L866.9,297.4 L868.3,301.9 L869.9,310.0 L871.5,321.2 L873.1,334.5 L874.8,349.3 L875.9,360.0 L876.9,371.0 L878.0,379.4 L879.4,387.3 L880.9,393.6 L882.3,396.2 L883.7,394.3 L885.2,389.2 L886.6,381.6 L887.3,373.8 L888.1,361.6 L888.8,349.3 L889.5,338.2 L890.2,326.9 L890.9,316.9 L892.0,302.8 L893.1,293.2 L894.5,287.5 L895.9,285.1 L897.5,289.0 L899.1,297.6 L900.0,305.0 L900.8,315.6 L901.7,327.7 L902.4,339.5 L903.2,353.0 L903.9,366.5 L904.6,378.8 L905.3,391.0 L906.0,403.1 L906.7,415.3 L907.5,427.3 L908.2,439.7 L908.9,452.7 L909.6,466.1 L910.3,478.5 L911.0,490.4 L911.8,501.5 L912.5,510.8 L914.1,529.3 L915.7,538.8 L917.3,531.6 L918.9,517.3 L920.0,504.7 L921.1,489.3 L921.8,478.3 L922.5,466.7 L923.2,457.0 L924.3,445.6 L925.4,437.6 L927.0,431.4 L928.6,426.8 L930.2,422.4 L931.9,418.2 L933.3,414.1 L934.8,409.9 L936.2,405.3 L937.8,399.0 L939.4,393.4 L940.8,390.9 L942.3,389.0 L943.7,385.9 L945.9,370.8 L946.6,361.8 L947.3,350.1 L948.0,338.5 L948.7,327.7 L949.5,317.0 L950.2,306.2 L950.9,294.5 L951.6,282.7 L952.3,273.9 L954.0,260.6 L955.6,254.5 L957.2,260.3 L958.8,273.9 L959.3,281.3 L959.8,292.1 L960.4,304.6 L960.9,316.9 L961.5,329.7 L962.0,343.2 L962.5,357.1 L963.1,370.8 L963.6,384.2 L964.2,397.6 L964.8,411.1 L965.3,424.7 L965.8,439.0 L966.3,454.2 L966.9,468.0 L967.4,478.5 L968.5,494.4 L969.5,506.9 L970.6,511.9 L972.0,509.6 L973.5,503.6 L974.9,495.7 L976.0,485.9 L977.1,471.7 L978.2,457.0 L979.0,446.0 L979.8,434.0 L980.6,422.8 L981.4,413.9 L983.0,400.3 L984.6,392.3 L986.0,390.3 L987.5,389.1 L988.9,387.6 L990.4,385.5 L991.8,383.0 L993.3,379.4 L994.9,372.1 L996.5,360.0 L997.2,351.2 L997.9,339.4 L998.6,327.7 L999.3,315.8 L1000.1,304.1 L1000.8,295.4 L1002.2,283.7 L1003.7,274.8 L1005.1,271.3 L1006.7,276.9 L1008.3,288.9 L1009.2,298.8 L1010.2,312.4 L1011.1,327.7 L1011.8,339.7 L1012.4,353.3 L1013.1,367.6 L1013.7,381.6 L1014.4,395.1 L1015.0,408.7 L1015.6,422.2 L1016.3,435.4 L1017.0,449.6 L1017.7,463.8 L1018.4,477.2 L1019.1,489.3 L1019.9,501.7 L1020.7,513.3 L1021.5,523.7 L1022.3,532.4 L1023.7,547.0 L1025.2,559.4 L1026.6,564.7 L1027.7,559.5 L1028.8,547.2 L1029.9,532.4 L1030.6,521.4 L1031.3,507.9 L1032.0,493.1 L1032.7,478.5 L1033.3,465.0 L1034.0,451.1 L1034.7,437.4 L1035.3,424.7 L1036.0,412.9 L1036.6,401.6 L1037.2,391.1 L1037.9,381.6 L1038.8,368.8 L1039.8,357.4 L1040.7,349.3 L1042.2,340.6 L1043.7,333.4 L1045.2,328.4 L1046.7,326.6 L1048.3,330.2 L1049.8,338.8 L1051.4,349.3 L1052.5,358.1 L1053.6,369.3 L1054.7,381.6 L1055.5,391.6 L1056.3,402.7 L1057.1,414.1 L1057.9,424.7 L1059.0,438.1 L1060.0,450.9 L1061.1,461.3 L1062.5,473.5 L1064.0,483.8 L1065.4,488.2 L1066.8,485.2 L1068.3,477.6 L1069.7,467.7 L1070.5,459.9 L1071.3,449.3 L1072.2,437.1 L1073.0,424.7 L1073.8,412.2 L1074.6,398.6 L1075.4,384.6 L1076.2,370.8 L1077.0,357.1 L1077.8,343.4 L1078.6,329.8 L1079.4,316.9 L1080.3,301.4 L1081.3,286.5 L1082.2,276.0 L1083.6,265.8 L1085.1,258.1 L1086.5,255.1 L1088.3,261.6 L1090.2,276.0 L1091.0,285.5 L1091.8,298.7 L1092.6,313.6 L1093.4,327.7 L1094.2,341.1 L1095.1,354.5 L1095.9,368.0 L1096.7,381.6 L1097.5,395.2 L1098.3,409.1 L1099.1,422.7 L1099.9,435.4 L1100.7,447.6 L1101.5,459.6 L1102.3,470.3 L1103.1,478.5 L1104.5,490.2 L1106.0,499.5 L1107.4,503.3 L1108.8,499.9 L1110.3,491.9 L1111.7,482.8 L1113.3,469.0 L1115.0,457.0 L1116.4,452.4 L1117.9,449.2 L1119.3,446.2 L1120.7,443.5 L1122.2,441.0 L1123.6,437.6 L1125.0,431.6 L1126.5,423.2 L1127.9,413.9 L1129.3,404.2 L1130.8,393.5 L1132.2,381.6 L1133.3,371.5 L1134.3,360.3 L1135.4,349.3 L1136.5,337.2 L1137.6,325.2 L1138.7,316.9 L1140.5,309.2 L1142.3,305.7 L1143.6,308.7 L1144.9,316.7 L1146.2,327.7 L1146.8,335.0 L1147.3,345.7 L1147.9,358.1 L1148.4,370.8 L1148.9,383.3 L1149.5,397.0 L1150.0,411.1 L1150.5,424.7 L1151.0,438.6 L1151.6,452.4 L1152.2,465.8 L1152.7,478.5 L1153.2,490.7 L1153.8,502.9 L1154.3,513.7 L1154.8,521.6 L1156.4,538.7 L1158.1,546.4 L1159.7,537.5 L1161.3,521.6 L1162.4,511.1 L1163.4,499.7 L1164.5,489.3 L1165.9,477.8 L1167.4,467.4 L1168.8,457.0 L1170.2,445.6 L1171.7,434.3 L1173.1,424.7 L1174.8,416.0 L1176.4,409.6 L1177.8,406.2 L1179.3,403.6 L1180.7,401.0 L1182.1,398.6 L1183.6,396.2 L1185.0,392.3 L1186.0,383.8 L1187.1,370.8 L1187.8,361.1 L1188.6,350.1 L1189.3,338.5 L1190.0,326.5 L1190.7,313.9 L1191.4,301.9 L1192.1,289.3 L1192.9,277.4 L1193.6,269.5 L1195.4,259.6 L1197.3,255.5 L1198.7,257.6 L1200.0,263.1 L1200.5,269.1 L1201.1,279.9 L1201.7,293.1 L1202.2,306.2 L1202.7,318.7 L1203.2,332.4 L1203.8,346.4 L1204.3,360.0 L1204.8,373.6 L1205.4,387.0 L1206.0,400.3 L1206.5,413.9 L1207.0,427.7 L1207.5,442.1 L1208.1,455.8 L1208.6,467.7 L1209.2,480.8 L1209.9,492.9 L1210.5,503.3 L1211.2,510.8 L1212.6,522.9 L1214.1,532.0 L1215.5,535.6 L1216.8,531.9 L1218.1,522.7 L1219.4,510.8 L1220.1,501.8 L1220.8,490.1 L1221.5,478.5 L1222.2,467.3 L1223.0,456.2 L1223.7,446.2 L1225.0,429.6 L1226.3,418.2 L1227.7,412.4 L1229.1,407.9 L1230.5,404.9 L1231.9,403.8 L1233.7,408.9 L1235.5,418.2 L1237.2,427.4 L1238.8,437.6 L1240.4,446.9 L1242.0,457.0 L1243.6,470.6 L1245.2,482.8 L1246.5,489.9 L1247.9,496.4 L1249.2,501.1 L1250.6,502.9 L1252.0,500.8 L1253.5,495.6 L1254.9,489.3 L1256.6,478.5 L1258.2,467.7 L1259.8,462.2 L1261.4,457.0 L1263.0,448.7 L1264.6,439.7 L1266.2,431.5 L1267.9,424.7 L1270.0,419.3 L1271.4,417.4 L1272.9,416.1 L1274.3,415.0 L1275.7,414.2 L1277.2,413.5 L1278.6,412.8 L1280.0,411.8 L1281.5,410.7 L1282.9,409.6 L1284.3,408.3 L1285.8,406.9 L1287.2,406.3 L1288.5,407.0 L1289.9,408.5 L1291.2,410.0 L1292.6,410.7 L1294.0,410.1 L1295.5,408.9 L1296.9,407.4 L1298.3,405.7 L1299.8,403.7 L1301.2,402.0 L1302.7,400.8 L1304.1,399.9 L1305.6,398.8 L1307.0,397.7 L1308.5,396.5 L1309.9,394.5 L1312.0,381.6 L1313.1,371.5 L1314.2,360.0 L1315.2,348.4 L1316.3,338.5 L1318.5,327.7 L1320.1,324.3 L1321.7,322.8 L1323.3,326.2 L1324.9,334.2 L1326.0,345.3 L1327.1,360.0 L1328.2,373.9 L1329.3,388.0 L1330.3,401.1 L1331.4,413.9 L1332.5,427.0 L1333.6,439.7 L1334.8,455.4 L1336.1,467.7 L1337.8,477.2 L1339.4,484.3 L1341.1,487.1 L1342.5,484.1 L1344.0,476.8 L1345.4,467.7 L1346.5,458.9 L1347.5,447.4 L1348.6,435.4 L1349.7,421.9 L1350.8,409.6 L1352.1,399.1 L1353.4,392.3 L1354.7,389.2 L1356.0,387.0 L1357.3,385.9 L1358.9,385.2 L1360.5,384.7 L1362.1,384.3 L1363.7,384.2 L1365.1,385.0 L1366.6,386.8 L1368.0,389.1 L1369.7,392.9 L1371.3,396.6 L1372.7,398.8 L1374.1,399.9 L1375.3,397.6 L1376.6,392.3 L1377.7,383.5 L1378.8,370.8 L1379.5,361.1 L1380.3,349.9 L1381.0,338.5 L1381.7,326.6 L1382.4,314.6 L1383.1,306.2 L1384.7,295.4 L1386.3,290.7 L1387.9,295.7 L1389.6,306.2 L1390.7,316.1 L1391.7,329.8 L1392.8,344.9 L1393.5,356.4 L1394.3,369.2 L1395.0,381.6 L1395.7,392.6 L1396.4,403.3 L1397.1,413.9 L1397.8,424.7 L1398.6,435.4 L1399.3,446.2 L1400.0,457.0 L1400.7,467.9 L1401.4,478.5 L1402.3,493.1 L1403.3,507.2 L1404.2,517.3 L1405.7,527.7 L1407.1,536.5 L1408.5,542.6 L1410.0,544.9 L1411.4,541.1 L1412.9,532.1 L1414.3,521.6 L1415.4,512.0 L1416.5,500.5 L1417.6,489.3 L1419.2,473.8 L1420.8,461.3 L1422.4,453.2 L1424.0,448.3 L1425.3,446.3 L1426.7,444.7 L1428.1,443.6 L1429.4,443.0 L1430.9,442.7 L1432.4,442.5 L1434.0,442.4 L1435.5,442.2 L1437.0,441.9 L1438.3,441.3 L1439.7,440.2 L1441.1,438.9 L1442.4,437.6 L1443.7,436.4 L1445.1,435.2 L1446.4,433.8 L1447.7,432.2 L1449.1,430.2 L1450.6,427.7 L1452.0,424.7 L1453.7,419.1 L1455.3,413.9 L1456.9,411.2 L1458.5,409.6 L1460.1,409.0 L1461.7,408.7 L1463.0,409.0 L1464.4,409.8 L1465.8,410.8 L1467.1,411.7 L1468.4,412.4 L1469.8,413.1 L1471.2,413.9 L1472.5,415.0 L1474.1,418.1 L1475.7,421.4 L1477.2,423.1 L1478.6,424.5 L1480.1,425.1 L1481.5,424.5 L1483.0,423.0 L1484.4,421.4 L1485.7,419.9 L1487.1,418.3 L1488.4,416.6 L1489.7,415.0 L1491.2,413.1 L1492.6,411.2 L1494.1,410.0 L1495.7,409.4 L1497.3,409.1 L1498.9,410.7 L1500.5,413.9 L1502.1,418.0 L1503.7,422.5 L1505.2,426.2 L1506.6,429.6 L1508.1,432.2 L1509.5,434.0 L1511.0,435.3 L1512.4,436.5 L1513.8,437.4 L1515.1,438.2 L1516.5,438.9 L1517.8,439.7 L1519.2,440.6 L1520.7,441.6 L1522.1,443.0 L1523.7,447.1 L1525.3,452.7 L1526.7,456.7 L1528.2,460.6 L1529.6,465.6 L1531.2,474.5 L1532.8,485.0 L1534.4,494.5 L1536.1,504.4 L1537.7,515.7 L1539.3,528.1 L1540.9,540.9 L1542.5,556.1 L1543.2,565.5 L1544.0,576.7 L1544.8,589.1 L1545.5,602.0 L1546.2,614.8 L1547.0,626.8 L1547.8,638.2 L1548.5,649.4 L1549.3,660.8 L1550.0,672.1 L1550.8,683.5 L1551.5,694.8 L1552.3,705.8 L1553.0,716.6 L1553.8,728.8 L1554.3,738.8 L1554.9,750.2 L1555.4,762.8 L1555.8,777.5 L1556.3,793.6 L1556.7,801.1 L1557.3,794.3 L1557.9,779.1 L1558.5,762.8 L1558.9,752.7 L1559.3,742.1 L1559.8,731.1 L1560.2,719.6 L1560.6,707.5 L1561.0,694.8 L1561.3,685.6 L1561.6,676.8 L1562.0,667.6 L1562.3,656.9 L1562.6,643.6 L1562.9,626.8 L1563.0,619.1 L1563.1,608.5 L1563.2,596.1 L1563.3,583.0 L1563.4,570.2 L1563.5,558.7 L1563.6,546.5 L1563.7,534.6 L1563.8,523.0 L1564.0,511.8 L1564.1,501.0 L1564.2,490.7 L1564.3,478.0 L1564.5,465.5 L1564.7,453.6 L1564.8,442.4 L1564.9,432.0 L1565.1,422.7 L1565.4,408.0 L1565.6,394.5 L1565.9,382.0 L1566.2,370.4 L1566.4,359.5 L1566.7,349.0 L1567.0,338.8 L1567.2,328.6 L1567.5,318.3 L1567.8,307.7 L1568.0,296.5 L1568.3,284.6 L1568.6,272.3 L1568.8,259.3 L1569.1,245.8 L1569.3,232.2 L1569.6,218.6 L1569.8,205.4 L1570.1,192.8 L1570.3,181.2 L1570.6,170.8 L1571.0,156.3 L1571.4,142.3 L1571.8,129.2 L1572.1,117.5 L1572.5,107.5 L1572.9,99.6 L1573.8,83.9 L1574.8,71.6 L1575.7,66.6 L1576.7,71.4 L1577.7,83.2 L1578.7,98.6 L1579.7,113.8 L1580.4,124.0 L1581.1,135.4 L1581.7,147.4 L1582.4,159.4 L1583.1,170.8 L1583.8,182.8 L1584.6,194.7 L1585.3,206.3 L1586.1,217.4 L1586.8,227.7 L1587.7,239.3 L1588.7,250.0 L1589.6,260.2 L1590.5,270.4 L1591.6,283.3 L1592.8,295.9 L1593.9,307.4 L1595.6,323.9 L1597.3,335.8 L1599.0,341.3 L1600.6,345.3 L1602.2,348.5 L1603.9,351.8 L1605.2,354.3 L1606.6,356.6 L1607.9,359.6 L1609.3,365.5 L1610.8,371.4 L1612.1,374.5 L1613.4,376.9 L1614.7,379.3 L1616.0,382.0 L1617.4,384.7 L1618.7,387.2 L1620.2,389.6 L1621.6,392.1 L1623.1,396.2 L1624.6,398.9 L1625.9,398.2 L1627.2,396.6 L1628.5,395.0 L1630.0,392.9 L1631.4,391.5 L1632.7,391.5 L1634.1,391.5 L1635.4,391.5 L1636.7,390.9 L1638.0,389.7 L1639.3,389.1 L1640.6,389.5 L1641.9,390.5 L1643.2,391.5 L1644.8,392.9 L1646.5,394.3 L1648.1,395.0 L1649.4,394.7 L1650.8,394.3 L1652.1,394.0 L1653.4,394.5 L1654.7,395.7 L1656.0,397.0 L1657.6,398.8 L1659.3,400.8 L1660.9,401.9 L1662.4,402.2 L1663.8,402.3 L1665.3,402.5 L1666.8,402.5 L1668.4,402.1 L1670.1,401.3 L1671.7,400.9 L1673.3,400.9 L1675.0,400.9 L1676.6,400.9 L1677.9,401.5 L1679.3,403.0 L1680.6,404.8 L1682.0,407.7 L1683.5,409.7 L1684.8,409.1 L1686.1,407.6 L1687.4,405.8 L1688.9,402.9 L1690.4,399.9 L1691.7,398.0 L1693.0,396.3 L1694.3,395.4 L1695.6,395.0 L1696.9,394.7 L1698.2,394.6 L1699.7,396.0 L1701.2,398.9 L1703.1,403.9 L1704.4,403.6 L1705.8,403.2 L1707.1,402.9 L1708.4,404.7 L1709.7,407.9 L1711.0,409.7 L1712.6,409.4 L1714.3,408.7 L1715.9,407.8 L1717.5,406.7 L1719.2,405.3 L1720.8,403.9 L1722.1,403.0 L1723.5,402.1 L1724.8,400.9 L1726.2,398.1 L1727.7,396.0 L1729.0,396.0 L1730.3,396.0 L1731.6,396.0 L1732.9,397.0 L1734.3,399.4 L1735.6,401.9 L1736.9,404.6 L1738.2,407.5 L1739.5,409.7 L1740.8,411.1 L1742.1,412.2 L1743.4,412.7 L1745.0,412.9 L1746.7,413.1 L1748.3,413.1 L1749.6,412.0 L1751.0,409.8 L1752.3,407.8 L1753.9,406.3 L1755.6,405.0 L1757.2,403.9 L1758.5,403.2 L1759.8,402.6 L1761.1,401.9 L1762.4,400.8 L1763.7,399.5 L1765.0,398.9 L1766.3,399.7 L1767.7,401.6 L1769.0,403.9 L1770.5,407.6 L1771.9,410.7 L1773.2,411.7 L1774.5,412.4 L1775.8,412.7 L1777.3,409.5 L1778.8,404.8 L1780.5,400.9 L1782.3,398.9 L1784.0,400.8 L1785.7,403.9 L1787.0,405.8 L1788.3,407.6 L1789.6,408.8 L1791.2,409.6 L1792.9,410.1 L1794.5,410.7 L1795.8,411.3 L1797.1,411.9 L1798.4,412.7 L1799.7,414.1 L1801.1,415.8 L1802.4,416.6 L1803.7,415.3 L1805.0,413.0 L1806.3,411.7 L1807.9,412.0 L1809.6,412.4 L1811.2,412.7 L1812.8,412.6 L1814.5,412.2 L1816.1,411.7 L1817.4,410.9 L1818.7,409.6 L1820.0,408.8 L1821.7,408.4 L1823.3,408.2 L1825.0,407.8 L1826.5,406.9 L1827.9,405.6 L1829.3,404.4 L1830.8,403.9 L1832.1,404.4 L1833.5,405.3 L1834.8,405.8 L1836.1,405.0 L1837.4,403.7 L1838.7,402.9 L1840.0,403.5 L1841.3,404.7 L1842.6,405.8 L1843.9,406.7 L1845.3,407.5 L1846.6,407.8 L1847.9,407.1 L1849.2,405.3 L1850.5,402.9 L1852.5,395.0 L1854.0,393.4 L1855.4,392.7 L1856.8,394.2 L1858.3,397.0 L1859.8,400.7 L1861.3,403.9 L1862.6,405.3 L1863.9,406.4 L1865.2,406.8 L1866.5,405.5 L1867.9,403.2 L1869.2,401.9 L1870.5,402.7 L1871.8,404.5 L1873.1,406.8 L1874.5,410.9 L1876.0,414.7 L1877.5,416.7 L1879.0,417.6 L1880.6,417.3 L1882.3,416.6 L1883.9,415.6 L1885.2,414.2 L1886.5,412.3 L1887.8,410.7 L1889.1,409.4 L1890.4,408.3 L1891.7,407.8 L1893.4,408.1 L1895.0,408.5 L1896.7,408.8 L1898.3,408.3 L1900.0,407.2 L1901.6,405.8 L1903.0,403.7 L1904.5,401.9 L1905.8,401.4 L1907.1,401.0 L1908.4,400.9 L1909.7,401.9 L1911.1,404.0 L1912.4,405.8 L1913.7,406.8 L1915.0,407.6 L1916.3,408.8 L1917.8,413.2 L1919.3,416.6 L1920.6,416.4 L1921.9,416.1 L1923.2,415.6 L1924.5,415.0 L1925.8,414.3 L1927.1,413.7 L1928.4,413.1 L1929.7,412.5 L1931.0,412.3 L1932.3,412.7 L1933.7,413.3 L1935.0,413.7 L1936.3,412.6 L1937.6,410.4 L1938.9,408.8 L1940.2,408.0 L1941.5,407.4 L1942.8,407.2 L1944.1,407.4 L1945.5,407.6 L1946.8,407.8 L1948.1,407.5 L1949.4,407.1 L1950.7,406.8 L1952.0,408.1 L1953.3,410.4 L1954.6,411.7 L1955.9,411.1 L1957.2,409.6 L1958.5,407.8 L1959.8,405.4 L1961.2,402.3 L1962.5,399.9 L1964.0,398.0 L1965.4,397.0 L1967.0,397.6 L1968.7,398.8 L1970.3,399.9 L1971.6,400.7 L1973.0,401.5 L1974.3,401.9 L1975.9,401.8 L1977.6,401.4 L1979.2,400.9 L1980.8,399.7 L1982.5,397.9 L1984.1,397.0 L1985.4,397.4 L1986.7,398.5 L1988.0,399.9 L1989.3,402.2 L1990.6,405.1 L1991.9,406.8 L1993.2,407.3 L1994.6,407.7 L1995.9,407.8 L1997.5,406.8 L1999.2,404.9 L2000.8,403.9 L2002.4,403.9 L2004.0,403.9"/>
</g>
</g>
<g id="markers">
<rect x="695.1" y="208.4" width="31" height="30" fill="#000"/>
<rect x="846.9" y="206.2" width="31" height="30" fill="#000"/>
<rect x="881.3" y="206.6" width="31" height="30" fill="#000"/>
<rect x="1185.1" y="218.0" width="31" height="30" fill="#000"/>
<rect x="1230.5" y="218.0" width="31" height="30" fill="#000"/>
<rect x="1373.1" y="219.5" width="31" height="30" fill="#000"/>
<circle cx="770.1" cy="226.1" r="20" fill="#ff0000"/>
<circle cx="958.8" cy="227.9" r="20" fill="#ff0000"/>
<circle cx="1145.5" cy="234.5" r="20" fill="#ff0000"/>
<circle cx="1324.0" cy="236.7" r="20" fill="#ff0000"/>
</g>
<g id="ticklabels">
<text x="273.3" y="1609.2" text-anchor="middle" class="tk">3160</text>
<text x="520.0" y="1609.2" text-anchor="middle" class="tk">3180</text>
<text x="766.7" y="1609.2" text-anchor="middle" class="tk">3200</text>
<text x="1013.4" y="1609.2" text-anchor="middle" class="tk">3220</text>
<text x="1260.1" y="1609.2" text-anchor="middle" class="tk">3240</text>
<text x="1506.7" y="1609.2" text-anchor="middle" class="tk">3260</text>
<text x="1753.4" y="1609.2" text-anchor="middle" class="tk">3280</text>
<text x="2000.1" y="1609.2" text-anchor="middle" class="tk">3300</text>
</g>
<text class="ax" x="1076.3" y="1730.7" text-anchor="middle">Magnetic filed (G)</text>
<text class="ax" style="font-size:77.1px" transform="translate(85.7,790) rotate(-90)" text-anchor="middle">Intensity (a.u.)</text>
<g id="legend">
<rect x="1604" y="91.9" width="152.2" height="8.1" rx="2" fill="#ff0000"/>
<rect x="1604" y="184" width="152.2" height="8.1" rx="2" fill="#000000"/>
<rect x="1604" y="276.3" width="152.2" height="8.1" rx="2" fill="#0000ff"/>
<g transform="translate(1769,0) scale(0.978,1)">
<text class="lg" x="0" y="118.4">VUV/O<tspan class="sub" dy="17">3</tspan></text>
<text class="lg" x="0" y="210.6">O<tspan class="sub" dy="17">3</tspan></text>
<text class="lg" x="0" y="302.4">VUV</text>
</g>
</g>
</svg>
</body></html>
